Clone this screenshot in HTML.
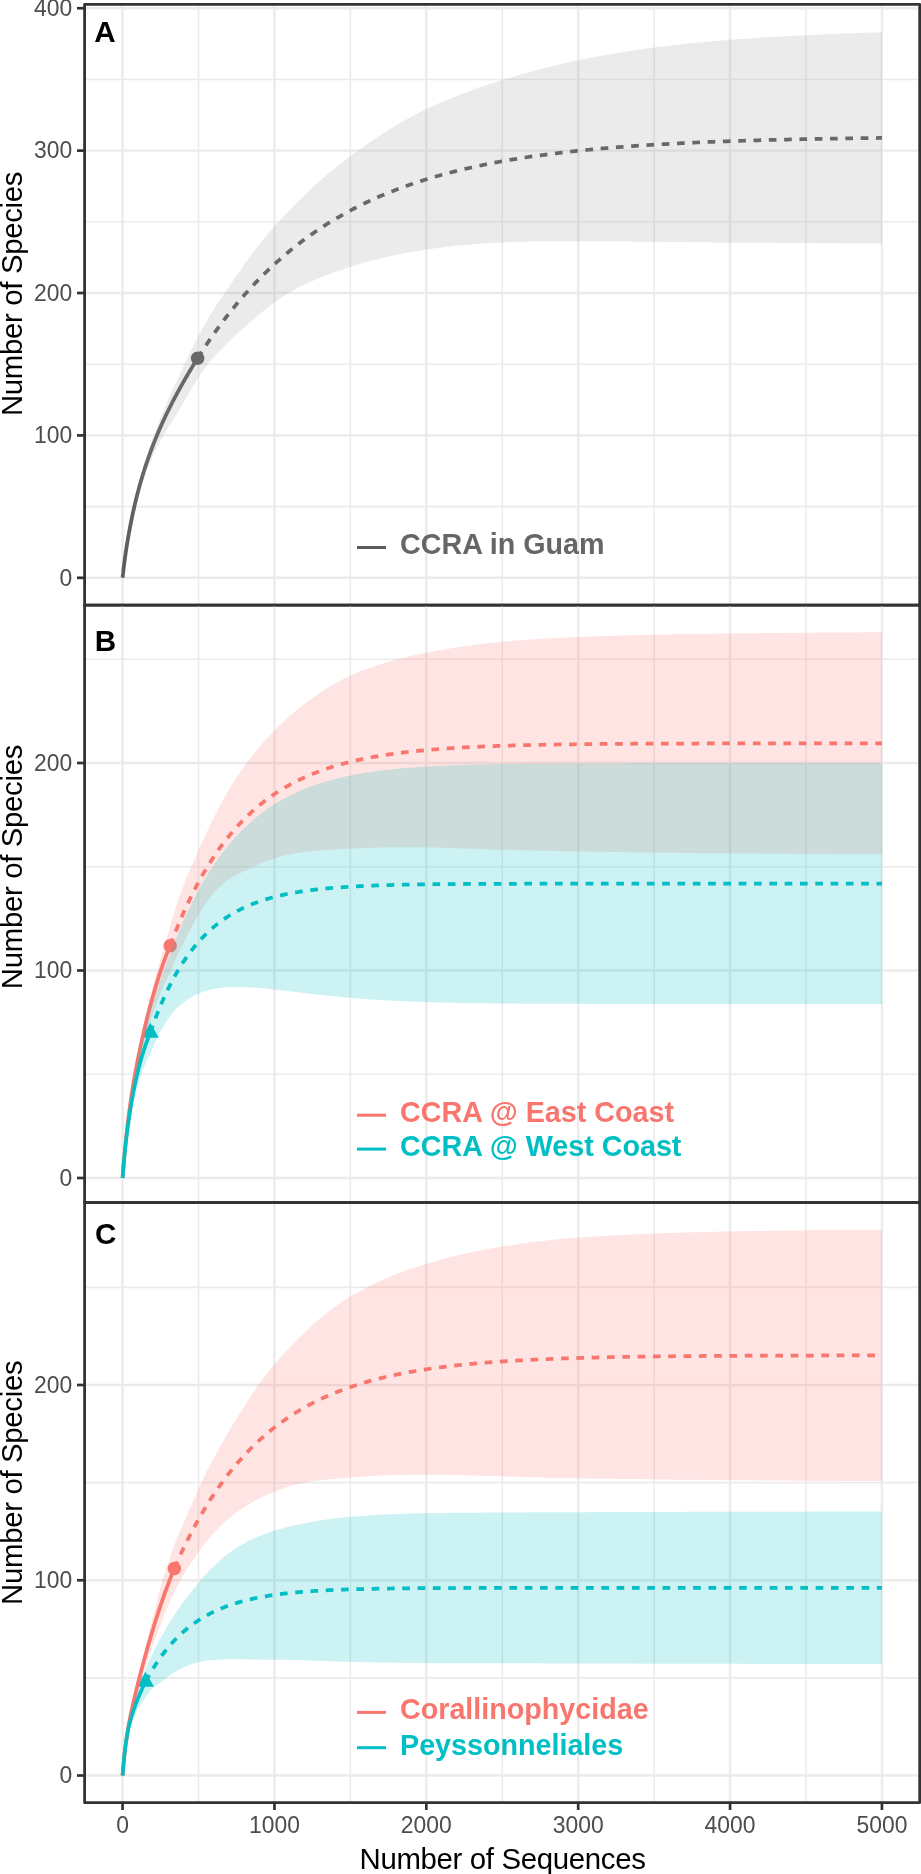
<!DOCTYPE html>
<html><head><meta charset="utf-8"><title>Rarefaction curves</title>
<style>html,body{margin:0;padding:0;background:#fff;width:921px;height:1874px;overflow:hidden;font-family:"Liberation Sans",sans-serif;}svg{display:block;will-change:transform;}</style>
</head><body>
<svg width="921" height="1874" viewBox="0 0 921 1874">
<rect width="921" height="1874" fill="#ffffff"/>
<g id="panelA">
<line x1="84.6" x2="919.7" y1="506.60" y2="506.60" stroke="#EBEBEB" stroke-width="1.6"/>
<line x1="84.6" x2="919.7" y1="364.21" y2="364.21" stroke="#EBEBEB" stroke-width="1.6"/>
<line x1="84.6" x2="919.7" y1="221.82" y2="221.82" stroke="#EBEBEB" stroke-width="1.6"/>
<line x1="84.6" x2="919.7" y1="79.44" y2="79.44" stroke="#EBEBEB" stroke-width="1.6"/>
<line x1="198.51" x2="198.51" y1="4.45" y2="605.2" stroke="#EBEBEB" stroke-width="1.6"/>
<line x1="350.38" x2="350.38" y1="4.45" y2="605.2" stroke="#EBEBEB" stroke-width="1.6"/>
<line x1="502.25" x2="502.25" y1="4.45" y2="605.2" stroke="#EBEBEB" stroke-width="1.6"/>
<line x1="654.13" x2="654.13" y1="4.45" y2="605.2" stroke="#EBEBEB" stroke-width="1.6"/>
<line x1="806.00" x2="806.00" y1="4.45" y2="605.2" stroke="#EBEBEB" stroke-width="1.6"/>
<line x1="84.6" x2="919.7" y1="577.80" y2="577.80" stroke="#EBEBEB" stroke-width="2.4"/>
<line x1="84.6" x2="919.7" y1="435.41" y2="435.41" stroke="#EBEBEB" stroke-width="2.4"/>
<line x1="84.6" x2="919.7" y1="293.02" y2="293.02" stroke="#EBEBEB" stroke-width="2.4"/>
<line x1="84.6" x2="919.7" y1="150.63" y2="150.63" stroke="#EBEBEB" stroke-width="2.4"/>
<line x1="84.6" x2="919.7" y1="8.24" y2="8.24" stroke="#EBEBEB" stroke-width="2.4"/>
<line x1="122.58" x2="122.58" y1="4.45" y2="605.2" stroke="#EBEBEB" stroke-width="2.4"/>
<line x1="274.45" x2="274.45" y1="4.45" y2="605.2" stroke="#EBEBEB" stroke-width="2.4"/>
<line x1="426.32" x2="426.32" y1="4.45" y2="605.2" stroke="#EBEBEB" stroke-width="2.4"/>
<line x1="578.19" x2="578.19" y1="4.45" y2="605.2" stroke="#EBEBEB" stroke-width="2.4"/>
<line x1="730.06" x2="730.06" y1="4.45" y2="605.2" stroke="#EBEBEB" stroke-width="2.4"/>
<line x1="881.93" x2="881.93" y1="4.45" y2="605.2" stroke="#EBEBEB" stroke-width="2.4"/>
<circle cx="197.60" cy="358.23" r="6.75" fill="#5C5C5C"/>
<path d="M122.58,577.80 L122.58,577.79 L122.58,577.75 L122.59,577.70 L122.60,577.62 L122.61,577.51 L122.62,577.39 L122.64,577.24 L122.66,577.06 L122.68,576.87 L122.70,576.65 L122.73,576.42 L122.75,576.16 L122.78,575.88 L122.82,575.57 L122.85,575.25 L122.89,574.91 L122.93,574.54 L122.97,574.16 L123.02,573.76 L123.06,573.33 L123.11,572.89 L123.17,572.43 L123.22,571.95 L123.28,571.46 L123.34,570.94 L123.40,570.41 L123.46,569.87 L123.53,569.30 L123.60,568.72 L123.67,568.13 L123.74,567.52 L123.82,566.90 L123.90,566.26 L123.98,565.61 L124.06,564.94 L124.15,564.26 L124.24,563.57 L124.33,562.86 L124.42,562.15 L124.52,561.42 L124.61,560.68 L124.71,559.93 L124.82,559.17 L124.92,558.39 L125.03,557.61 L125.14,556.82 L125.25,556.01 L125.37,555.20 L125.49,554.38 L125.61,553.55 L125.73,552.71 L125.85,551.86 L125.98,551.01 L126.11,550.15 L126.24,549.28 L126.37,548.40 L126.51,547.51 L126.65,546.62 L126.79,545.72 L126.94,544.81 L127.08,543.90 L127.23,542.98 L127.38,542.06 L127.54,541.13 L127.69,540.19 L127.85,539.25 L128.01,538.31 L128.18,537.36 L128.34,536.40 L128.51,535.44 L128.68,534.47 L128.85,533.50 L129.03,532.53 L129.21,531.55 L129.39,530.57 L129.57,529.58 L129.75,528.60 L129.94,527.60 L130.13,526.61 L130.32,525.61 L130.52,524.61 L130.72,523.60 L130.92,522.59 L131.12,521.58 L131.32,520.57 L131.53,519.56 L131.74,518.54 L131.95,517.52 L132.16,516.50 L132.38,515.48 L132.60,514.45 L132.82,513.43 L133.05,512.40 L133.27,511.37 L133.50,510.34 L133.73,509.31 L133.97,508.28 L134.20,507.24 L134.44,506.21 L134.68,505.17 L134.92,504.14 L135.17,503.10 L135.42,502.06 L135.67,501.02 L135.92,499.99 L136.18,498.95 L136.43,497.91 L136.69,496.87 L136.96,495.83 L137.22,494.79 L137.49,493.75 L137.76,492.71 L138.03,491.67 L138.31,490.64 L138.58,489.60 L138.86,488.56 L139.14,487.52 L139.43,486.48 L139.72,485.45 L140.00,484.41 L140.30,483.38 L140.59,482.34 L140.89,481.31 L141.19,480.27 L141.49,479.24 L141.79,478.21 L142.10,477.18 L142.41,476.15 L142.72,475.12 L143.03,474.09 L143.35,473.07 L143.66,472.04 L143.98,471.02 L144.31,469.99 L144.63,468.97 L144.96,467.95 L145.29,466.93 L145.62,465.91 L145.96,464.89 L146.30,463.87 L146.64,462.86 L146.98,461.84 L147.32,460.83 L147.67,459.82 L148.02,458.81 L148.37,457.80 L148.73,456.79 L149.08,455.78 L149.44,454.78 L149.81,453.77 L150.17,452.77 L150.54,451.77 L150.91,450.77 L151.28,449.77 L151.65,448.77 L152.03,447.78 L152.41,446.78 L152.79,445.79 L153.17,444.80 L153.56,443.80 L153.95,442.81 L154.34,441.83 L154.73,440.84 L155.13,439.85 L155.52,438.87 L155.92,437.89 L156.33,436.90 L156.73,435.92 L157.14,434.94 L157.55,433.96 L157.96,432.99 L158.38,432.01 L158.80,431.04 L159.22,430.06 L159.64,429.09 L160.06,428.12 L160.49,427.15 L160.92,426.18 L161.35,425.21 L161.79,424.24 L162.22,423.27 L162.66,422.31 L163.10,421.34 L163.55,420.38 L163.99,419.41 L164.44,418.45 L164.89,417.49 L165.35,416.53 L165.80,415.57 L166.26,414.61 L166.72,413.65 L167.19,412.69 L167.65,411.74 L168.12,410.78 L168.59,409.82 L169.06,408.87 L169.54,407.91 L170.02,406.96 L170.50,406.00 L170.98,405.05 L171.47,404.10 L171.95,403.14 L172.44,402.19 L172.94,401.24 L173.43,400.29 L173.93,399.33 L174.43,398.38 L174.93,397.43 L175.44,396.48 L175.94,395.53 L176.45,394.58 L176.96,393.63 L177.48,392.67 L178.00,391.72 L178.51,390.77 L179.04,389.82 L179.56,388.87 L180.09,387.92 L180.61,386.97 L181.15,386.01 L181.68,385.06 L182.22,384.11 L182.75,383.16 L183.30,382.21 L183.84,381.25 L184.38,380.30 L184.93,379.34 L185.48,378.39 L186.04,377.44 L186.59,376.48 L187.15,375.53 L187.71,374.57 L188.27,373.61 L188.84,372.66 L189.40,371.70 L189.97,370.74 L190.55,369.78 L191.12,368.82 L191.70,367.86 L192.28,366.90 L192.86,365.94 L193.44,364.98 L194.03,364.02 L194.62,363.06 L195.21,362.09 L195.81,361.13 L196.40,360.17 L197.00,359.20 L197.60,358.23" fill="none" stroke="#5C5C5C" stroke-width="3.75" stroke-linejoin="round"/>
<path d="M197.60,358.23 L199.32,355.52 L201.03,352.84 L202.75,350.20 L204.46,347.58 L206.18,345.00 L207.89,342.45 L209.61,339.93 L211.32,337.44 L213.04,334.98 L214.75,332.55 L216.47,330.15 L218.19,327.78 L219.90,325.44 L221.62,323.13 L223.33,320.85 L225.05,318.59 L226.76,316.36 L228.48,314.16 L230.19,311.99 L231.91,309.84 L233.62,307.72 L235.34,305.63 L237.05,303.56 L238.77,301.51 L240.48,299.49 L242.20,297.50 L243.91,295.53 L245.63,293.58 L247.34,291.66 L249.06,289.76 L250.77,287.88 L252.49,286.03 L254.20,284.20 L255.92,282.39 L257.63,280.61 L259.35,278.84 L261.06,277.10 L262.78,275.38 L264.49,273.68 L266.21,272.00 L267.92,270.34 L269.64,268.71 L271.35,267.09 L273.07,265.49 L274.78,263.91 L276.50,262.35 L278.21,260.81 L279.93,259.29 L281.64,257.78 L283.36,256.30 L285.07,254.83 L286.79,253.38 L288.50,251.95 L290.22,250.54 L291.93,249.14 L293.65,247.76 L295.36,246.40 L297.08,245.06 L298.79,243.73 L300.51,242.41 L302.23,241.12 L303.94,239.84 L305.66,238.57 L307.37,237.32 L309.09,236.09 L310.80,234.87 L312.52,233.66 L314.23,232.47 L315.95,231.30 L317.66,230.13 L319.38,228.99 L321.09,227.85 L322.81,226.74 L324.52,225.63 L326.24,224.54 L327.95,223.46 L329.67,222.39 L331.38,221.34 L333.10,220.30 L334.81,219.28 L336.53,218.26 L338.24,217.26 L339.96,216.27 L341.67,215.29 L343.39,214.33 L345.10,213.37 L346.82,212.43 L348.53,211.50 L350.25,210.58 L351.96,209.68 L353.68,208.78 L355.39,207.89 L357.11,207.02 L358.82,206.15 L360.54,205.30 L362.25,204.46 L363.97,203.62 L365.68,202.80 L367.40,201.99 L369.11,201.18 L370.83,200.39 L372.54,199.61 L374.26,198.83 L375.97,198.07 L377.69,197.32 L379.40,196.57 L381.12,195.83 L382.83,195.11 L384.55,194.39 L386.27,193.68 L387.98,192.98 L389.70,192.28 L391.41,191.60 L393.13,190.92 L394.84,190.26 L396.56,189.60 L398.27,188.94 L399.99,188.30 L401.70,187.67 L403.42,187.04 L405.13,186.42 L406.85,185.81 L408.56,185.20 L410.28,184.60 L411.99,184.01 L413.71,183.43 L415.42,182.85 L417.14,182.28 L418.85,181.72 L420.57,181.17 L422.28,180.62 L424.00,180.08 L425.71,179.54 L427.43,179.01 L429.14,178.49 L430.86,177.98 L432.57,177.47 L434.29,176.96 L436.00,176.47 L437.72,175.98 L439.43,175.49 L441.15,175.01 L442.86,174.54 L444.58,174.07 L446.29,173.61 L448.01,173.15 L449.72,172.70 L451.44,172.26 L453.15,171.82 L454.87,171.38 L456.58,170.96 L458.30,170.53 L460.01,170.11 L461.73,169.70 L463.44,169.29 L465.16,168.89 L466.87,168.49 L468.59,168.10 L470.31,167.71 L472.02,167.33 L473.74,166.95 L475.45,166.57 L477.17,166.20 L478.88,165.84 L480.60,165.48 L482.31,165.12 L484.03,164.77 L485.74,164.42 L487.46,164.08 L489.17,163.74 L490.89,163.40 L492.60,163.07 L494.32,162.74 L496.03,162.42 L497.75,162.10 L499.46,161.78 L501.18,161.47 L502.89,161.17 L504.61,160.86 L506.32,160.56 L508.04,160.26 L509.75,159.97 L511.47,159.68 L513.18,159.40 L514.90,159.11 L516.61,158.84 L518.33,158.56 L520.04,158.29 L521.76,158.02 L523.47,157.75 L525.19,157.49 L526.90,157.23 L528.62,156.98 L530.33,156.72 L532.05,156.48 L533.76,156.23 L535.48,155.99 L537.19,155.74 L538.91,155.51 L540.62,155.27 L542.34,155.04 L544.05,154.81 L545.77,154.59 L547.48,154.36 L549.20,154.14 L550.92,153.92 L552.63,153.71 L554.35,153.50 L556.06,153.29 L557.78,153.08 L559.49,152.87 L561.21,152.67 L562.92,152.47 L564.64,152.27 L566.35,152.08 L568.07,151.88 L569.78,151.69 L571.50,151.51 L573.21,151.32 L574.93,151.14 L576.64,150.96 L578.36,150.78 L580.07,150.60 L581.79,150.42 L583.50,150.25 L585.22,150.08 L586.93,149.91 L588.65,149.75 L590.36,149.58 L592.08,149.42 L593.79,149.26 L595.51,149.10 L597.22,148.95 L598.94,148.79 L600.65,148.64 L602.37,148.49 L604.08,148.34 L605.80,148.19 L607.51,148.05 L609.23,147.90 L610.94,147.76 L612.66,147.62 L614.37,147.48 L616.09,147.35 L617.80,147.21 L619.52,147.08 L621.23,146.95 L622.95,146.82 L624.66,146.69 L626.38,146.56 L628.09,146.44 L629.81,146.31 L631.52,146.19 L633.24,146.07 L634.96,145.95 L636.67,145.83 L638.39,145.71 L640.10,145.60 L641.82,145.49 L643.53,145.37 L645.25,145.26 L646.96,145.15 L648.68,145.05 L650.39,144.94 L652.11,144.83 L653.82,144.73 L655.54,144.63 L657.25,144.52 L658.97,144.42 L660.68,144.32 L662.40,144.23 L664.11,144.13 L665.83,144.03 L667.54,143.94 L669.26,143.85 L670.97,143.75 L672.69,143.66 L674.40,143.57 L676.12,143.48 L677.83,143.40 L679.55,143.31 L681.26,143.22 L682.98,143.14 L684.69,143.06 L686.41,142.97 L688.12,142.89 L689.84,142.81 L691.55,142.73 L693.27,142.65 L694.98,142.58 L696.70,142.50 L698.41,142.42 L700.13,142.35 L701.84,142.27 L703.56,142.20 L705.27,142.13 L706.99,142.06 L708.70,141.99 L710.42,141.92 L712.13,141.85 L713.85,141.78 L715.56,141.72 L717.28,141.65 L719.00,141.58 L720.71,141.52 L722.43,141.46 L724.14,141.39 L725.86,141.33 L727.57,141.27 L729.29,141.21 L731.00,141.15 L732.72,141.09 L734.43,141.03 L736.15,140.97 L737.86,140.92 L739.58,140.86 L741.29,140.80 L743.01,140.75 L744.72,140.69 L746.44,140.64 L748.15,140.59 L749.87,140.54 L751.58,140.48 L753.30,140.43 L755.01,140.38 L756.73,140.33 L758.44,140.28 L760.16,140.24 L761.87,140.19 L763.59,140.14 L765.30,140.09 L767.02,140.05 L768.73,140.00 L770.45,139.96 L772.16,139.91 L773.88,139.87 L775.59,139.82 L777.31,139.78 L779.02,139.74 L780.74,139.70 L782.45,139.65 L784.17,139.61 L785.88,139.57 L787.60,139.53 L789.31,139.49 L791.03,139.45 L792.74,139.42 L794.46,139.38 L796.17,139.34 L797.89,139.30 L799.61,139.27 L801.32,139.23 L803.04,139.19 L804.75,139.16 L806.47,139.12 L808.18,139.09 L809.90,139.06 L811.61,139.02 L813.33,138.99 L815.04,138.96 L816.76,138.92 L818.47,138.89 L820.19,138.86 L821.90,138.83 L823.62,138.80 L825.33,138.77 L827.05,138.74 L828.76,138.71 L830.48,138.68 L832.19,138.65 L833.91,138.62 L835.62,138.59 L837.34,138.56 L839.05,138.54 L840.77,138.51 L842.48,138.48 L844.20,138.46 L845.91,138.43 L847.63,138.40 L849.34,138.38 L851.06,138.35 L852.77,138.33 L854.49,138.30 L856.20,138.28 L857.92,138.25 L859.63,138.23 L861.35,138.21 L863.06,138.18 L864.78,138.16 L866.49,138.14 L868.21,138.12 L869.92,138.09 L871.64,138.07 L873.35,138.05 L875.07,138.03 L876.78,138.01 L878.50,137.99 L880.21,137.97 L881.93,137.95" fill="none" stroke="#5C5C5C" stroke-width="3.75" stroke-dasharray="7.655 7.655" stroke-linejoin="round"/>
<path d="M122.58,577.80 L122.58,577.78 L122.59,577.74 L122.59,577.66 L122.60,577.56 L122.62,577.42 L122.64,577.26 L122.66,577.06 L122.68,576.83 L122.71,576.58 L122.74,576.30 L122.77,575.99 L122.80,575.65 L122.84,575.28 L122.88,574.89 L122.93,574.46 L122.98,574.02 L123.03,573.54 L123.08,573.05 L123.14,572.52 L123.20,571.97 L123.27,571.40 L123.33,570.81 L123.40,570.19 L123.48,569.55 L123.55,568.89 L123.63,568.21 L123.71,567.51 L123.80,566.79 L123.89,566.05 L123.98,565.29 L124.07,564.51 L124.17,563.72 L124.27,562.91 L124.38,562.08 L124.48,561.23 L124.59,560.37 L124.71,559.50 L124.82,558.61 L124.94,557.70 L125.07,556.78 L125.19,555.85 L125.32,554.91 L125.45,553.95 L125.59,552.98 L125.73,552.00 L125.87,551.01 L126.01,550.00 L126.16,548.99 L126.31,547.96 L126.47,546.93 L126.62,545.88 L126.78,544.83 L126.95,543.76 L127.11,542.69 L127.28,541.61 L127.45,540.52 L127.63,539.42 L127.81,538.31 L127.99,537.20 L128.17,536.08 L128.36,534.95 L128.55,533.82 L128.75,532.68 L128.95,531.53 L129.15,530.38 L129.35,529.22 L129.56,528.05 L129.77,526.88 L129.98,525.71 L130.20,524.53 L130.41,523.34 L130.64,522.15 L130.86,520.96 L131.09,519.76 L131.32,518.56 L131.56,517.35 L131.79,516.15 L132.04,514.93 L132.28,513.72 L132.53,512.50 L132.78,511.28 L133.03,510.05 L133.29,508.82 L133.55,507.59 L133.81,506.36 L134.07,505.13 L134.34,503.89 L134.62,502.65 L134.89,501.41 L135.17,500.17 L135.45,498.93 L135.73,497.68 L136.02,496.44 L136.31,495.19 L136.61,493.94 L136.90,492.69 L137.20,491.44 L137.51,490.19 L137.81,488.94 L138.12,487.69 L138.43,486.43 L138.75,485.18 L139.07,483.92 L139.39,482.67 L139.71,481.41 L140.04,480.15 L140.37,478.90 L140.71,477.64 L141.04,476.38 L141.38,475.13 L141.73,473.87 L142.08,472.61 L142.42,471.35 L142.78,470.10 L143.13,468.84 L143.49,467.58 L143.85,466.33 L144.22,465.07 L144.59,463.82 L144.96,462.56 L145.33,461.31 L145.71,460.06 L146.09,458.81 L146.48,457.55 L146.86,456.30 L147.25,455.06 L147.65,453.81 L148.04,452.56 L148.44,451.31 L148.84,450.07 L149.25,448.83 L149.66,447.58 L150.07,446.34 L150.49,445.11 L150.90,443.87 L151.33,442.63 L151.75,441.40 L152.18,440.17 L152.61,438.93 L153.04,437.71 L153.48,436.48 L153.92,435.25 L154.36,434.03 L154.81,432.81 L155.26,431.59 L155.71,430.38 L156.16,429.16 L156.62,427.95 L157.08,426.74 L157.55,425.53 L158.02,424.32 L158.49,423.11 L158.96,421.90 L159.44,420.70 L159.92,419.49 L160.40,418.29 L160.89,417.08 L161.38,415.88 L161.87,414.67 L162.37,413.47 L162.86,412.27 L163.37,411.06 L163.87,409.86 L164.38,408.65 L164.89,407.45 L165.41,406.24 L165.92,405.03 L166.44,403.82 L166.97,402.61 L167.49,401.40 L168.02,400.18 L168.56,398.97 L169.09,397.75 L169.63,396.53 L170.18,395.31 L170.72,394.08 L171.27,392.86 L171.82,391.63 L172.38,390.40 L172.93,389.17 L173.49,387.94 L174.06,386.70 L174.63,385.46 L175.20,384.21 L175.77,382.97 L176.35,381.72 L176.93,380.46 L177.51,379.20 L178.10,377.93 L178.68,376.66 L179.28,375.38 L179.87,374.09 L180.47,372.80 L181.07,371.50 L181.68,370.21 L182.28,368.90 L182.89,367.60 L183.51,366.29 L184.13,364.98 L184.75,363.67 L185.37,362.35 L185.99,361.04 L186.62,359.73 L187.26,358.42 L187.89,357.12 L188.53,355.81 L189.17,354.50 L189.82,353.18 L190.47,351.86 L191.12,350.55 L191.77,349.23 L192.43,347.91 L193.09,346.58 L193.75,345.26 L194.42,343.94 L195.09,342.62 L195.76,341.30 L196.44,339.98 L197.12,338.67 L197.80,337.36 L198.49,336.06 L199.17,334.76 L199.87,333.46 L200.56,332.15 L201.26,330.85 L201.96,329.55 L202.66,328.25 L203.37,326.96 L204.08,325.67 L204.79,324.38 L205.51,323.10 L206.23,321.83 L206.95,320.57 L207.68,319.31 L208.41,318.07 L209.14,316.84 L209.87,315.62 L210.61,314.41 L211.35,313.21 L212.10,312.01 L212.85,310.82 L213.60,309.63 L214.35,308.45 L215.11,307.27 L215.87,306.10 L216.63,304.93 L217.40,303.76 L218.17,302.59 L218.94,301.42 L219.71,300.24 L220.49,299.07 L221.27,297.90 L222.06,296.74 L222.85,295.58 L223.64,294.43 L224.43,293.27 L225.23,292.12 L226.03,290.96 L226.83,289.81 L227.64,288.65 L228.45,287.49 L229.26,286.32 L230.08,285.14 L230.90,283.95 L231.72,282.76 L232.54,281.55 L233.37,280.33 L234.20,279.10 L235.04,277.86 L235.88,276.62 L236.72,275.38 L237.56,274.13 L238.41,272.89 L239.26,271.64 L240.11,270.40 L240.97,269.16 L241.83,267.93 L242.69,266.71 L243.56,265.49 L244.42,264.27 L245.30,263.06 L246.17,261.84 L247.05,260.63 L247.93,259.41 L248.81,258.20 L249.70,257.00 L250.59,255.79 L251.49,254.59 L252.38,253.39 L253.28,252.20 L254.19,251.01 L255.09,249.82 L256.00,248.63 L256.91,247.45 L257.83,246.27 L258.75,245.09 L259.67,243.92 L260.59,242.75 L261.52,241.59 L262.45,240.43 L263.39,239.28 L264.32,238.13 L265.26,236.99 L266.21,235.86 L267.15,234.74 L268.10,233.62 L269.06,232.51 L270.01,231.40 L270.97,230.30 L271.93,229.20 L272.90,228.10 L273.87,227.00 L274.84,225.90 L275.81,224.81 L276.79,223.71 L277.77,222.62 L278.75,221.53 L279.74,220.44 L280.73,219.36 L281.72,218.28 L282.72,217.20 L283.72,216.12 L284.72,215.05 L285.73,213.97 L286.74,212.91 L287.75,211.84 L288.76,210.78 L289.78,209.71 L290.80,208.66 L291.82,207.60 L292.85,206.55 L293.88,205.50 L294.92,204.45 L295.95,203.41 L296.99,202.36 L298.04,201.32 L299.08,200.29 L300.13,199.26 L301.18,198.23 L302.24,197.20 L303.30,196.17 L304.36,195.15 L305.42,194.13 L306.49,193.12 L307.56,192.10 L308.63,191.09 L309.71,190.09 L310.79,189.08 L311.87,188.08 L312.96,187.09 L314.05,186.09 L315.14,185.10 L316.24,184.11 L317.34,183.13 L318.44,182.15 L319.54,181.17 L320.65,180.19 L321.76,179.22 L322.88,178.25 L324.00,177.28 L325.12,176.32 L326.24,175.36 L327.37,174.41 L328.50,173.45 L329.63,172.50 L330.77,171.56 L331.90,170.61 L333.05,169.67 L334.19,168.74 L335.34,167.80 L336.49,166.88 L337.65,165.95 L338.80,165.03 L339.97,164.11 L341.13,163.19 L342.30,162.28 L343.47,161.37 L344.64,160.46 L345.82,159.56 L347.00,158.66 L348.18,157.77 L349.37,156.88 L350.55,155.99 L351.75,155.11 L352.94,154.22 L354.14,153.34 L355.34,152.46 L356.55,151.59 L357.75,150.71 L358.96,149.84 L360.18,148.97 L361.39,148.10 L362.61,147.24 L363.84,146.38 L365.06,145.52 L366.29,144.66 L367.53,143.81 L368.76,142.96 L370.00,142.11 L371.24,141.26 L372.49,140.42 L373.73,139.58 L374.98,138.74 L376.24,137.91 L377.50,137.08 L378.76,136.25 L380.02,135.43 L381.29,134.61 L382.56,133.79 L383.83,132.98 L385.11,132.16 L386.38,131.36 L387.67,130.56 L388.95,129.76 L390.24,128.96 L391.53,128.17 L392.83,127.38 L394.12,126.60 L395.42,125.82 L396.73,125.04 L398.04,124.27 L399.35,123.51 L400.66,122.74 L401.98,121.99 L403.29,121.23 L404.62,120.48 L405.94,119.74 L407.27,119.00 L408.60,118.27 L409.94,117.54 L411.28,116.81 L412.62,116.10 L413.96,115.38 L415.31,114.67 L416.66,113.97 L418.01,113.27 L419.37,112.58 L420.73,111.90 L422.09,111.22 L423.46,110.54 L424.83,109.87 L426.20,109.21 L427.58,108.56 L428.96,107.90 L430.34,107.26 L431.72,106.61 L433.11,105.98 L434.50,105.34 L435.89,104.71 L437.29,104.09 L438.69,103.47 L440.10,102.85 L441.50,102.24 L442.91,101.64 L444.32,101.03 L445.74,100.43 L447.16,99.84 L448.58,99.25 L450.01,98.66 L451.43,98.08 L452.87,97.50 L454.30,96.93 L455.74,96.36 L457.18,95.79 L458.62,95.22 L460.07,94.67 L461.52,94.11 L462.97,93.56 L464.43,93.01 L465.89,92.46 L467.35,91.92 L468.82,91.38 L470.28,90.85 L471.76,90.31 L473.23,89.78 L474.71,89.26 L476.19,88.73 L477.67,88.21 L479.16,87.70 L480.65,87.18 L482.15,86.67 L483.64,86.16 L485.14,85.66 L486.64,85.15 L488.15,84.65 L489.66,84.15 L491.17,83.66 L492.69,83.16 L494.21,82.67 L495.73,82.18 L497.25,81.70 L498.78,81.21 L500.31,80.73 L501.84,80.25 L503.38,79.77 L504.92,79.29 L506.46,78.81 L508.01,78.34 L509.56,77.87 L511.11,77.40 L512.67,76.93 L514.23,76.46 L515.79,76.00 L517.35,75.54 L518.92,75.08 L520.49,74.62 L522.07,74.17 L523.65,73.72 L525.23,73.27 L526.81,72.82 L528.40,72.38 L529.99,71.93 L531.58,71.49 L533.18,71.06 L534.77,70.62 L536.38,70.19 L537.98,69.76 L539.59,69.33 L541.20,68.91 L542.82,68.49 L544.43,68.07 L546.06,67.65 L547.68,67.24 L549.31,66.83 L550.94,66.43 L552.57,66.02 L554.21,65.62 L555.85,65.23 L557.49,64.83 L559.14,64.44 L560.78,64.06 L562.44,63.67 L564.09,63.29 L565.75,62.92 L567.41,62.54 L569.08,62.17 L570.74,61.81 L572.41,61.45 L574.09,61.09 L575.76,60.74 L577.44,60.39 L579.13,60.04 L580.81,59.70 L582.50,59.36 L584.20,59.02 L585.89,58.68 L587.59,58.35 L589.29,58.02 L591.00,57.69 L592.70,57.36 L594.42,57.04 L596.13,56.72 L597.85,56.40 L599.57,56.08 L601.29,55.77 L603.02,55.46 L604.75,55.15 L606.48,54.84 L608.22,54.54 L609.96,54.24 L611.70,53.94 L613.44,53.64 L615.19,53.35 L616.94,53.06 L618.70,52.77 L620.46,52.48 L622.22,52.20 L623.98,51.92 L625.75,51.64 L627.52,51.37 L629.29,51.09 L631.07,50.82 L632.85,50.56 L634.63,50.29 L636.41,50.03 L638.20,49.77 L640.00,49.51 L641.79,49.26 L643.59,49.01 L645.39,48.76 L647.19,48.51 L649.00,48.27 L650.81,48.03 L652.63,47.79 L654.44,47.56 L656.26,47.33 L658.09,47.10 L659.91,46.87 L661.74,46.64 L663.57,46.42 L665.41,46.20 L667.25,45.97 L669.09,45.76 L670.93,45.54 L672.78,45.32 L674.63,45.11 L676.49,44.90 L678.34,44.69 L680.20,44.48 L682.07,44.28 L683.93,44.08 L685.80,43.87 L687.68,43.68 L689.55,43.48 L691.43,43.28 L693.31,43.09 L695.20,42.90 L697.09,42.71 L698.98,42.52 L700.87,42.34 L702.77,42.16 L704.67,41.98 L706.57,41.80 L708.48,41.62 L710.39,41.45 L712.30,41.28 L714.22,41.11 L716.14,40.94 L718.06,40.77 L719.99,40.61 L721.92,40.45 L723.85,40.29 L725.78,40.14 L727.72,39.98 L729.66,39.83 L731.61,39.68 L733.55,39.53 L735.50,39.39 L737.46,39.24 L739.41,39.10 L741.37,38.96 L743.34,38.82 L745.30,38.68 L747.27,38.55 L749.24,38.41 L751.22,38.28 L753.20,38.15 L755.18,38.02 L757.16,37.89 L759.15,37.76 L761.14,37.63 L763.14,37.51 L765.13,37.39 L767.13,37.27 L769.14,37.15 L771.14,37.03 L773.15,36.91 L775.17,36.79 L777.18,36.68 L779.20,36.57 L781.22,36.45 L783.25,36.34 L785.28,36.23 L787.31,36.13 L789.34,36.02 L791.38,35.91 L793.42,35.81 L795.46,35.70 L797.51,35.60 L799.56,35.50 L801.61,35.40 L803.67,35.30 L805.73,35.20 L807.79,35.11 L809.86,35.01 L811.92,34.91 L814.00,34.82 L816.07,34.73 L818.15,34.63 L820.23,34.54 L822.31,34.45 L824.40,34.36 L826.49,34.27 L828.58,34.18 L830.68,34.09 L832.78,34.01 L834.88,33.92 L836.99,33.84 L839.10,33.75 L841.21,33.67 L843.33,33.59 L845.44,33.51 L847.57,33.43 L849.69,33.35 L851.82,33.27 L853.95,33.20 L856.08,33.12 L858.22,33.04 L860.36,32.97 L862.50,32.90 L864.65,32.83 L866.80,32.76 L868.95,32.69 L871.11,32.62 L873.26,32.55 L875.43,32.49 L877.59,32.42 L879.76,32.36 L881.93,32.29 L881.93,243.60 L879.76,243.59 L877.59,243.58 L875.43,243.56 L873.26,243.55 L871.11,243.54 L868.95,243.53 L866.80,243.51 L864.65,243.50 L862.50,243.49 L860.36,243.47 L858.22,243.46 L856.08,243.44 L853.95,243.43 L851.82,243.41 L849.69,243.40 L847.57,243.38 L845.44,243.37 L843.33,243.35 L841.21,243.33 L839.10,243.32 L836.99,243.30 L834.88,243.29 L832.78,243.27 L830.68,243.26 L828.58,243.24 L826.49,243.23 L824.40,243.21 L822.31,243.19 L820.23,243.18 L818.15,243.16 L816.07,243.15 L814.00,243.13 L811.92,243.12 L809.86,243.11 L807.79,243.09 L805.73,243.08 L803.67,243.06 L801.61,243.05 L799.56,243.04 L797.51,243.02 L795.46,243.01 L793.42,243.00 L791.38,242.98 L789.34,242.97 L787.31,242.95 L785.28,242.94 L783.25,242.93 L781.22,242.91 L779.20,242.90 L777.18,242.89 L775.17,242.87 L773.15,242.86 L771.14,242.85 L769.14,242.83 L767.13,242.82 L765.13,242.81 L763.14,242.79 L761.14,242.78 L759.15,242.77 L757.16,242.75 L755.18,242.74 L753.20,242.73 L751.22,242.71 L749.24,242.70 L747.27,242.69 L745.30,242.67 L743.34,242.66 L741.37,242.64 L739.41,242.63 L737.46,242.62 L735.50,242.60 L733.55,242.59 L731.61,242.57 L729.66,242.56 L727.72,242.55 L725.78,242.53 L723.85,242.52 L721.92,242.50 L719.99,242.48 L718.06,242.46 L716.14,242.45 L714.22,242.43 L712.30,242.41 L710.39,242.39 L708.48,242.37 L706.57,242.35 L704.67,242.33 L702.77,242.31 L700.87,242.29 L698.98,242.27 L697.09,242.25 L695.20,242.23 L693.31,242.21 L691.43,242.19 L689.55,242.17 L687.68,242.15 L685.80,242.13 L683.93,242.11 L682.07,242.09 L680.20,242.07 L678.34,242.05 L676.49,242.03 L674.63,242.01 L672.78,241.99 L670.93,241.97 L669.09,241.95 L667.25,241.94 L665.41,241.92 L663.57,241.90 L661.74,241.88 L659.91,241.87 L658.09,241.85 L656.26,241.84 L654.44,241.82 L652.63,241.81 L650.81,241.79 L649.00,241.78 L647.19,241.76 L645.39,241.75 L643.59,241.73 L641.79,241.72 L640.00,241.70 L638.20,241.68 L636.41,241.67 L634.63,241.65 L632.85,241.64 L631.07,241.62 L629.29,241.61 L627.52,241.59 L625.75,241.57 L623.98,241.56 L622.22,241.54 L620.46,241.53 L618.70,241.51 L616.94,241.50 L615.19,241.49 L613.44,241.47 L611.70,241.46 L609.96,241.45 L608.22,241.44 L606.48,241.43 L604.75,241.41 L603.02,241.40 L601.29,241.40 L599.57,241.39 L597.85,241.38 L596.13,241.37 L594.42,241.37 L592.70,241.36 L591.00,241.36 L589.29,241.35 L587.59,241.35 L585.89,241.35 L584.20,241.35 L582.50,241.35 L580.81,241.35 L579.13,241.35 L577.44,241.36 L575.76,241.36 L574.09,241.36 L572.41,241.36 L570.74,241.37 L569.08,241.37 L567.41,241.37 L565.75,241.37 L564.09,241.38 L562.44,241.38 L560.78,241.38 L559.14,241.39 L557.49,241.39 L555.85,241.40 L554.21,241.40 L552.57,241.41 L550.94,241.41 L549.31,241.42 L547.68,241.43 L546.06,241.44 L544.43,241.45 L542.82,241.47 L541.20,241.48 L539.59,241.49 L537.98,241.51 L536.38,241.53 L534.77,241.55 L533.18,241.57 L531.58,241.59 L529.99,241.62 L528.40,241.65 L526.81,241.67 L525.23,241.71 L523.65,241.74 L522.07,241.77 L520.49,241.81 L518.92,241.85 L517.35,241.89 L515.79,241.94 L514.23,241.98 L512.67,242.03 L511.11,242.09 L509.56,242.14 L508.01,242.20 L506.46,242.26 L504.92,242.32 L503.38,242.39 L501.84,242.46 L500.31,242.53 L498.78,242.61 L497.25,242.69 L495.73,242.76 L494.21,242.85 L492.69,242.93 L491.17,243.02 L489.66,243.11 L488.15,243.20 L486.64,243.30 L485.14,243.39 L483.64,243.49 L482.15,243.60 L480.65,243.70 L479.16,243.81 L477.67,243.92 L476.19,244.03 L474.71,244.15 L473.23,244.27 L471.76,244.39 L470.28,244.51 L468.82,244.63 L467.35,244.76 L465.89,244.89 L464.43,245.02 L462.97,245.16 L461.52,245.30 L460.07,245.44 L458.62,245.58 L457.18,245.73 L455.74,245.87 L454.30,246.02 L452.87,246.18 L451.43,246.33 L450.01,246.49 L448.58,246.65 L447.16,246.81 L445.74,246.98 L444.32,247.15 L442.91,247.32 L441.50,247.49 L440.10,247.67 L438.69,247.85 L437.29,248.03 L435.89,248.21 L434.50,248.40 L433.11,248.59 L431.72,248.78 L430.34,248.97 L428.96,249.17 L427.58,249.37 L426.20,249.57 L424.83,249.77 L423.46,249.98 L422.09,250.19 L420.73,250.41 L419.37,250.62 L418.01,250.84 L416.66,251.06 L415.31,251.29 L413.96,251.52 L412.62,251.75 L411.28,251.98 L409.94,252.22 L408.60,252.46 L407.27,252.70 L405.94,252.95 L404.62,253.20 L403.29,253.45 L401.98,253.70 L400.66,253.96 L399.35,254.22 L398.04,254.49 L396.73,254.75 L395.42,255.02 L394.12,255.30 L392.83,255.57 L391.53,255.85 L390.24,256.13 L388.95,256.42 L387.67,256.71 L386.38,257.00 L385.11,257.29 L383.83,257.59 L382.56,257.89 L381.29,258.20 L380.02,258.50 L378.76,258.81 L377.50,259.13 L376.24,259.45 L374.98,259.77 L373.73,260.09 L372.49,260.41 L371.24,260.74 L370.00,261.08 L368.76,261.41 L367.53,261.75 L366.29,262.09 L365.06,262.44 L363.84,262.79 L362.61,263.14 L361.39,263.50 L360.18,263.86 L358.96,264.22 L357.75,264.58 L356.55,264.95 L355.34,265.32 L354.14,265.70 L352.94,266.08 L351.75,266.46 L350.55,266.84 L349.37,267.23 L348.18,267.62 L347.00,268.00 L345.82,268.39 L344.64,268.78 L343.47,269.18 L342.30,269.57 L341.13,269.96 L339.97,270.36 L338.80,270.76 L337.65,271.16 L336.49,271.56 L335.34,271.96 L334.19,272.37 L333.05,272.78 L331.90,273.19 L330.77,273.60 L329.63,274.02 L328.50,274.44 L327.37,274.86 L326.24,275.29 L325.12,275.72 L324.00,276.15 L322.88,276.59 L321.76,277.03 L320.65,277.47 L319.54,277.92 L318.44,278.37 L317.34,278.83 L316.24,279.29 L315.14,279.75 L314.05,280.22 L312.96,280.69 L311.87,281.17 L310.79,281.65 L309.71,282.14 L308.63,282.64 L307.56,283.13 L306.49,283.64 L305.42,284.14 L304.36,284.66 L303.30,285.17 L302.24,285.70 L301.18,286.23 L300.13,286.76 L299.08,287.30 L298.04,287.85 L296.99,288.40 L295.95,288.96 L294.92,289.52 L293.88,290.09 L292.85,290.66 L291.82,291.25 L290.80,291.83 L289.78,292.43 L288.76,293.03 L287.75,293.63 L286.74,294.24 L285.73,294.86 L284.72,295.49 L283.72,296.12 L282.72,296.76 L281.72,297.40 L280.73,298.05 L279.74,298.71 L278.75,299.37 L277.77,300.05 L276.79,300.72 L275.81,301.41 L274.84,302.10 L273.87,302.80 L272.90,303.50 L271.93,304.21 L270.97,304.93 L270.01,305.66 L269.06,306.40 L268.10,307.14 L267.15,307.89 L266.21,308.65 L265.26,309.41 L264.32,310.19 L263.39,310.98 L262.45,311.78 L261.52,312.59 L260.59,313.41 L259.67,314.23 L258.75,315.05 L257.83,315.86 L256.91,316.68 L256.00,317.48 L255.09,318.28 L254.19,319.06 L253.28,319.83 L252.38,320.58 L251.49,321.33 L250.59,322.07 L249.70,322.81 L248.81,323.54 L247.93,324.28 L247.05,325.01 L246.17,325.75 L245.30,326.49 L244.42,327.24 L243.56,328.00 L242.69,328.76 L241.83,329.52 L240.97,330.29 L240.11,331.06 L239.26,331.83 L238.41,332.60 L237.56,333.37 L236.72,334.15 L235.88,334.93 L235.04,335.71 L234.20,336.50 L233.37,337.28 L232.54,338.07 L231.72,338.87 L230.90,339.66 L230.08,340.46 L229.26,341.26 L228.45,342.07 L227.64,342.88 L226.83,343.69 L226.03,344.50 L225.23,345.31 L224.43,346.13 L223.64,346.94 L222.85,347.76 L222.06,348.58 L221.27,349.41 L220.49,350.23 L219.71,351.05 L218.94,351.86 L218.17,352.67 L217.40,353.46 L216.63,354.26 L215.87,355.05 L215.11,355.85 L214.35,356.65 L213.60,357.46 L212.85,358.29 L212.10,359.13 L211.35,359.98 L210.61,360.86 L209.87,361.76 L209.14,362.69 L208.41,363.62 L207.68,364.56 L206.95,365.50 L206.23,366.45 L205.51,367.40 L204.79,368.35 L204.08,369.31 L203.37,370.27 L202.66,371.25 L201.96,372.23 L201.26,373.22 L200.56,374.22 L199.87,375.23 L199.17,376.25 L198.49,377.28 L197.80,378.33 L197.12,379.39 L196.44,380.47 L195.76,381.56 L195.09,382.67 L194.42,383.78 L193.75,384.89 L193.09,386.02 L192.43,387.14 L191.77,388.27 L191.12,389.40 L190.47,390.53 L189.82,391.65 L189.17,392.77 L188.53,393.89 L187.89,395.00 L187.26,396.11 L186.62,397.21 L185.99,398.30 L185.37,399.37 L184.75,400.44 L184.13,401.49 L183.51,402.53 L182.89,403.56 L182.28,404.58 L181.68,405.59 L181.07,406.59 L180.47,407.59 L179.87,408.58 L179.28,409.56 L178.68,410.54 L178.10,411.52 L177.51,412.49 L176.93,413.46 L176.35,414.43 L175.77,415.40 L175.20,416.37 L174.63,417.33 L174.06,418.28 L173.49,419.21 L172.93,420.12 L172.38,421.02 L171.82,421.90 L171.27,422.77 L170.72,423.63 L170.18,424.49 L169.63,425.33 L169.09,426.17 L168.56,427.01 L168.02,427.85 L167.49,428.69 L166.97,429.53 L166.44,430.37 L165.92,431.21 L165.41,432.06 L164.89,432.92 L164.38,433.79 L163.87,434.66 L163.37,435.55 L162.86,436.44 L162.37,437.33 L161.87,438.23 L161.38,439.12 L160.89,440.02 L160.40,440.92 L159.92,441.83 L159.44,442.73 L158.96,443.64 L158.49,444.55 L158.02,445.47 L157.55,446.38 L157.08,447.30 L156.62,448.23 L156.16,449.16 L155.71,450.09 L155.26,451.02 L154.81,451.96 L154.36,452.91 L153.92,453.85 L153.48,454.80 L153.04,455.76 L152.61,456.72 L152.18,457.68 L151.75,458.65 L151.33,459.62 L150.90,460.59 L150.49,461.57 L150.07,462.55 L149.66,463.54 L149.25,464.53 L148.84,465.52 L148.44,466.51 L148.04,467.51 L147.65,468.51 L147.25,469.52 L146.86,470.52 L146.48,471.53 L146.09,472.55 L145.71,473.56 L145.33,474.58 L144.96,475.61 L144.59,476.63 L144.22,477.66 L143.85,478.69 L143.49,479.72 L143.13,480.76 L142.78,481.80 L142.42,482.84 L142.08,483.89 L141.73,484.93 L141.38,485.98 L141.04,487.03 L140.71,488.09 L140.37,489.14 L140.04,490.20 L139.71,491.26 L139.39,492.32 L139.07,493.38 L138.75,494.45 L138.43,495.51 L138.12,496.58 L137.81,497.65 L137.51,498.72 L137.20,499.79 L136.90,500.87 L136.61,501.94 L136.31,503.02 L136.02,504.09 L135.73,505.17 L135.45,506.25 L135.17,507.33 L134.89,508.41 L134.62,509.49 L134.34,510.57 L134.07,511.65 L133.81,512.73 L133.55,513.80 L133.29,514.88 L133.03,515.96 L132.78,517.04 L132.53,518.12 L132.28,519.19 L132.04,520.27 L131.79,521.34 L131.56,522.41 L131.32,523.49 L131.09,524.55 L130.86,525.62 L130.64,526.68 L130.41,527.75 L130.20,528.81 L129.98,529.86 L129.77,530.92 L129.56,531.97 L129.35,533.01 L129.15,534.06 L128.95,535.09 L128.75,536.13 L128.55,537.16 L128.36,538.19 L128.17,539.21 L127.99,540.22 L127.81,541.23 L127.63,542.24 L127.45,543.24 L127.28,544.23 L127.11,545.22 L126.95,546.19 L126.78,547.17 L126.62,548.13 L126.47,549.09 L126.31,550.04 L126.16,550.98 L126.01,551.91 L125.87,552.83 L125.73,553.75 L125.59,554.65 L125.45,555.55 L125.32,556.43 L125.19,557.30 L125.07,558.16 L124.94,559.01 L124.82,559.85 L124.71,560.68 L124.59,561.49 L124.48,562.29 L124.38,563.07 L124.27,563.84 L124.17,564.60 L124.07,565.34 L123.98,566.06 L123.89,566.77 L123.80,567.46 L123.71,568.14 L123.63,568.79 L123.55,569.43 L123.48,570.05 L123.40,570.65 L123.33,571.22 L123.27,571.78 L123.20,572.32 L123.14,572.83 L123.08,573.32 L123.03,573.79 L122.98,574.24 L122.93,574.66 L122.88,575.05 L122.84,575.42 L122.80,575.77 L122.77,576.09 L122.74,576.38 L122.71,576.65 L122.68,576.89 L122.66,577.10 L122.64,577.29 L122.62,577.44 L122.60,577.57 L122.59,577.67 L122.59,577.74 L122.58,577.79 L122.58,577.80 Z" fill="#9B9B9B" fill-opacity="0.2" stroke="none"/>
<line x1="357" x2="386" y1="547.5" y2="547.5" stroke="#5C5C5C" stroke-width="3.0"/>
<text x="400" y="553.9" fill="#666666" font-family="Liberation Sans, sans-serif" font-weight="bold" font-size="28.7">CCRA in Guam</text>
<text x="94.2" y="41.8" fill="#000" font-family="Liberation Sans, sans-serif" font-weight="bold" font-size="29.6">A</text>
<rect x="84.6" y="4.45" width="835.1" height="600.75" fill="none" stroke="#333333" stroke-width="2.8" stroke-linejoin="round"/>
<line x1="77" x2="84.6" y1="577.80" y2="577.80" stroke="#333333" stroke-width="2.7"/>
<text transform="translate(72.2,585.60) scale(1,1.05)" text-anchor="end" fill="#4D4D4D" font-family="Liberation Sans, sans-serif" font-size="22.9">0</text>
<line x1="77" x2="84.6" y1="435.41" y2="435.41" stroke="#333333" stroke-width="2.7"/>
<text transform="translate(72.2,443.21) scale(1,1.05)" text-anchor="end" fill="#4D4D4D" font-family="Liberation Sans, sans-serif" font-size="22.9">100</text>
<line x1="77" x2="84.6" y1="293.02" y2="293.02" stroke="#333333" stroke-width="2.7"/>
<text transform="translate(72.2,300.82) scale(1,1.05)" text-anchor="end" fill="#4D4D4D" font-family="Liberation Sans, sans-serif" font-size="22.9">200</text>
<line x1="77" x2="84.6" y1="150.63" y2="150.63" stroke="#333333" stroke-width="2.7"/>
<text transform="translate(72.2,158.43) scale(1,1.05)" text-anchor="end" fill="#4D4D4D" font-family="Liberation Sans, sans-serif" font-size="22.9">300</text>
<line x1="77" x2="84.6" y1="8.24" y2="8.24" stroke="#333333" stroke-width="2.7"/>
<text transform="translate(72.2,16.04) scale(1,1.05)" text-anchor="end" fill="#4D4D4D" font-family="Liberation Sans, sans-serif" font-size="22.9">400</text>
<text transform="translate(21.9,294.0) rotate(-90)" text-anchor="middle" fill="#000" font-family="Liberation Sans, sans-serif" font-size="29.4" letter-spacing="-0.34">Number of Species</text>
</g>
<g id="panelB">
<line x1="84.6" x2="919.7" y1="1074.25" y2="1074.25" stroke="#EBEBEB" stroke-width="1.6"/>
<line x1="84.6" x2="919.7" y1="866.75" y2="866.75" stroke="#EBEBEB" stroke-width="1.6"/>
<line x1="84.6" x2="919.7" y1="659.25" y2="659.25" stroke="#EBEBEB" stroke-width="1.6"/>
<line x1="198.51" x2="198.51" y1="605.2" y2="1202.5" stroke="#EBEBEB" stroke-width="1.6"/>
<line x1="350.38" x2="350.38" y1="605.2" y2="1202.5" stroke="#EBEBEB" stroke-width="1.6"/>
<line x1="502.25" x2="502.25" y1="605.2" y2="1202.5" stroke="#EBEBEB" stroke-width="1.6"/>
<line x1="654.13" x2="654.13" y1="605.2" y2="1202.5" stroke="#EBEBEB" stroke-width="1.6"/>
<line x1="806.00" x2="806.00" y1="605.2" y2="1202.5" stroke="#EBEBEB" stroke-width="1.6"/>
<line x1="84.6" x2="919.7" y1="1178.00" y2="1178.00" stroke="#EBEBEB" stroke-width="2.4"/>
<line x1="84.6" x2="919.7" y1="970.50" y2="970.50" stroke="#EBEBEB" stroke-width="2.4"/>
<line x1="84.6" x2="919.7" y1="763.00" y2="763.00" stroke="#EBEBEB" stroke-width="2.4"/>
<line x1="122.58" x2="122.58" y1="605.2" y2="1202.5" stroke="#EBEBEB" stroke-width="2.4"/>
<line x1="274.45" x2="274.45" y1="605.2" y2="1202.5" stroke="#EBEBEB" stroke-width="2.4"/>
<line x1="426.32" x2="426.32" y1="605.2" y2="1202.5" stroke="#EBEBEB" stroke-width="2.4"/>
<line x1="578.19" x2="578.19" y1="605.2" y2="1202.5" stroke="#EBEBEB" stroke-width="2.4"/>
<line x1="730.06" x2="730.06" y1="605.2" y2="1202.5" stroke="#EBEBEB" stroke-width="2.4"/>
<line x1="881.93" x2="881.93" y1="605.2" y2="1202.5" stroke="#EBEBEB" stroke-width="2.4"/>
<circle cx="170.13" cy="945.70" r="6.75" fill="#F8766D"/>
<polygon points="150.22,1022.80 158.84,1037.73 141.60,1037.73" fill="#00BFC4"/>
<path d="M122.58,1178.00 L122.58,1177.99 L122.58,1177.96 L122.59,1177.91 L122.59,1177.83 L122.60,1177.74 L122.61,1177.63 L122.62,1177.49 L122.63,1177.33 L122.64,1177.16 L122.66,1176.96 L122.67,1176.74 L122.69,1176.51 L122.71,1176.25 L122.73,1175.97 L122.75,1175.68 L122.78,1175.36 L122.80,1175.02 L122.83,1174.67 L122.86,1174.29 L122.89,1173.90 L122.92,1173.49 L122.95,1173.06 L122.99,1172.61 L123.02,1172.14 L123.06,1171.66 L123.10,1171.15 L123.14,1170.63 L123.18,1170.10 L123.22,1169.54 L123.27,1168.97 L123.32,1168.39 L123.37,1167.78 L123.42,1167.16 L123.47,1166.53 L123.52,1165.88 L123.57,1165.21 L123.63,1164.53 L123.69,1163.84 L123.75,1163.13 L123.81,1162.41 L123.87,1161.67 L123.93,1160.92 L124.00,1160.16 L124.06,1159.39 L124.13,1158.60 L124.20,1157.80 L124.27,1156.99 L124.35,1156.17 L124.42,1155.33 L124.50,1154.49 L124.57,1153.63 L124.65,1152.77 L124.73,1151.89 L124.82,1151.01 L124.90,1150.12 L124.99,1149.21 L125.07,1148.30 L125.16,1147.38 L125.25,1146.45 L125.34,1145.51 L125.43,1144.57 L125.53,1143.62 L125.62,1142.66 L125.72,1141.69 L125.82,1140.72 L125.92,1139.74 L126.02,1138.76 L126.13,1137.76 L126.23,1136.77 L126.34,1135.77 L126.45,1134.76 L126.56,1133.74 L126.67,1132.73 L126.78,1131.71 L126.89,1130.68 L127.01,1129.65 L127.13,1128.61 L127.25,1127.58 L127.37,1126.53 L127.49,1125.49 L127.61,1124.44 L127.74,1123.39 L127.86,1122.33 L127.99,1121.28 L128.12,1120.22 L128.25,1119.15 L128.38,1118.09 L128.52,1117.02 L128.65,1115.95 L128.79,1114.88 L128.93,1113.81 L129.07,1112.73 L129.21,1111.66 L129.36,1110.58 L129.50,1109.50 L129.65,1108.42 L129.80,1107.34 L129.95,1106.25 L130.10,1105.17 L130.25,1104.09 L130.40,1103.00 L130.56,1101.91 L130.72,1100.83 L130.88,1099.74 L131.04,1098.65 L131.20,1097.56 L131.36,1096.47 L131.53,1095.38 L131.69,1094.29 L131.86,1093.20 L132.03,1092.11 L132.20,1091.02 L132.37,1089.92 L132.55,1088.83 L132.72,1087.74 L132.90,1086.65 L133.08,1085.56 L133.26,1084.46 L133.44,1083.37 L133.62,1082.28 L133.81,1081.18 L134.00,1080.09 L134.18,1079.00 L134.37,1077.90 L134.56,1076.81 L134.76,1075.72 L134.95,1074.62 L135.15,1073.53 L135.34,1072.44 L135.54,1071.34 L135.74,1070.25 L135.94,1069.16 L136.15,1068.06 L136.35,1066.97 L136.56,1065.88 L136.77,1064.78 L136.97,1063.69 L137.19,1062.59 L137.40,1061.50 L137.61,1060.41 L137.83,1059.31 L138.04,1058.22 L138.26,1057.13 L138.48,1056.03 L138.70,1054.94 L138.93,1053.84 L139.15,1052.75 L139.38,1051.65 L139.61,1050.56 L139.84,1049.47 L140.07,1048.37 L140.30,1047.28 L140.53,1046.18 L140.77,1045.09 L141.01,1043.99 L141.24,1042.90 L141.48,1041.80 L141.73,1040.71 L141.97,1039.61 L142.21,1038.52 L142.46,1037.42 L142.71,1036.33 L142.96,1035.23 L143.21,1034.14 L143.46,1033.04 L143.71,1031.95 L143.97,1030.85 L144.23,1029.76 L144.48,1028.66 L144.74,1027.57 L145.01,1026.47 L145.27,1025.38 L145.53,1024.28 L145.80,1023.19 L146.07,1022.10 L146.34,1021.00 L146.61,1019.91 L146.88,1018.82 L147.15,1017.72 L147.43,1016.63 L147.71,1015.54 L147.98,1014.45 L148.26,1013.36 L148.55,1012.27 L148.83,1011.18 L149.11,1010.09 L149.40,1009.00 L149.69,1007.91 L149.98,1006.82 L150.27,1005.74 L150.56,1004.65 L150.85,1003.57 L151.15,1002.48 L151.44,1001.40 L151.74,1000.32 L152.04,999.24 L152.34,998.16 L152.65,997.08 L152.95,996.01 L153.26,994.93 L153.56,993.86 L153.87,992.79 L154.18,991.72 L154.50,990.65 L154.81,989.58 L155.13,988.52 L155.44,987.45 L155.76,986.39 L156.08,985.33 L156.40,984.27 L156.72,983.22 L157.05,982.17 L157.37,981.12 L157.70,980.07 L158.03,979.02 L158.36,977.98 L158.69,976.94 L159.03,975.91 L159.36,974.87 L159.70,973.84 L160.04,972.81 L160.38,971.79 L160.72,970.77 L161.06,969.75 L161.41,968.73 L161.75,967.72 L162.10,966.72 L162.45,965.71 L162.80,964.71 L163.15,963.72 L163.50,962.73 L163.86,961.74 L164.22,960.76 L164.57,959.78 L164.93,958.80 L165.29,957.83 L165.66,956.87 L166.02,955.91 L166.39,954.95 L166.76,954.00 L167.12,953.06 L167.49,952.12 L167.87,951.19 L168.24,950.26 L168.62,949.34 L168.99,948.42 L169.37,947.51 L169.75,946.60 L170.13,945.70" fill="none" stroke="#F8766D" stroke-width="3.75" stroke-linejoin="round"/>
<path d="M170.13,945.70 L171.91,940.97 L173.70,936.35 L175.48,931.84 L177.27,927.43 L179.05,923.12 L180.83,918.92 L182.62,914.81 L184.40,910.80 L186.19,906.89 L187.97,903.06 L189.75,899.33 L191.54,895.68 L193.32,892.12 L195.11,888.64 L196.89,885.24 L198.67,881.92 L200.46,878.68 L202.24,875.52 L204.03,872.43 L205.81,869.41 L207.59,866.46 L209.38,863.58 L211.16,860.77 L212.95,858.02 L214.73,855.34 L216.51,852.72 L218.30,850.16 L220.08,847.66 L221.87,845.22 L223.65,842.84 L225.43,840.51 L227.22,838.24 L229.00,836.02 L230.79,833.85 L232.57,831.74 L234.35,829.67 L236.14,827.65 L237.92,825.68 L239.70,823.75 L241.49,821.87 L243.27,820.04 L245.06,818.24 L246.84,816.49 L248.62,814.78 L250.41,813.11 L252.19,811.48 L253.98,809.88 L255.76,808.33 L257.54,806.81 L259.33,805.32 L261.11,803.87 L262.90,802.46 L264.68,801.07 L266.46,799.72 L268.25,798.40 L270.03,797.11 L271.82,795.86 L273.60,794.63 L275.38,793.43 L277.17,792.26 L278.95,791.11 L280.74,789.99 L282.52,788.90 L284.30,787.84 L286.09,786.80 L287.87,785.78 L289.66,784.79 L291.44,783.82 L293.22,782.87 L295.01,781.94 L296.79,781.04 L298.58,780.16 L300.36,779.30 L302.14,778.46 L303.93,777.63 L305.71,776.83 L307.50,776.05 L309.28,775.28 L311.06,774.53 L312.85,773.80 L314.63,773.09 L316.42,772.40 L318.20,771.72 L319.98,771.05 L321.77,770.40 L323.55,769.77 L325.33,769.15 L327.12,768.55 L328.90,767.96 L330.69,767.38 L332.47,766.82 L334.25,766.27 L336.04,765.73 L337.82,765.21 L339.61,764.69 L341.39,764.19 L343.17,763.71 L344.96,763.23 L346.74,762.76 L348.53,762.31 L350.31,761.86 L352.09,761.43 L353.88,761.01 L355.66,760.59 L357.45,760.19 L359.23,759.79 L361.01,759.41 L362.80,759.03 L364.58,758.66 L366.37,758.31 L368.15,757.96 L369.93,757.61 L371.72,757.28 L373.50,756.95 L375.29,756.63 L377.07,756.32 L378.85,756.02 L380.64,755.72 L382.42,755.43 L384.21,755.15 L385.99,754.87 L387.77,754.60 L389.56,754.34 L391.34,754.08 L393.13,753.83 L394.91,753.58 L396.69,753.34 L398.48,753.10 L400.26,752.88 L402.05,752.65 L403.83,752.43 L405.61,752.22 L407.40,752.01 L409.18,751.81 L410.96,751.61 L412.75,751.42 L414.53,751.23 L416.32,751.04 L418.10,750.86 L419.88,750.68 L421.67,750.51 L423.45,750.34 L425.24,750.18 L427.02,750.02 L428.80,749.86 L430.59,749.71 L432.37,749.56 L434.16,749.41 L435.94,749.27 L437.72,749.13 L439.51,748.99 L441.29,748.86 L443.08,748.73 L444.86,748.60 L446.64,748.48 L448.43,748.36 L450.21,748.24 L452.00,748.13 L453.78,748.01 L455.56,747.90 L457.35,747.80 L459.13,747.69 L460.92,747.59 L462.70,747.49 L464.48,747.39 L466.27,747.30 L468.05,747.20 L469.84,747.11 L471.62,747.02 L473.40,746.94 L475.19,746.85 L476.97,746.77 L478.76,746.69 L480.54,746.61 L482.32,746.53 L484.11,746.46 L485.89,746.38 L487.68,746.31 L489.46,746.24 L491.24,746.17 L493.03,746.10 L494.81,746.04 L496.59,745.98 L498.38,745.91 L500.16,745.85 L501.95,745.79 L503.73,745.73 L505.51,745.68 L507.30,745.62 L509.08,745.57 L510.87,745.52 L512.65,745.46 L514.43,745.41 L516.22,745.36 L518.00,745.32 L519.79,745.27 L521.57,745.22 L523.35,745.18 L525.14,745.13 L526.92,745.09 L528.71,745.05 L530.49,745.01 L532.27,744.97 L534.06,744.93 L535.84,744.89 L537.63,744.86 L539.41,744.82 L541.19,744.78 L542.98,744.75 L544.76,744.72 L546.55,744.68 L548.33,744.65 L550.11,744.62 L551.90,744.59 L553.68,744.56 L555.47,744.53 L557.25,744.50 L559.03,744.47 L560.82,744.45 L562.60,744.42 L564.39,744.39 L566.17,744.37 L567.95,744.34 L569.74,744.32 L571.52,744.30 L573.31,744.27 L575.09,744.25 L576.87,744.23 L578.66,744.21 L580.44,744.19 L582.22,744.16 L584.01,744.14 L585.79,744.13 L587.58,744.11 L589.36,744.09 L591.14,744.07 L592.93,744.05 L594.71,744.03 L596.50,744.02 L598.28,744.00 L600.06,743.98 L601.85,743.97 L603.63,743.95 L605.42,743.94 L607.20,743.92 L608.98,743.91 L610.77,743.89 L612.55,743.88 L614.34,743.87 L616.12,743.85 L617.90,743.84 L619.69,743.83 L621.47,743.82 L623.26,743.81 L625.04,743.79 L626.82,743.78 L628.61,743.77 L630.39,743.76 L632.18,743.75 L633.96,743.74 L635.74,743.73 L637.53,743.72 L639.31,743.71 L641.10,743.70 L642.88,743.69 L644.66,743.68 L646.45,743.67 L648.23,743.67 L650.02,743.66 L651.80,743.65 L653.58,743.64 L655.37,743.63 L657.15,743.63 L658.94,743.62 L660.72,743.61 L662.50,743.60 L664.29,743.60 L666.07,743.59 L667.85,743.58 L669.64,743.58 L671.42,743.57 L673.21,743.56 L674.99,743.56 L676.77,743.55 L678.56,743.55 L680.34,743.54 L682.13,743.54 L683.91,743.53 L685.69,743.53 L687.48,743.52 L689.26,743.52 L691.05,743.51 L692.83,743.51 L694.61,743.50 L696.40,743.50 L698.18,743.49 L699.97,743.49 L701.75,743.48 L703.53,743.48 L705.32,743.48 L707.10,743.47 L708.89,743.47 L710.67,743.46 L712.45,743.46 L714.24,743.46 L716.02,743.45 L717.81,743.45 L719.59,743.45 L721.37,743.44 L723.16,743.44 L724.94,743.44 L726.73,743.43 L728.51,743.43 L730.29,743.43 L732.08,743.43 L733.86,743.42 L735.65,743.42 L737.43,743.42 L739.21,743.42 L741.00,743.41 L742.78,743.41 L744.57,743.41 L746.35,743.41 L748.13,743.40 L749.92,743.40 L751.70,743.40 L753.48,743.40 L755.27,743.39 L757.05,743.39 L758.84,743.39 L760.62,743.39 L762.40,743.39 L764.19,743.38 L765.97,743.38 L767.76,743.38 L769.54,743.38 L771.32,743.38 L773.11,743.38 L774.89,743.37 L776.68,743.37 L778.46,743.37 L780.24,743.37 L782.03,743.37 L783.81,743.37 L785.60,743.37 L787.38,743.36 L789.16,743.36 L790.95,743.36 L792.73,743.36 L794.52,743.36 L796.30,743.36 L798.08,743.36 L799.87,743.36 L801.65,743.35 L803.44,743.35 L805.22,743.35 L807.00,743.35 L808.79,743.35 L810.57,743.35 L812.36,743.35 L814.14,743.35 L815.92,743.35 L817.71,743.35 L819.49,743.35 L821.28,743.34 L823.06,743.34 L824.84,743.34 L826.63,743.34 L828.41,743.34 L830.20,743.34 L831.98,743.34 L833.76,743.34 L835.55,743.34 L837.33,743.34 L839.11,743.34 L840.90,743.34 L842.68,743.34 L844.47,743.33 L846.25,743.33 L848.03,743.33 L849.82,743.33 L851.60,743.33 L853.39,743.33 L855.17,743.33 L856.95,743.33 L858.74,743.33 L860.52,743.33 L862.31,743.33 L864.09,743.33 L865.87,743.33 L867.66,743.33 L869.44,743.33 L871.23,743.33 L873.01,743.33 L874.79,743.33 L876.58,743.33 L878.36,743.33 L880.15,743.32 L881.93,743.32" fill="none" stroke="#F8766D" stroke-width="3.75" stroke-dasharray="7.655 7.655" stroke-linejoin="round"/>
<path d="M122.58,1178.00 L122.58,1177.99 L122.58,1177.97 L122.58,1177.94 L122.59,1177.90 L122.59,1177.84 L122.60,1177.77 L122.60,1177.69 L122.61,1177.60 L122.62,1177.49 L122.62,1177.37 L122.63,1177.24 L122.64,1177.10 L122.66,1176.94 L122.67,1176.78 L122.68,1176.60 L122.69,1176.41 L122.71,1176.21 L122.72,1175.99 L122.74,1175.77 L122.76,1175.53 L122.78,1175.29 L122.80,1175.03 L122.82,1174.76 L122.84,1174.48 L122.86,1174.19 L122.88,1173.89 L122.90,1173.58 L122.93,1173.26 L122.95,1172.92 L122.98,1172.58 L123.01,1172.23 L123.04,1171.87 L123.07,1171.51 L123.10,1171.13 L123.13,1170.74 L123.16,1170.34 L123.19,1169.94 L123.22,1169.53 L123.26,1169.11 L123.29,1168.68 L123.33,1168.24 L123.37,1167.79 L123.40,1167.34 L123.44,1166.88 L123.48,1166.41 L123.52,1165.94 L123.56,1165.45 L123.61,1164.96 L123.65,1164.47 L123.69,1163.97 L123.74,1163.46 L123.79,1162.94 L123.83,1162.42 L123.88,1161.89 L123.93,1161.36 L123.98,1160.82 L124.03,1160.27 L124.08,1159.72 L124.13,1159.16 L124.18,1158.60 L124.24,1158.03 L124.29,1157.46 L124.35,1156.88 L124.41,1156.30 L124.46,1155.71 L124.52,1155.12 L124.58,1154.52 L124.64,1153.92 L124.70,1153.31 L124.76,1152.70 L124.83,1152.08 L124.89,1151.46 L124.96,1150.84 L125.02,1150.21 L125.09,1149.58 L125.15,1148.94 L125.22,1148.30 L125.29,1147.66 L125.36,1147.01 L125.43,1146.36 L125.50,1145.71 L125.58,1145.05 L125.65,1144.39 L125.73,1143.72 L125.80,1143.06 L125.88,1142.39 L125.95,1141.71 L126.03,1141.04 L126.11,1140.36 L126.19,1139.68 L126.27,1138.99 L126.35,1138.30 L126.44,1137.61 L126.52,1136.92 L126.60,1136.23 L126.69,1135.53 L126.77,1134.83 L126.86,1134.13 L126.95,1133.42 L127.04,1132.72 L127.13,1132.01 L127.22,1131.30 L127.31,1130.59 L127.40,1129.87 L127.49,1129.16 L127.59,1128.44 L127.68,1127.72 L127.78,1127.00 L127.88,1126.28 L127.97,1125.56 L128.07,1124.84 L128.17,1124.11 L128.27,1123.38 L128.37,1122.66 L128.48,1121.93 L128.58,1121.20 L128.68,1120.47 L128.79,1119.74 L128.89,1119.00 L129.00,1118.27 L129.11,1117.54 L129.22,1116.80 L129.32,1116.07 L129.43,1115.34 L129.55,1114.60 L129.66,1113.86 L129.77,1113.13 L129.88,1112.39 L130.00,1111.66 L130.11,1110.92 L130.23,1110.18 L130.35,1109.45 L130.47,1108.71 L130.58,1107.97 L130.70,1107.24 L130.83,1106.50 L130.95,1105.77 L131.07,1105.03 L131.19,1104.29 L131.32,1103.56 L131.44,1102.83 L131.57,1102.09 L131.70,1101.36 L131.82,1100.63 L131.95,1099.89 L132.08,1099.16 L132.21,1098.43 L132.34,1097.70 L132.48,1096.97 L132.61,1096.25 L132.74,1095.52 L132.88,1094.79 L133.02,1094.07 L133.15,1093.34 L133.29,1092.62 L133.43,1091.90 L133.57,1091.18 L133.71,1090.46 L133.85,1089.74 L133.99,1089.02 L134.14,1088.30 L134.28,1087.59 L134.42,1086.87 L134.57,1086.16 L134.72,1085.45 L134.86,1084.74 L135.01,1084.03 L135.16,1083.33 L135.31,1082.62 L135.46,1081.92 L135.62,1081.22 L135.77,1080.52 L135.92,1079.82 L136.08,1079.12 L136.23,1078.43 L136.39,1077.74 L136.55,1077.04 L136.70,1076.35 L136.86,1075.67 L137.02,1074.98 L137.19,1074.29 L137.35,1073.61 L137.51,1072.93 L137.67,1072.25 L137.84,1071.58 L138.00,1070.90 L138.17,1070.23 L138.34,1069.56 L138.50,1068.89 L138.67,1068.22 L138.84,1067.56 L139.01,1066.89 L139.19,1066.23 L139.36,1065.57 L139.53,1064.92 L139.71,1064.26 L139.88,1063.61 L140.06,1062.96 L140.23,1062.31 L140.41,1061.66 L140.59,1061.02 L140.77,1060.38 L140.95,1059.74 L141.13,1059.10 L141.31,1058.46 L141.50,1057.83 L141.68,1057.20 L141.87,1056.57 L142.05,1055.94 L142.24,1055.32 L142.43,1054.70 L142.62,1054.08 L142.81,1053.46 L143.00,1052.84 L143.19,1052.23 L143.38,1051.62 L143.57,1051.01 L143.77,1050.40 L143.96,1049.80 L144.16,1049.20 L144.35,1048.60 L144.55,1048.00 L144.75,1047.40 L144.95,1046.81 L145.15,1046.22 L145.35,1045.63 L145.55,1045.05 L145.75,1044.46 L145.96,1043.88 L146.16,1043.30 L146.37,1042.73 L146.57,1042.15 L146.78,1041.58 L146.99,1041.01 L147.20,1040.44 L147.41,1039.88 L147.62,1039.32 L147.83,1038.76 L148.04,1038.20 L148.26,1037.64 L148.47,1037.09 L148.69,1036.54 L148.90,1035.99 L149.12,1035.44 L149.34,1034.90 L149.56,1034.36 L149.78,1033.82 L150.00,1033.28 L150.22,1032.75" fill="none" stroke="#00BFC4" stroke-width="3.75" stroke-linejoin="round"/>
<path d="M150.22,1032.75 L152.05,1027.52 L153.89,1022.48 L155.72,1017.61 L157.56,1012.92 L159.39,1008.39 L161.22,1004.01 L163.06,999.79 L164.89,995.72 L166.73,991.79 L168.56,988.00 L170.39,984.34 L172.23,980.81 L174.06,977.41 L175.89,974.12 L177.73,970.95 L179.56,967.89 L181.40,964.94 L183.23,962.09 L185.06,959.34 L186.90,956.68 L188.73,954.12 L190.57,951.65 L192.40,949.27 L194.23,946.97 L196.07,944.75 L197.90,942.61 L199.73,940.54 L201.57,938.54 L203.40,936.62 L205.24,934.76 L207.07,932.97 L208.90,931.24 L210.74,929.57 L212.57,927.96 L214.41,926.41 L216.24,924.91 L218.07,923.46 L219.91,922.07 L221.74,920.72 L223.57,919.42 L225.41,918.17 L227.24,916.96 L229.08,915.79 L230.91,914.66 L232.74,913.57 L234.58,912.52 L236.41,911.51 L238.25,910.54 L240.08,909.59 L241.91,908.68 L243.75,907.81 L245.58,906.96 L247.41,906.14 L249.25,905.35 L251.08,904.59 L252.92,903.86 L254.75,903.15 L256.58,902.46 L258.42,901.80 L260.25,901.17 L262.09,900.55 L263.92,899.96 L265.75,899.39 L267.59,898.84 L269.42,898.30 L271.26,897.79 L273.09,897.29 L274.92,896.82 L276.76,896.35 L278.59,895.91 L280.42,895.48 L282.26,895.06 L284.09,894.66 L285.93,894.28 L287.76,893.90 L289.59,893.54 L291.43,893.20 L293.26,892.86 L295.10,892.54 L296.93,892.23 L298.76,891.93 L300.60,891.63 L302.43,891.35 L304.26,891.08 L306.10,890.82 L307.93,890.57 L309.77,890.33 L311.60,890.09 L313.43,889.87 L315.27,889.65 L317.10,889.44 L318.94,889.24 L320.77,889.04 L322.60,888.85 L324.44,888.67 L326.27,888.49 L328.10,888.32 L329.94,888.16 L331.77,888.00 L333.61,887.85 L335.44,887.70 L337.27,887.56 L339.11,887.42 L340.94,887.29 L342.78,887.16 L344.61,887.04 L346.44,886.92 L348.28,886.80 L350.11,886.69 L351.94,886.58 L353.78,886.48 L355.61,886.38 L357.45,886.29 L359.28,886.19 L361.11,886.10 L362.95,886.02 L364.78,885.93 L366.62,885.85 L368.45,885.78 L370.28,885.70 L372.12,885.63 L373.95,885.56 L375.78,885.49 L377.62,885.43 L379.45,885.36 L381.29,885.30 L383.12,885.25 L384.95,885.19 L386.79,885.13 L388.62,885.08 L390.46,885.03 L392.29,884.98 L394.12,884.94 L395.96,884.89 L397.79,884.85 L399.63,884.80 L401.46,884.76 L403.29,884.72 L405.13,884.69 L406.96,884.65 L408.79,884.61 L410.63,884.58 L412.46,884.55 L414.30,884.52 L416.13,884.48 L417.96,884.46 L419.80,884.43 L421.63,884.40 L423.47,884.37 L425.30,884.35 L427.13,884.32 L428.97,884.30 L430.80,884.28 L432.63,884.25 L434.47,884.23 L436.30,884.21 L438.14,884.19 L439.97,884.17 L441.80,884.15 L443.64,884.13 L445.47,884.12 L447.31,884.10 L449.14,884.08 L450.97,884.07 L452.81,884.05 L454.64,884.04 L456.47,884.03 L458.31,884.01 L460.14,884.00 L461.98,883.99 L463.81,883.97 L465.64,883.96 L467.48,883.95 L469.31,883.94 L471.15,883.93 L472.98,883.92 L474.81,883.91 L476.65,883.90 L478.48,883.89 L480.31,883.88 L482.15,883.87 L483.98,883.87 L485.82,883.86 L487.65,883.85 L489.48,883.84 L491.32,883.84 L493.15,883.83 L494.99,883.82 L496.82,883.82 L498.65,883.81 L500.49,883.80 L502.32,883.80 L504.16,883.79 L505.99,883.79 L507.82,883.78 L509.66,883.78 L511.49,883.77 L513.32,883.77 L515.16,883.76 L516.99,883.76 L518.83,883.75 L520.66,883.75 L522.49,883.75 L524.33,883.74 L526.16,883.74 L528.00,883.74 L529.83,883.73 L531.66,883.73 L533.50,883.73 L535.33,883.72 L537.16,883.72 L539.00,883.72 L540.83,883.72 L542.67,883.71 L544.50,883.71 L546.33,883.71 L548.17,883.71 L550.00,883.70 L551.84,883.70 L553.67,883.70 L555.50,883.70 L557.34,883.69 L559.17,883.69 L561.00,883.69 L562.84,883.69 L564.67,883.69 L566.51,883.69 L568.34,883.68 L570.17,883.68 L572.01,883.68 L573.84,883.68 L575.68,883.68 L577.51,883.68 L579.34,883.68 L581.18,883.67 L583.01,883.67 L584.84,883.67 L586.68,883.67 L588.51,883.67 L590.35,883.67 L592.18,883.67 L594.01,883.67 L595.85,883.67 L597.68,883.67 L599.52,883.66 L601.35,883.66 L603.18,883.66 L605.02,883.66 L606.85,883.66 L608.69,883.66 L610.52,883.66 L612.35,883.66 L614.19,883.66 L616.02,883.66 L617.85,883.66 L619.69,883.66 L621.52,883.66 L623.36,883.66 L625.19,883.65 L627.02,883.65 L628.86,883.65 L630.69,883.65 L632.53,883.65 L634.36,883.65 L636.19,883.65 L638.03,883.65 L639.86,883.65 L641.69,883.65 L643.53,883.65 L645.36,883.65 L647.20,883.65 L649.03,883.65 L650.86,883.65 L652.70,883.65 L654.53,883.65 L656.37,883.65 L658.20,883.65 L660.03,883.65 L661.87,883.65 L663.70,883.65 L665.53,883.65 L667.37,883.65 L669.20,883.65 L671.04,883.65 L672.87,883.65 L674.70,883.65 L676.54,883.65 L678.37,883.65 L680.21,883.65 L682.04,883.65 L683.87,883.65 L685.71,883.64 L687.54,883.64 L689.37,883.64 L691.21,883.64 L693.04,883.64 L694.88,883.64 L696.71,883.64 L698.54,883.64 L700.38,883.64 L702.21,883.64 L704.05,883.64 L705.88,883.64 L707.71,883.64 L709.55,883.64 L711.38,883.64 L713.21,883.64 L715.05,883.64 L716.88,883.64 L718.72,883.64 L720.55,883.64 L722.38,883.64 L724.22,883.64 L726.05,883.64 L727.89,883.64 L729.72,883.64 L731.55,883.64 L733.39,883.64 L735.22,883.64 L737.06,883.64 L738.89,883.64 L740.72,883.64 L742.56,883.64 L744.39,883.64 L746.22,883.64 L748.06,883.64 L749.89,883.64 L751.73,883.64 L753.56,883.64 L755.39,883.64 L757.23,883.64 L759.06,883.64 L760.90,883.64 L762.73,883.64 L764.56,883.64 L766.40,883.64 L768.23,883.64 L770.06,883.64 L771.90,883.64 L773.73,883.64 L775.57,883.64 L777.40,883.64 L779.23,883.64 L781.07,883.64 L782.90,883.64 L784.74,883.64 L786.57,883.64 L788.40,883.64 L790.24,883.64 L792.07,883.64 L793.90,883.64 L795.74,883.64 L797.57,883.64 L799.41,883.64 L801.24,883.64 L803.07,883.64 L804.91,883.64 L806.74,883.64 L808.58,883.64 L810.41,883.64 L812.24,883.64 L814.08,883.64 L815.91,883.64 L817.74,883.64 L819.58,883.64 L821.41,883.64 L823.25,883.64 L825.08,883.64 L826.91,883.64 L828.75,883.64 L830.58,883.64 L832.42,883.64 L834.25,883.64 L836.08,883.64 L837.92,883.64 L839.75,883.64 L841.59,883.64 L843.42,883.64 L845.25,883.64 L847.09,883.64 L848.92,883.64 L850.75,883.64 L852.59,883.64 L854.42,883.64 L856.26,883.64 L858.09,883.64 L859.92,883.64 L861.76,883.64 L863.59,883.64 L865.43,883.64 L867.26,883.64 L869.09,883.64 L870.93,883.64 L872.76,883.64 L874.59,883.64 L876.43,883.64 L878.26,883.64 L880.10,883.64 L881.93,883.64" fill="none" stroke="#00BFC4" stroke-width="3.75" stroke-dasharray="7.655 7.655" stroke-linejoin="round"/>
<path d="M122.58,1178.00 L122.58,1177.98 L122.59,1177.91 L122.59,1177.81 L122.60,1177.66 L122.62,1177.46 L122.64,1177.23 L122.66,1176.95 L122.68,1176.63 L122.71,1176.27 L122.74,1175.87 L122.77,1175.43 L122.80,1174.95 L122.84,1174.43 L122.88,1173.87 L122.93,1173.27 L122.98,1172.63 L123.03,1171.95 L123.08,1171.24 L123.14,1170.49 L123.20,1169.71 L123.27,1168.89 L123.33,1168.03 L123.40,1167.15 L123.48,1166.23 L123.55,1165.28 L123.63,1164.30 L123.71,1163.29 L123.80,1162.25 L123.89,1161.18 L123.98,1160.09 L124.07,1158.96 L124.17,1157.81 L124.27,1156.64 L124.38,1155.45 L124.48,1154.23 L124.59,1152.98 L124.71,1151.72 L124.82,1150.44 L124.94,1149.13 L125.07,1147.81 L125.19,1146.47 L125.32,1145.11 L125.45,1143.74 L125.59,1142.34 L125.73,1140.94 L125.87,1139.52 L126.01,1138.09 L126.16,1136.64 L126.31,1135.18 L126.47,1133.71 L126.62,1132.23 L126.78,1130.74 L126.95,1129.24 L127.11,1127.73 L127.28,1126.21 L127.45,1124.68 L127.63,1123.14 L127.81,1121.60 L127.99,1120.05 L128.17,1118.50 L128.36,1116.94 L128.55,1115.37 L128.75,1113.80 L128.95,1112.22 L129.15,1110.64 L129.35,1109.05 L129.56,1107.47 L129.77,1105.87 L129.98,1104.28 L130.20,1102.68 L130.41,1101.08 L130.64,1099.47 L130.86,1097.86 L131.09,1096.25 L131.32,1094.64 L131.56,1093.03 L131.79,1091.41 L132.04,1089.80 L132.28,1088.18 L132.53,1086.56 L132.78,1084.93 L133.03,1083.31 L133.29,1081.68 L133.55,1080.06 L133.81,1078.43 L134.07,1076.80 L134.34,1075.17 L134.62,1073.53 L134.89,1071.90 L135.17,1070.27 L135.45,1068.63 L135.73,1066.99 L136.02,1065.35 L136.31,1063.71 L136.61,1062.07 L136.90,1060.43 L137.20,1058.78 L137.51,1057.14 L137.81,1055.49 L138.12,1053.84 L138.43,1052.19 L138.75,1050.54 L139.07,1048.89 L139.39,1047.23 L139.71,1045.58 L140.04,1043.92 L140.37,1042.26 L140.71,1040.60 L141.04,1038.94 L141.38,1037.28 L141.73,1035.61 L142.08,1033.95 L142.42,1032.28 L142.78,1030.61 L143.13,1028.94 L143.49,1027.27 L143.85,1025.60 L144.22,1023.92 L144.59,1022.25 L144.96,1020.57 L145.33,1018.89 L145.71,1017.21 L146.09,1015.53 L146.48,1013.85 L146.86,1012.17 L147.25,1010.48 L147.65,1008.79 L148.04,1007.11 L148.44,1005.42 L148.84,1003.73 L149.25,1002.04 L149.66,1000.35 L150.07,998.65 L150.49,996.96 L150.90,995.27 L151.33,993.57 L151.75,991.88 L152.18,990.18 L152.61,988.49 L153.04,986.79 L153.48,985.10 L153.92,983.40 L154.36,981.71 L154.81,980.02 L155.26,978.33 L155.71,976.63 L156.16,974.94 L156.62,973.26 L157.08,971.57 L157.55,969.88 L158.02,968.20 L158.49,966.52 L158.96,964.84 L159.44,963.16 L159.92,961.49 L160.40,959.82 L160.89,958.16 L161.38,956.50 L161.87,954.84 L162.37,953.17 L162.86,951.50 L163.37,949.82 L163.87,948.11 L164.38,946.39 L164.89,944.61 L165.41,942.80 L165.92,940.97 L166.44,939.12 L166.97,937.27 L167.49,935.43 L168.02,933.60 L168.56,931.77 L169.09,929.92 L169.63,928.07 L170.18,926.22 L170.72,924.22 L171.27,922.24 L171.82,920.31 L172.38,918.38 L172.93,916.47 L173.49,914.58 L174.06,912.71 L174.63,910.86 L175.20,909.04 L175.77,907.26 L176.35,905.50 L176.93,903.76 L177.51,902.04 L178.10,900.33 L178.68,898.64 L179.28,896.95 L179.87,895.28 L180.47,893.61 L181.07,891.96 L181.68,890.30 L182.28,888.66 L182.89,887.03 L183.51,885.42 L184.13,883.81 L184.75,882.22 L185.37,880.64 L185.99,879.08 L186.62,877.53 L187.26,876.00 L187.89,874.47 L188.53,872.96 L189.17,871.46 L189.82,869.96 L190.47,868.46 L191.12,866.97 L191.77,865.47 L192.43,863.97 L193.09,862.46 L193.75,860.94 L194.42,859.41 L195.09,857.87 L195.76,856.32 L196.44,854.76 L197.12,853.20 L197.80,851.65 L198.49,850.10 L199.17,848.56 L199.87,847.02 L200.56,845.49 L201.26,843.97 L201.96,842.45 L202.66,840.92 L203.37,839.40 L204.08,837.88 L204.79,836.36 L205.51,834.84 L206.23,833.31 L206.95,831.78 L207.68,830.24 L208.41,828.71 L209.14,827.17 L209.87,825.63 L210.61,824.10 L211.35,822.56 L212.10,821.03 L212.85,819.50 L213.60,817.97 L214.35,816.46 L215.11,814.94 L215.87,813.44 L216.63,811.94 L217.40,810.46 L218.17,808.98 L218.94,807.52 L219.71,806.06 L220.49,804.61 L221.27,803.17 L222.06,801.74 L222.85,800.31 L223.64,798.88 L224.43,797.47 L225.23,796.06 L226.03,794.66 L226.83,793.27 L227.64,791.89 L228.45,790.52 L229.26,789.16 L230.08,787.80 L230.90,786.46 L231.72,785.13 L232.54,783.81 L233.37,782.49 L234.20,781.19 L235.04,779.89 L235.88,778.60 L236.72,777.32 L237.56,776.05 L238.41,774.79 L239.26,773.53 L240.11,772.28 L240.97,771.04 L241.83,769.81 L242.69,768.58 L243.56,767.37 L244.42,766.16 L245.30,764.95 L246.17,763.75 L247.05,762.56 L247.93,761.38 L248.81,760.20 L249.70,759.03 L250.59,757.86 L251.49,756.70 L252.38,755.55 L253.28,754.40 L254.19,753.26 L255.09,752.13 L256.00,751.00 L256.91,749.88 L257.83,748.77 L258.75,747.66 L259.67,746.56 L260.59,745.47 L261.52,744.38 L262.45,743.30 L263.39,742.23 L264.32,741.16 L265.26,740.11 L266.21,739.05 L267.15,738.01 L268.10,736.97 L269.06,735.94 L270.01,734.92 L270.97,733.90 L271.93,732.89 L272.90,731.89 L273.87,730.89 L274.84,729.91 L275.81,728.93 L276.79,727.95 L277.77,726.99 L278.75,726.03 L279.74,725.07 L280.73,724.13 L281.72,723.18 L282.72,722.25 L283.72,721.32 L284.72,720.40 L285.73,719.49 L286.74,718.58 L287.75,717.68 L288.76,716.78 L289.78,715.89 L290.80,715.01 L291.82,714.13 L292.85,713.26 L293.88,712.40 L294.92,711.54 L295.95,710.69 L296.99,709.84 L298.04,709.00 L299.08,708.17 L300.13,707.34 L301.18,706.52 L302.24,705.71 L303.30,704.90 L304.36,704.09 L305.42,703.29 L306.49,702.50 L307.56,701.71 L308.63,700.93 L309.71,700.15 L310.79,699.37 L311.87,698.59 L312.96,697.82 L314.05,697.05 L315.14,696.28 L316.24,695.52 L317.34,694.76 L318.44,694.00 L319.54,693.25 L320.65,692.51 L321.76,691.77 L322.88,691.03 L324.00,690.30 L325.12,689.58 L326.24,688.86 L327.37,688.14 L328.50,687.44 L329.63,686.74 L330.77,686.04 L331.90,685.36 L333.05,684.68 L334.19,684.01 L335.34,683.35 L336.49,682.69 L337.65,682.05 L338.80,681.41 L339.97,680.78 L341.13,680.16 L342.30,679.55 L343.47,678.96 L344.64,678.37 L345.82,677.79 L347.00,677.23 L348.18,676.67 L349.37,676.13 L350.55,675.60 L351.75,675.07 L352.94,674.56 L354.14,674.04 L355.34,673.54 L356.55,673.03 L357.75,672.54 L358.96,672.05 L360.18,671.56 L361.39,671.08 L362.61,670.61 L363.84,670.14 L365.06,669.67 L366.29,669.21 L367.53,668.76 L368.76,668.31 L370.00,667.86 L371.24,667.42 L372.49,666.99 L373.73,666.56 L374.98,666.13 L376.24,665.71 L377.50,665.30 L378.76,664.89 L380.02,664.48 L381.29,664.08 L382.56,663.68 L383.83,663.29 L385.11,662.90 L386.38,662.52 L387.67,662.14 L388.95,661.76 L390.24,661.39 L391.53,661.02 L392.83,660.66 L394.12,660.30 L395.42,659.95 L396.73,659.59 L398.04,659.25 L399.35,658.90 L400.66,658.57 L401.98,658.23 L403.29,657.90 L404.62,657.57 L405.94,657.25 L407.27,656.93 L408.60,656.61 L409.94,656.30 L411.28,655.99 L412.62,655.68 L413.96,655.38 L415.31,655.08 L416.66,654.78 L418.01,654.48 L419.37,654.19 L420.73,653.91 L422.09,653.62 L423.46,653.34 L424.83,653.06 L426.20,652.79 L427.58,652.51 L428.96,652.24 L430.34,651.97 L431.72,651.71 L433.11,651.45 L434.50,651.18 L435.89,650.93 L437.29,650.67 L438.69,650.41 L440.10,650.16 L441.50,649.91 L442.91,649.67 L444.32,649.42 L445.74,649.18 L447.16,648.94 L448.58,648.70 L450.01,648.47 L451.43,648.24 L452.87,648.01 L454.30,647.78 L455.74,647.55 L457.18,647.33 L458.62,647.11 L460.07,646.89 L461.52,646.68 L462.97,646.47 L464.43,646.26 L465.89,646.05 L467.35,645.84 L468.82,645.64 L470.28,645.44 L471.76,645.24 L473.23,645.05 L474.71,644.86 L476.19,644.67 L477.67,644.48 L479.16,644.30 L480.65,644.11 L482.15,643.94 L483.64,643.76 L485.14,643.59 L486.64,643.41 L488.15,643.25 L489.66,643.08 L491.17,642.92 L492.69,642.76 L494.21,642.60 L495.73,642.45 L497.25,642.30 L498.78,642.15 L500.31,642.00 L501.84,641.86 L503.38,641.72 L504.92,641.58 L506.46,641.45 L508.01,641.31 L509.56,641.18 L511.11,641.05 L512.67,640.92 L514.23,640.79 L515.79,640.66 L517.35,640.53 L518.92,640.41 L520.49,640.29 L522.07,640.16 L523.65,640.04 L525.23,639.92 L526.81,639.81 L528.40,639.69 L529.99,639.58 L531.58,639.46 L533.18,639.35 L534.77,639.24 L536.38,639.14 L537.98,639.03 L539.59,638.92 L541.20,638.82 L542.82,638.72 L544.43,638.62 L546.06,638.52 L547.68,638.42 L549.31,638.33 L550.94,638.24 L552.57,638.14 L554.21,638.05 L555.85,637.96 L557.49,637.88 L559.14,637.79 L560.78,637.71 L562.44,637.63 L564.09,637.54 L565.75,637.47 L567.41,637.39 L569.08,637.31 L570.74,637.24 L572.41,637.17 L574.09,637.10 L575.76,637.03 L577.44,636.96 L579.13,636.90 L580.81,636.83 L582.50,636.77 L584.20,636.71 L585.89,636.65 L587.59,636.58 L589.29,636.52 L591.00,636.46 L592.70,636.40 L594.42,636.35 L596.13,636.29 L597.85,636.23 L599.57,636.17 L601.29,636.12 L603.02,636.06 L604.75,636.01 L606.48,635.95 L608.22,635.90 L609.96,635.84 L611.70,635.79 L613.44,635.74 L615.19,635.69 L616.94,635.64 L618.70,635.59 L620.46,635.54 L622.22,635.49 L623.98,635.44 L625.75,635.39 L627.52,635.34 L629.29,635.30 L631.07,635.25 L632.85,635.20 L634.63,635.16 L636.41,635.11 L638.20,635.07 L640.00,635.02 L641.79,634.98 L643.59,634.94 L645.39,634.89 L647.19,634.85 L649.00,634.81 L650.81,634.77 L652.63,634.73 L654.44,634.69 L656.26,634.65 L658.09,634.61 L659.91,634.57 L661.74,634.53 L663.57,634.50 L665.41,634.46 L667.25,634.42 L669.09,634.39 L670.93,634.35 L672.78,634.32 L674.63,634.28 L676.49,634.25 L678.34,634.21 L680.20,634.18 L682.07,634.15 L683.93,634.11 L685.80,634.08 L687.68,634.05 L689.55,634.02 L691.43,633.99 L693.31,633.96 L695.20,633.93 L697.09,633.90 L698.98,633.87 L700.87,633.84 L702.77,633.81 L704.67,633.78 L706.57,633.76 L708.48,633.73 L710.39,633.70 L712.30,633.68 L714.22,633.65 L716.14,633.62 L718.06,633.60 L719.99,633.58 L721.92,633.55 L723.85,633.53 L725.78,633.50 L727.72,633.48 L729.66,633.46 L731.61,633.44 L733.55,633.41 L735.50,633.39 L737.46,633.37 L739.41,633.35 L741.37,633.33 L743.34,633.30 L745.30,633.28 L747.27,633.26 L749.24,633.24 L751.22,633.22 L753.20,633.20 L755.18,633.18 L757.16,633.16 L759.15,633.13 L761.14,633.11 L763.14,633.09 L765.13,633.07 L767.13,633.05 L769.14,633.03 L771.14,633.01 L773.15,632.99 L775.17,632.97 L777.18,632.95 L779.20,632.93 L781.22,632.91 L783.25,632.90 L785.28,632.88 L787.31,632.86 L789.34,632.84 L791.38,632.82 L793.42,632.80 L795.46,632.79 L797.51,632.77 L799.56,632.75 L801.61,632.73 L803.67,632.72 L805.73,632.70 L807.79,632.68 L809.86,632.67 L811.92,632.65 L814.00,632.64 L816.07,632.62 L818.15,632.60 L820.23,632.59 L822.31,632.58 L824.40,632.56 L826.49,632.55 L828.58,632.53 L830.68,632.52 L832.78,632.51 L834.88,632.49 L836.99,632.48 L839.10,632.47 L841.21,632.46 L843.33,632.45 L845.44,632.44 L847.57,632.43 L849.69,632.41 L851.82,632.41 L853.95,632.40 L856.08,632.39 L858.22,632.38 L860.36,632.37 L862.50,632.36 L864.65,632.35 L866.80,632.35 L868.95,632.34 L871.11,632.34 L873.26,632.33 L875.43,632.32 L877.59,632.32 L879.76,632.32 L881.93,632.31 L881.93,854.23 L879.76,854.23 L877.59,854.23 L875.43,854.23 L873.26,854.23 L871.11,854.23 L868.95,854.22 L866.80,854.22 L864.65,854.22 L862.50,854.21 L860.36,854.21 L858.22,854.20 L856.08,854.20 L853.95,854.19 L851.82,854.18 L849.69,854.18 L847.57,854.17 L845.44,854.16 L843.33,854.15 L841.21,854.14 L839.10,854.14 L836.99,854.13 L834.88,854.12 L832.78,854.11 L830.68,854.10 L828.58,854.09 L826.49,854.08 L824.40,854.07 L822.31,854.06 L820.23,854.04 L818.15,854.03 L816.07,854.02 L814.00,854.01 L811.92,854.00 L809.86,853.98 L807.79,853.97 L805.73,853.96 L803.67,853.95 L801.61,853.93 L799.56,853.92 L797.51,853.91 L795.46,853.89 L793.42,853.88 L791.38,853.86 L789.34,853.85 L787.31,853.84 L785.28,853.82 L783.25,853.81 L781.22,853.79 L779.20,853.78 L777.18,853.76 L775.17,853.75 L773.15,853.73 L771.14,853.72 L769.14,853.70 L767.13,853.69 L765.13,853.67 L763.14,853.66 L761.14,853.64 L759.15,853.63 L757.16,853.61 L755.18,853.60 L753.20,853.58 L751.22,853.57 L749.24,853.55 L747.27,853.54 L745.30,853.52 L743.34,853.51 L741.37,853.49 L739.41,853.48 L737.46,853.46 L735.50,853.45 L733.55,853.43 L731.61,853.42 L729.66,853.40 L727.72,853.39 L725.78,853.37 L723.85,853.36 L721.92,853.34 L719.99,853.32 L718.06,853.31 L716.14,853.29 L714.22,853.27 L712.30,853.26 L710.39,853.24 L708.48,853.22 L706.57,853.20 L704.67,853.18 L702.77,853.17 L700.87,853.15 L698.98,853.13 L697.09,853.11 L695.20,853.09 L693.31,853.07 L691.43,853.05 L689.55,853.03 L687.68,853.01 L685.80,852.99 L683.93,852.96 L682.07,852.94 L680.20,852.92 L678.34,852.90 L676.49,852.88 L674.63,852.86 L672.78,852.83 L670.93,852.81 L669.09,852.79 L667.25,852.76 L665.41,852.74 L663.57,852.72 L661.74,852.69 L659.91,852.67 L658.09,852.65 L656.26,852.62 L654.44,852.60 L652.63,852.57 L650.81,852.55 L649.00,852.53 L647.19,852.50 L645.39,852.48 L643.59,852.45 L641.79,852.43 L640.00,852.40 L638.20,852.38 L636.41,852.35 L634.63,852.32 L632.85,852.30 L631.07,852.27 L629.29,852.25 L627.52,852.22 L625.75,852.20 L623.98,852.17 L622.22,852.14 L620.46,852.12 L618.70,852.09 L616.94,852.07 L615.19,852.04 L613.44,852.01 L611.70,851.99 L609.96,851.96 L608.22,851.94 L606.48,851.91 L604.75,851.88 L603.02,851.86 L601.29,851.83 L599.57,851.81 L597.85,851.78 L596.13,851.75 L594.42,851.73 L592.70,851.70 L591.00,851.68 L589.29,851.65 L587.59,851.63 L585.89,851.60 L584.20,851.58 L582.50,851.55 L580.81,851.53 L579.13,851.50 L577.44,851.48 L575.76,851.45 L574.09,851.43 L572.41,851.40 L570.74,851.37 L569.08,851.34 L567.41,851.31 L565.75,851.28 L564.09,851.25 L562.44,851.22 L560.78,851.19 L559.14,851.15 L557.49,851.12 L555.85,851.08 L554.21,851.05 L552.57,851.01 L550.94,850.98 L549.31,850.94 L547.68,850.90 L546.06,850.86 L544.43,850.82 L542.82,850.79 L541.20,850.75 L539.59,850.71 L537.98,850.67 L536.38,850.63 L534.77,850.59 L533.18,850.55 L531.58,850.51 L529.99,850.46 L528.40,850.42 L526.81,850.38 L525.23,850.34 L523.65,850.30 L522.07,850.26 L520.49,850.22 L518.92,850.17 L517.35,850.13 L515.79,850.09 L514.23,850.05 L512.67,850.01 L511.11,849.97 L509.56,849.93 L508.01,849.89 L506.46,849.85 L504.92,849.81 L503.38,849.77 L501.84,849.73 L500.31,849.69 L498.78,849.65 L497.25,849.61 L495.73,849.56 L494.21,849.52 L492.69,849.47 L491.17,849.42 L489.66,849.38 L488.15,849.33 L486.64,849.28 L485.14,849.23 L483.64,849.18 L482.15,849.13 L480.65,849.08 L479.16,849.03 L477.67,848.98 L476.19,848.92 L474.71,848.87 L473.23,848.82 L471.76,848.77 L470.28,848.72 L468.82,848.66 L467.35,848.61 L465.89,848.56 L464.43,848.51 L462.97,848.45 L461.52,848.40 L460.07,848.35 L458.62,848.30 L457.18,848.25 L455.74,848.20 L454.30,848.15 L452.87,848.11 L451.43,848.06 L450.01,848.01 L448.58,847.97 L447.16,847.92 L445.74,847.88 L444.32,847.83 L442.91,847.79 L441.50,847.75 L440.10,847.71 L438.69,847.67 L437.29,847.64 L435.89,847.60 L434.50,847.57 L433.11,847.53 L431.72,847.50 L430.34,847.47 L428.96,847.45 L427.58,847.42 L426.20,847.40 L424.83,847.37 L423.46,847.35 L422.09,847.33 L420.73,847.32 L419.37,847.30 L418.01,847.28 L416.66,847.27 L415.31,847.26 L413.96,847.25 L412.62,847.24 L411.28,847.24 L409.94,847.23 L408.60,847.23 L407.27,847.23 L405.94,847.23 L404.62,847.23 L403.29,847.23 L401.98,847.23 L400.66,847.24 L399.35,847.25 L398.04,847.25 L396.73,847.26 L395.42,847.28 L394.12,847.29 L392.83,847.30 L391.53,847.32 L390.24,847.33 L388.95,847.35 L387.67,847.37 L386.38,847.39 L385.11,847.42 L383.83,847.44 L382.56,847.47 L381.29,847.49 L380.02,847.52 L378.76,847.55 L377.50,847.58 L376.24,847.62 L374.98,847.65 L373.73,847.69 L372.49,847.73 L371.24,847.76 L370.00,847.81 L368.76,847.85 L367.53,847.89 L366.29,847.94 L365.06,847.98 L363.84,848.03 L362.61,848.08 L361.39,848.13 L360.18,848.19 L358.96,848.24 L357.75,848.30 L356.55,848.36 L355.34,848.42 L354.14,848.48 L352.94,848.54 L351.75,848.61 L350.55,848.68 L349.37,848.74 L348.18,848.81 L347.00,848.87 L345.82,848.94 L344.64,849.00 L343.47,849.06 L342.30,849.12 L341.13,849.19 L339.97,849.25 L338.80,849.31 L337.65,849.37 L336.49,849.43 L335.34,849.49 L334.19,849.55 L333.05,849.61 L331.90,849.68 L330.77,849.74 L329.63,849.81 L328.50,849.87 L327.37,849.94 L326.24,850.01 L325.12,850.08 L324.00,850.16 L322.88,850.23 L321.76,850.31 L320.65,850.39 L319.54,850.47 L318.44,850.56 L317.34,850.65 L316.24,850.74 L315.14,850.83 L314.05,850.93 L312.96,851.03 L311.87,851.14 L310.79,851.24 L309.71,851.36 L308.63,851.47 L307.56,851.59 L306.49,851.72 L305.42,851.85 L304.36,851.98 L303.30,852.12 L302.24,852.26 L301.18,852.40 L300.13,852.56 L299.08,852.71 L298.04,852.87 L296.99,853.04 L295.95,853.21 L294.92,853.39 L293.88,853.57 L292.85,853.76 L291.82,853.96 L290.80,854.16 L289.78,854.37 L288.76,854.58 L287.75,854.80 L286.74,855.02 L285.73,855.25 L284.72,855.49 L283.72,855.74 L282.72,855.99 L281.72,856.25 L280.73,856.51 L279.74,856.79 L278.75,857.06 L277.77,857.35 L276.79,857.64 L275.81,857.95 L274.84,858.25 L273.87,858.57 L272.90,858.89 L271.93,859.22 L270.97,859.55 L270.01,859.88 L269.06,860.22 L268.10,860.57 L267.15,860.92 L266.21,861.28 L265.26,861.64 L264.32,862.00 L263.39,862.37 L262.45,862.75 L261.52,863.13 L260.59,863.51 L259.67,863.90 L258.75,864.29 L257.83,864.68 L256.91,865.08 L256.00,865.49 L255.09,865.90 L254.19,866.31 L253.28,866.73 L252.38,867.15 L251.49,867.57 L250.59,868.00 L249.70,868.43 L248.81,868.87 L247.93,869.31 L247.05,869.75 L246.17,870.20 L245.30,870.65 L244.42,871.10 L243.56,871.54 L242.69,871.97 L241.83,872.40 L240.97,872.82 L240.11,873.23 L239.26,873.64 L238.41,874.06 L237.56,874.47 L236.72,874.89 L235.88,875.31 L235.04,875.74 L234.20,876.18 L233.37,876.62 L232.54,877.08 L231.72,877.55 L230.90,878.03 L230.08,878.53 L229.26,879.04 L228.45,879.58 L227.64,880.13 L226.83,880.70 L226.03,881.29 L225.23,881.91 L224.43,882.55 L223.64,883.21 L222.85,883.90 L222.06,884.59 L221.27,885.30 L220.49,886.01 L219.71,886.74 L218.94,887.48 L218.17,888.23 L217.40,889.00 L216.63,889.78 L215.87,890.58 L215.11,891.40 L214.35,892.24 L213.60,893.09 L212.85,893.97 L212.10,894.86 L211.35,895.78 L210.61,896.72 L209.87,897.68 L209.14,898.67 L208.41,899.67 L207.68,900.68 L206.95,901.71 L206.23,902.76 L205.51,903.82 L204.79,904.89 L204.08,905.97 L203.37,907.06 L202.66,908.16 L201.96,909.27 L201.26,910.39 L200.56,911.52 L199.87,912.65 L199.17,913.78 L198.49,914.92 L197.80,916.07 L197.12,917.22 L196.44,918.39 L195.76,919.56 L195.09,920.74 L194.42,921.92 L193.75,923.12 L193.09,924.32 L192.43,925.53 L191.77,926.74 L191.12,927.96 L190.47,929.19 L189.82,930.42 L189.17,931.65 L188.53,932.89 L187.89,934.14 L187.26,935.38 L186.62,936.63 L185.99,937.89 L185.37,939.14 L184.75,940.40 L184.13,941.66 L183.51,942.93 L182.89,944.19 L182.28,945.46 L181.68,946.74 L181.07,948.02 L180.47,949.30 L179.87,950.59 L179.28,951.88 L178.68,953.17 L178.10,954.47 L177.51,955.77 L176.93,957.07 L176.35,958.36 L175.77,959.66 L175.20,960.96 L174.63,962.26 L174.06,963.56 L173.49,964.85 L172.93,966.15 L172.38,967.44 L171.82,968.73 L171.27,970.02 L170.72,971.30 L170.18,972.58 L169.63,973.68 L169.09,974.76 L168.56,975.84 L168.02,976.91 L167.49,977.98 L166.97,979.04 L166.44,980.11 L165.92,981.18 L165.41,982.25 L164.89,983.32 L164.38,984.41 L163.87,985.49 L163.37,986.59 L162.86,987.70 L162.37,988.82 L161.87,989.95 L161.38,991.09 L160.89,992.25 L160.40,993.42 L159.92,994.60 L159.44,995.78 L158.96,996.97 L158.49,998.17 L158.02,999.37 L157.55,1000.57 L157.08,1001.78 L156.62,1002.99 L156.16,1004.21 L155.71,1005.44 L155.26,1006.66 L154.81,1007.90 L154.36,1009.14 L153.92,1010.38 L153.48,1011.63 L153.04,1012.88 L152.61,1014.14 L152.18,1015.40 L151.75,1016.66 L151.33,1017.94 L150.90,1019.21 L150.49,1020.49 L150.07,1021.78 L149.66,1023.07 L149.25,1024.36 L148.84,1025.66 L148.44,1026.96 L148.04,1028.27 L147.65,1029.58 L147.25,1030.90 L146.86,1032.22 L146.48,1033.54 L146.09,1034.87 L145.71,1036.20 L145.33,1037.54 L144.96,1038.88 L144.59,1040.23 L144.22,1041.57 L143.85,1042.92 L143.49,1044.27 L143.13,1045.62 L142.78,1046.98 L142.42,1048.33 L142.08,1049.69 L141.73,1051.05 L141.38,1052.41 L141.04,1053.78 L140.71,1055.14 L140.37,1056.51 L140.04,1057.88 L139.71,1059.26 L139.39,1060.63 L139.07,1062.01 L138.75,1063.38 L138.43,1064.76 L138.12,1066.15 L137.81,1067.53 L137.51,1068.92 L137.20,1070.30 L136.90,1071.69 L136.61,1073.09 L136.31,1074.48 L136.02,1075.87 L135.73,1077.27 L135.45,1078.67 L135.17,1080.07 L134.89,1081.47 L134.62,1082.88 L134.34,1084.29 L134.07,1085.70 L133.81,1087.11 L133.55,1088.52 L133.29,1089.93 L133.03,1091.35 L132.78,1092.76 L132.53,1094.18 L132.28,1095.60 L132.04,1097.03 L131.79,1098.45 L131.56,1099.87 L131.32,1101.30 L131.09,1102.72 L130.86,1104.15 L130.64,1105.58 L130.41,1107.01 L130.20,1108.43 L129.98,1109.86 L129.77,1111.29 L129.56,1112.72 L129.35,1114.14 L129.15,1115.57 L128.95,1116.99 L128.75,1118.42 L128.55,1119.84 L128.36,1121.25 L128.17,1122.67 L127.99,1124.08 L127.81,1125.49 L127.63,1126.90 L127.45,1128.30 L127.28,1129.69 L127.11,1131.08 L126.95,1132.46 L126.78,1133.84 L126.62,1135.21 L126.47,1136.57 L126.31,1137.93 L126.16,1139.27 L126.01,1140.61 L125.87,1141.93 L125.73,1143.25 L125.59,1144.55 L125.45,1145.84 L125.32,1147.11 L125.19,1148.38 L125.07,1149.62 L124.94,1150.86 L124.82,1152.07 L124.71,1153.27 L124.59,1154.45 L124.48,1155.61 L124.38,1156.75 L124.27,1157.87 L124.17,1158.97 L124.07,1160.04 L123.98,1161.10 L123.89,1162.13 L123.80,1163.13 L123.71,1164.11 L123.63,1165.06 L123.55,1165.98 L123.48,1166.88 L123.40,1167.74 L123.33,1168.58 L123.27,1169.38 L123.20,1170.15 L123.14,1170.89 L123.08,1171.60 L123.03,1172.27 L122.98,1172.91 L122.93,1173.52 L122.88,1174.08 L122.84,1174.61 L122.80,1175.11 L122.77,1175.57 L122.74,1175.98 L122.71,1176.36 L122.68,1176.71 L122.66,1177.01 L122.64,1177.27 L122.62,1177.49 L122.60,1177.67 L122.59,1177.82 L122.59,1177.92 L122.58,1177.98 L122.58,1178.00 Z" fill="#F8766D" fill-opacity="0.2" stroke="none"/>
<path d="M122.58,1178.00 L122.58,1177.98 L122.59,1177.91 L122.59,1177.80 L122.60,1177.65 L122.62,1177.45 L122.64,1177.21 L122.66,1176.93 L122.68,1176.60 L122.71,1176.24 L122.74,1175.83 L122.77,1175.38 L122.80,1174.89 L122.84,1174.37 L122.88,1173.80 L122.93,1173.20 L122.98,1172.57 L123.03,1171.89 L123.08,1171.19 L123.14,1170.45 L123.20,1169.68 L123.27,1168.87 L123.33,1168.04 L123.40,1167.18 L123.48,1166.28 L123.55,1165.36 L123.63,1164.42 L123.71,1163.44 L123.80,1162.44 L123.89,1161.42 L123.98,1160.37 L124.07,1159.29 L124.17,1158.20 L124.27,1157.08 L124.38,1155.94 L124.48,1154.77 L124.59,1153.59 L124.71,1152.38 L124.82,1151.16 L124.94,1149.91 L125.07,1148.65 L125.19,1147.37 L125.32,1146.07 L125.45,1144.75 L125.59,1143.41 L125.73,1142.06 L125.87,1140.68 L126.01,1139.30 L126.16,1137.89 L126.31,1136.48 L126.47,1135.04 L126.62,1133.59 L126.78,1132.13 L126.95,1130.66 L127.11,1129.17 L127.28,1127.67 L127.45,1126.16 L127.63,1124.63 L127.81,1123.10 L127.99,1121.56 L128.17,1120.00 L128.36,1118.44 L128.55,1116.87 L128.75,1115.29 L128.95,1113.71 L129.15,1112.11 L129.35,1110.52 L129.56,1108.92 L129.77,1107.31 L129.98,1105.70 L130.20,1104.09 L130.41,1102.48 L130.64,1100.86 L130.86,1099.25 L131.09,1097.63 L131.32,1096.02 L131.56,1094.40 L131.79,1092.79 L132.04,1091.18 L132.28,1089.57 L132.53,1087.97 L132.78,1086.37 L133.03,1084.78 L133.29,1083.19 L133.55,1081.60 L133.81,1080.02 L134.07,1078.45 L134.34,1076.88 L134.62,1075.31 L134.89,1073.76 L135.17,1072.21 L135.45,1070.67 L135.73,1069.13 L136.02,1067.60 L136.31,1066.08 L136.61,1064.57 L136.90,1063.06 L137.20,1061.56 L137.51,1060.06 L137.81,1058.57 L138.12,1057.09 L138.43,1055.62 L138.75,1054.15 L139.07,1052.69 L139.39,1051.23 L139.71,1049.79 L140.04,1048.34 L140.37,1046.91 L140.71,1045.47 L141.04,1044.05 L141.38,1042.63 L141.73,1041.22 L142.08,1039.81 L142.42,1038.40 L142.78,1037.00 L143.13,1035.61 L143.49,1034.22 L143.85,1032.84 L144.22,1031.46 L144.59,1030.09 L144.96,1028.73 L145.33,1027.37 L145.71,1026.03 L146.09,1024.70 L146.48,1023.38 L146.86,1022.07 L147.25,1020.77 L147.65,1019.49 L148.04,1018.21 L148.44,1016.95 L148.84,1015.71 L149.25,1014.47 L149.66,1013.24 L150.07,1012.03 L150.49,1010.69 L150.90,1009.29 L151.33,1007.88 L151.75,1006.48 L152.18,1005.08 L152.61,1003.69 L153.04,1002.30 L153.48,1000.91 L153.92,999.52 L154.36,998.14 L154.81,996.76 L155.26,995.38 L155.71,994.00 L156.16,992.62 L156.62,991.24 L157.08,989.87 L157.55,988.49 L158.02,987.12 L158.49,985.74 L158.96,984.36 L159.44,982.98 L159.92,981.60 L160.40,980.22 L160.89,978.84 L161.38,977.45 L161.87,976.06 L162.37,974.67 L162.86,973.28 L163.37,971.88 L163.87,970.48 L164.38,969.08 L164.89,967.68 L165.41,966.27 L165.92,964.86 L166.44,963.45 L166.97,962.03 L167.49,960.62 L168.02,959.20 L168.56,957.77 L169.09,956.35 L169.63,954.92 L170.18,953.49 L170.72,952.06 L171.27,950.63 L171.82,949.20 L172.38,947.77 L172.93,946.34 L173.49,944.90 L174.06,943.47 L174.63,942.04 L175.20,940.61 L175.77,939.18 L176.35,937.75 L176.93,936.32 L177.51,934.90 L178.10,933.47 L178.68,932.05 L179.28,930.64 L179.87,929.22 L180.47,927.81 L181.07,926.40 L181.68,925.00 L182.28,923.59 L182.89,922.20 L183.51,920.80 L184.13,919.42 L184.75,918.03 L185.37,916.65 L185.99,915.28 L186.62,913.91 L187.26,912.54 L187.89,911.18 L188.53,909.83 L189.17,908.48 L189.82,907.14 L190.47,905.80 L191.12,904.47 L191.77,903.14 L192.43,901.82 L193.09,900.50 L193.75,899.20 L194.42,897.89 L195.09,896.60 L195.76,895.31 L196.44,894.02 L197.12,892.74 L197.80,891.47 L198.49,890.21 L199.17,888.95 L199.87,887.69 L200.56,886.45 L201.26,885.21 L201.96,883.97 L202.66,882.75 L203.37,881.53 L204.08,880.32 L204.79,879.11 L205.51,877.91 L206.23,876.72 L206.95,875.53 L207.68,874.35 L208.41,873.18 L209.14,872.02 L209.87,870.86 L210.61,869.71 L211.35,868.56 L212.10,867.43 L212.85,866.30 L213.60,865.17 L214.35,864.06 L215.11,862.95 L215.87,861.85 L216.63,860.75 L217.40,859.67 L218.17,858.59 L218.94,857.52 L219.71,856.45 L220.49,855.39 L221.27,854.34 L222.06,853.30 L222.85,852.26 L223.64,851.24 L224.43,850.21 L225.23,849.20 L226.03,848.19 L226.83,847.20 L227.64,846.20 L228.45,845.22 L229.26,844.24 L230.08,843.27 L230.90,842.31 L231.72,841.36 L232.54,840.41 L233.37,839.47 L234.20,838.54 L235.04,837.61 L235.88,836.70 L236.72,835.78 L237.56,834.88 L238.41,833.99 L239.26,833.10 L240.11,832.22 L240.97,831.34 L241.83,830.48 L242.69,829.62 L243.56,828.77 L244.42,827.92 L245.30,827.09 L246.17,826.26 L247.05,825.44 L247.93,824.62 L248.81,823.81 L249.70,823.01 L250.59,822.22 L251.49,821.43 L252.38,820.66 L253.28,819.88 L254.19,819.12 L255.09,818.36 L256.00,817.61 L256.91,816.87 L257.83,816.13 L258.75,815.40 L259.67,814.68 L260.59,813.97 L261.52,813.26 L262.45,812.56 L263.39,811.87 L264.32,811.18 L265.26,810.50 L266.21,809.83 L267.15,809.16 L268.10,808.50 L269.06,807.85 L270.01,807.20 L270.97,806.56 L271.93,805.93 L272.90,805.30 L273.87,804.68 L274.84,804.07 L275.81,803.46 L276.79,802.87 L277.77,802.27 L278.75,801.69 L279.74,801.11 L280.73,800.53 L281.72,799.97 L282.72,799.40 L283.72,798.85 L284.72,798.30 L285.73,797.76 L286.74,797.22 L287.75,796.69 L288.76,796.17 L289.78,795.65 L290.80,795.14 L291.82,794.64 L292.85,794.14 L293.88,793.65 L294.92,793.16 L295.95,792.68 L296.99,792.20 L298.04,791.73 L299.08,791.27 L300.13,790.81 L301.18,790.36 L302.24,789.91 L303.30,789.47 L304.36,789.03 L305.42,788.60 L306.49,788.18 L307.56,787.76 L308.63,787.35 L309.71,786.94 L310.79,786.54 L311.87,786.14 L312.96,785.75 L314.05,785.36 L315.14,784.98 L316.24,784.60 L317.34,784.23 L318.44,783.86 L319.54,783.50 L320.65,783.14 L321.76,782.79 L322.88,782.44 L324.00,782.10 L325.12,781.77 L326.24,781.43 L327.37,781.11 L328.50,780.78 L329.63,780.46 L330.77,780.15 L331.90,779.84 L333.05,779.54 L334.19,779.24 L335.34,778.94 L336.49,778.65 L337.65,778.36 L338.80,778.08 L339.97,777.80 L341.13,777.52 L342.30,777.25 L343.47,776.99 L344.64,776.73 L345.82,776.47 L347.00,776.21 L348.18,775.96 L349.37,775.72 L350.55,775.47 L351.75,775.24 L352.94,775.00 L354.14,774.77 L355.34,774.54 L356.55,774.32 L357.75,774.10 L358.96,773.88 L360.18,773.67 L361.39,773.46 L362.61,773.25 L363.84,773.05 L365.06,772.85 L366.29,772.66 L367.53,772.46 L368.76,772.28 L370.00,772.09 L371.24,771.91 L372.49,771.73 L373.73,771.55 L374.98,771.38 L376.24,771.21 L377.50,771.04 L378.76,770.87 L380.02,770.71 L381.29,770.55 L382.56,770.40 L383.83,770.24 L385.11,770.09 L386.38,769.95 L387.67,769.80 L388.95,769.66 L390.24,769.52 L391.53,769.38 L392.83,769.25 L394.12,769.12 L395.42,768.99 L396.73,768.86 L398.04,768.73 L399.35,768.61 L400.66,768.49 L401.98,768.37 L403.29,768.26 L404.62,768.14 L405.94,768.03 L407.27,767.92 L408.60,767.82 L409.94,767.71 L411.28,767.61 L412.62,767.51 L413.96,767.41 L415.31,767.31 L416.66,767.22 L418.01,767.13 L419.37,767.04 L420.73,766.95 L422.09,766.86 L423.46,766.77 L424.83,766.69 L426.20,766.61 L427.58,766.53 L428.96,766.45 L430.34,766.37 L431.72,766.30 L433.11,766.22 L434.50,766.15 L435.89,766.08 L437.29,766.01 L438.69,765.94 L440.10,765.88 L441.50,765.81 L442.91,765.75 L444.32,765.69 L445.74,765.63 L447.16,765.57 L448.58,765.51 L450.01,765.45 L451.43,765.40 L452.87,765.34 L454.30,765.29 L455.74,765.24 L457.18,765.19 L458.62,765.14 L460.07,765.09 L461.52,765.05 L462.97,765.00 L464.43,764.95 L465.89,764.91 L467.35,764.87 L468.82,764.83 L470.28,764.79 L471.76,764.75 L473.23,764.71 L474.71,764.67 L476.19,764.63 L477.67,764.59 L479.16,764.56 L480.65,764.53 L482.15,764.49 L483.64,764.46 L485.14,764.43 L486.64,764.40 L488.15,764.37 L489.66,764.34 L491.17,764.31 L492.69,764.28 L494.21,764.25 L495.73,764.22 L497.25,764.20 L498.78,764.17 L500.31,764.15 L501.84,764.12 L503.38,764.10 L504.92,764.08 L506.46,764.05 L508.01,764.03 L509.56,764.01 L511.11,763.99 L512.67,763.97 L514.23,763.95 L515.79,763.93 L517.35,763.91 L518.92,763.90 L520.49,763.88 L522.07,763.86 L523.65,763.84 L525.23,763.83 L526.81,763.81 L528.40,763.80 L529.99,763.78 L531.58,763.77 L533.18,763.75 L534.77,763.74 L536.38,763.73 L537.98,763.71 L539.59,763.70 L541.20,763.69 L542.82,763.68 L544.43,763.67 L546.06,763.65 L547.68,763.64 L549.31,763.63 L550.94,763.62 L552.57,763.61 L554.21,763.60 L555.85,763.59 L557.49,763.58 L559.14,763.58 L560.78,763.57 L562.44,763.56 L564.09,763.55 L565.75,763.54 L567.41,763.54 L569.08,763.53 L570.74,763.52 L572.41,763.51 L574.09,763.51 L575.76,763.50 L577.44,763.49 L579.13,763.49 L580.81,763.48 L582.50,763.48 L584.20,763.47 L585.89,763.47 L587.59,763.46 L589.29,763.46 L591.00,763.45 L592.70,763.45 L594.42,763.44 L596.13,763.44 L597.85,763.43 L599.57,763.43 L601.29,763.42 L603.02,763.42 L604.75,763.42 L606.48,763.41 L608.22,763.41 L609.96,763.41 L611.70,763.40 L613.44,763.40 L615.19,763.40 L616.94,763.39 L618.70,763.39 L620.46,763.39 L622.22,763.38 L623.98,763.38 L625.75,763.38 L627.52,763.38 L629.29,763.37 L631.07,763.37 L632.85,763.37 L634.63,763.37 L636.41,763.37 L638.20,763.36 L640.00,763.36 L641.79,763.36 L643.59,763.36 L645.39,763.36 L647.19,763.35 L649.00,763.35 L650.81,763.35 L652.63,763.35 L654.44,763.35 L656.26,763.35 L658.09,763.35 L659.91,763.34 L661.74,763.34 L663.57,763.34 L665.41,763.34 L667.25,763.34 L669.09,763.34 L670.93,763.34 L672.78,763.34 L674.63,763.34 L676.49,763.33 L678.34,763.33 L680.20,763.33 L682.07,763.33 L683.93,763.33 L685.80,763.33 L687.68,763.33 L689.55,763.33 L691.43,763.33 L693.31,763.33 L695.20,763.33 L697.09,763.33 L698.98,763.33 L700.87,763.32 L702.77,763.32 L704.67,763.32 L706.57,763.32 L708.48,763.32 L710.39,763.32 L712.30,763.32 L714.22,763.32 L716.14,763.32 L718.06,763.32 L719.99,763.32 L721.92,763.32 L723.85,763.32 L725.78,763.32 L727.72,763.32 L729.66,763.32 L731.61,763.32 L733.55,763.32 L735.50,763.32 L737.46,763.32 L739.41,763.32 L741.37,763.32 L743.34,763.32 L745.30,763.32 L747.27,763.32 L749.24,763.32 L751.22,763.32 L753.20,763.32 L755.18,763.32 L757.16,763.32 L759.15,763.32 L761.14,763.31 L763.14,763.31 L765.13,763.31 L767.13,763.31 L769.14,763.31 L771.14,763.31 L773.15,763.31 L775.17,763.31 L777.18,763.31 L779.20,763.31 L781.22,763.31 L783.25,763.31 L785.28,763.31 L787.31,763.31 L789.34,763.31 L791.38,763.31 L793.42,763.31 L795.46,763.31 L797.51,763.31 L799.56,763.31 L801.61,763.31 L803.67,763.31 L805.73,763.31 L807.79,763.31 L809.86,763.31 L811.92,763.31 L814.00,763.31 L816.07,763.31 L818.15,763.31 L820.23,763.31 L822.31,763.31 L824.40,763.31 L826.49,763.31 L828.58,763.31 L830.68,763.31 L832.78,763.31 L834.88,763.31 L836.99,763.31 L839.10,763.31 L841.21,763.31 L843.33,763.31 L845.44,763.31 L847.57,763.31 L849.69,763.31 L851.82,763.31 L853.95,763.31 L856.08,763.31 L858.22,763.31 L860.36,763.31 L862.50,763.31 L864.65,763.31 L866.80,763.31 L868.95,763.31 L871.11,763.31 L873.26,763.31 L875.43,763.31 L877.59,763.31 L879.76,763.31 L881.93,763.31 L881.93,1003.97 L879.76,1003.97 L877.59,1003.97 L875.43,1003.97 L873.26,1003.97 L871.11,1003.97 L868.95,1003.97 L866.80,1003.97 L864.65,1003.97 L862.50,1003.97 L860.36,1003.97 L858.22,1003.97 L856.08,1003.97 L853.95,1003.97 L851.82,1003.97 L849.69,1003.97 L847.57,1003.97 L845.44,1003.97 L843.33,1003.97 L841.21,1003.97 L839.10,1003.97 L836.99,1003.97 L834.88,1003.97 L832.78,1003.97 L830.68,1003.97 L828.58,1003.97 L826.49,1003.97 L824.40,1003.97 L822.31,1003.97 L820.23,1003.97 L818.15,1003.97 L816.07,1003.97 L814.00,1003.97 L811.92,1003.97 L809.86,1003.97 L807.79,1003.97 L805.73,1003.97 L803.67,1003.97 L801.61,1003.97 L799.56,1003.97 L797.51,1003.97 L795.46,1003.97 L793.42,1003.97 L791.38,1003.97 L789.34,1003.97 L787.31,1003.97 L785.28,1003.97 L783.25,1003.97 L781.22,1003.97 L779.20,1003.97 L777.18,1003.97 L775.17,1003.97 L773.15,1003.97 L771.14,1003.97 L769.14,1003.97 L767.13,1003.97 L765.13,1003.97 L763.14,1003.97 L761.14,1003.97 L759.15,1003.97 L757.16,1003.97 L755.18,1003.97 L753.20,1003.97 L751.22,1003.97 L749.24,1003.97 L747.27,1003.97 L745.30,1003.97 L743.34,1003.97 L741.37,1003.97 L739.41,1003.97 L737.46,1003.97 L735.50,1003.97 L733.55,1003.97 L731.61,1003.97 L729.66,1003.97 L727.72,1003.97 L725.78,1003.97 L723.85,1003.97 L721.92,1003.97 L719.99,1003.97 L718.06,1003.97 L716.14,1003.96 L714.22,1003.96 L712.30,1003.96 L710.39,1003.96 L708.48,1003.96 L706.57,1003.96 L704.67,1003.96 L702.77,1003.96 L700.87,1003.96 L698.98,1003.96 L697.09,1003.96 L695.20,1003.96 L693.31,1003.96 L691.43,1003.96 L689.55,1003.96 L687.68,1003.96 L685.80,1003.96 L683.93,1003.96 L682.07,1003.96 L680.20,1003.96 L678.34,1003.96 L676.49,1003.96 L674.63,1003.96 L672.78,1003.96 L670.93,1003.96 L669.09,1003.95 L667.25,1003.95 L665.41,1003.95 L663.57,1003.95 L661.74,1003.95 L659.91,1003.95 L658.09,1003.95 L656.26,1003.95 L654.44,1003.95 L652.63,1003.95 L650.81,1003.95 L649.00,1003.95 L647.19,1003.95 L645.39,1003.94 L643.59,1003.94 L641.79,1003.94 L640.00,1003.94 L638.20,1003.94 L636.41,1003.94 L634.63,1003.94 L632.85,1003.94 L631.07,1003.93 L629.29,1003.93 L627.52,1003.93 L625.75,1003.93 L623.98,1003.93 L622.22,1003.93 L620.46,1003.93 L618.70,1003.92 L616.94,1003.92 L615.19,1003.92 L613.44,1003.92 L611.70,1003.92 L609.96,1003.91 L608.22,1003.91 L606.48,1003.91 L604.75,1003.91 L603.02,1003.91 L601.29,1003.90 L599.57,1003.90 L597.85,1003.90 L596.13,1003.90 L594.42,1003.89 L592.70,1003.89 L591.00,1003.89 L589.29,1003.88 L587.59,1003.88 L585.89,1003.88 L584.20,1003.87 L582.50,1003.87 L580.81,1003.87 L579.13,1003.86 L577.44,1003.86 L575.76,1003.86 L574.09,1003.85 L572.41,1003.85 L570.74,1003.84 L569.08,1003.84 L567.41,1003.83 L565.75,1003.83 L564.09,1003.82 L562.44,1003.82 L560.78,1003.81 L559.14,1003.81 L557.49,1003.80 L555.85,1003.80 L554.21,1003.79 L552.57,1003.79 L550.94,1003.78 L549.31,1003.77 L547.68,1003.77 L546.06,1003.76 L544.43,1003.75 L542.82,1003.75 L541.20,1003.74 L539.59,1003.73 L537.98,1003.72 L536.38,1003.72 L534.77,1003.71 L533.18,1003.70 L531.58,1003.69 L529.99,1003.68 L528.40,1003.67 L526.81,1003.66 L525.23,1003.65 L523.65,1003.64 L522.07,1003.63 L520.49,1003.62 L518.92,1003.61 L517.35,1003.60 L515.79,1003.59 L514.23,1003.58 L512.67,1003.57 L511.11,1003.56 L509.56,1003.54 L508.01,1003.53 L506.46,1003.52 L504.92,1003.50 L503.38,1003.49 L501.84,1003.48 L500.31,1003.46 L498.78,1003.45 L497.25,1003.43 L495.73,1003.42 L494.21,1003.40 L492.69,1003.38 L491.17,1003.37 L489.66,1003.35 L488.15,1003.33 L486.64,1003.31 L485.14,1003.30 L483.64,1003.28 L482.15,1003.26 L480.65,1003.24 L479.16,1003.22 L477.67,1003.20 L476.19,1003.17 L474.71,1003.15 L473.23,1003.13 L471.76,1003.11 L470.28,1003.08 L468.82,1003.06 L467.35,1003.04 L465.89,1003.01 L464.43,1002.99 L462.97,1002.96 L461.52,1002.93 L460.07,1002.91 L458.62,1002.88 L457.18,1002.85 L455.74,1002.82 L454.30,1002.79 L452.87,1002.76 L451.43,1002.73 L450.01,1002.70 L448.58,1002.67 L447.16,1002.64 L445.74,1002.60 L444.32,1002.57 L442.91,1002.53 L441.50,1002.50 L440.10,1002.46 L438.69,1002.43 L437.29,1002.39 L435.89,1002.35 L434.50,1002.31 L433.11,1002.27 L431.72,1002.23 L430.34,1002.19 L428.96,1002.15 L427.58,1002.10 L426.20,1002.06 L424.83,1002.02 L423.46,1001.97 L422.09,1001.92 L420.73,1001.88 L419.37,1001.83 L418.01,1001.78 L416.66,1001.73 L415.31,1001.68 L413.96,1001.63 L412.62,1001.58 L411.28,1001.53 L409.94,1001.47 L408.60,1001.42 L407.27,1001.36 L405.94,1001.31 L404.62,1001.25 L403.29,1001.19 L401.98,1001.13 L400.66,1001.07 L399.35,1001.01 L398.04,1000.95 L396.73,1000.89 L395.42,1000.82 L394.12,1000.76 L392.83,1000.69 L391.53,1000.62 L390.24,1000.56 L388.95,1000.49 L387.67,1000.42 L386.38,1000.35 L385.11,1000.27 L383.83,1000.20 L382.56,1000.13 L381.29,1000.05 L380.02,999.98 L378.76,999.90 L377.50,999.82 L376.24,999.74 L374.98,999.66 L373.73,999.58 L372.49,999.50 L371.24,999.42 L370.00,999.33 L368.76,999.25 L367.53,999.16 L366.29,999.08 L365.06,998.99 L363.84,998.90 L362.61,998.81 L361.39,998.72 L360.18,998.63 L358.96,998.53 L357.75,998.44 L356.55,998.34 L355.34,998.25 L354.14,998.15 L352.94,998.05 L351.75,997.95 L350.55,997.86 L349.37,997.75 L348.18,997.65 L347.00,997.55 L345.82,997.45 L344.64,997.34 L343.47,997.24 L342.30,997.13 L341.13,997.02 L339.97,996.91 L338.80,996.81 L337.65,996.70 L336.49,996.59 L335.34,996.47 L334.19,996.36 L333.05,996.25 L331.90,996.14 L330.77,996.02 L329.63,995.91 L328.50,995.79 L327.37,995.67 L326.24,995.56 L325.12,995.44 L324.00,995.32 L322.88,995.20 L321.76,995.08 L320.65,994.96 L319.54,994.84 L318.44,994.72 L317.34,994.60 L316.24,994.47 L315.14,994.35 L314.05,994.23 L312.96,994.11 L311.87,993.98 L310.79,993.86 L309.71,993.73 L308.63,993.61 L307.56,993.48 L306.49,993.36 L305.42,993.23 L304.36,993.11 L303.30,992.98 L302.24,992.86 L301.18,992.73 L300.13,992.61 L299.08,992.48 L298.04,992.35 L296.99,992.23 L295.95,992.10 L294.92,991.98 L293.88,991.86 L292.85,991.73 L291.82,991.61 L290.80,991.48 L289.78,991.36 L288.76,991.24 L287.75,991.12 L286.74,991.00 L285.73,990.87 L284.72,990.75 L283.72,990.64 L282.72,990.52 L281.72,990.40 L280.73,990.28 L279.74,990.17 L278.75,990.05 L277.77,989.94 L276.79,989.83 L275.81,989.71 L274.84,989.60 L273.87,989.49 L272.90,989.39 L271.93,989.28 L270.97,989.18 L270.01,989.07 L269.06,988.97 L268.10,988.87 L267.15,988.77 L266.21,988.68 L265.26,988.58 L264.32,988.49 L263.39,988.40 L262.45,988.31 L261.52,988.22 L260.59,988.14 L259.67,988.05 L258.75,987.97 L257.83,987.89 L256.91,987.82 L256.00,987.75 L255.09,987.68 L254.19,987.61 L253.28,987.54 L252.38,987.48 L251.49,987.42 L250.59,987.36 L249.70,987.31 L248.81,987.26 L247.93,987.21 L247.05,987.17 L246.17,987.13 L245.30,987.09 L244.42,987.05 L243.56,987.02 L242.69,987.00 L241.83,986.97 L240.97,986.95 L240.11,986.94 L239.26,986.92 L238.41,986.91 L237.56,986.91 L236.72,986.91 L235.88,986.91 L235.04,986.92 L234.20,986.93 L233.37,986.95 L232.54,986.97 L231.72,987.00 L230.90,987.03 L230.08,987.06 L229.26,987.10 L228.45,987.15 L227.64,987.20 L226.83,987.25 L226.03,987.31 L225.23,987.37 L224.43,987.44 L223.64,987.52 L222.85,987.60 L222.06,987.68 L221.27,987.78 L220.49,987.87 L219.71,987.97 L218.94,988.08 L218.17,988.20 L217.40,988.32 L216.63,988.44 L215.87,988.57 L215.11,988.71 L214.35,988.85 L213.60,989.00 L212.85,989.16 L212.10,989.32 L211.35,989.49 L210.61,989.66 L209.87,989.84 L209.14,990.03 L208.41,990.23 L207.68,990.43 L206.95,990.64 L206.23,990.85 L205.51,991.07 L204.79,991.30 L204.08,991.54 L203.37,991.78 L202.66,992.03 L201.96,992.28 L201.26,992.55 L200.56,992.82 L199.87,993.09 L199.17,993.38 L198.49,993.67 L197.80,993.97 L197.12,994.28 L196.44,994.59 L195.76,994.92 L195.09,995.25 L194.42,995.58 L193.75,995.93 L193.09,996.28 L192.43,996.64 L191.77,997.01 L191.12,997.38 L190.47,997.77 L189.82,998.16 L189.17,998.56 L188.53,998.97 L187.89,999.38 L187.26,999.80 L186.62,1000.24 L185.99,1000.68 L185.37,1001.12 L184.75,1001.58 L184.13,1002.05 L183.51,1002.52 L182.89,1003.00 L182.28,1003.49 L181.68,1003.99 L181.07,1004.50 L180.47,1005.02 L179.87,1005.55 L179.28,1006.08 L178.68,1006.63 L178.10,1007.18 L177.51,1007.75 L176.93,1008.32 L176.35,1008.91 L175.77,1009.50 L175.20,1010.11 L174.63,1010.72 L174.06,1011.35 L173.49,1011.99 L172.93,1012.63 L172.38,1013.29 L171.82,1013.96 L171.27,1014.65 L170.72,1015.34 L170.18,1016.05 L169.63,1016.76 L169.09,1017.49 L168.56,1018.24 L168.02,1018.99 L167.49,1019.76 L166.97,1020.53 L166.44,1021.32 L165.92,1022.13 L165.41,1022.94 L164.89,1023.76 L164.38,1024.60 L163.87,1025.45 L163.37,1026.31 L162.86,1027.18 L162.37,1028.06 L161.87,1028.95 L161.38,1029.86 L160.89,1030.77 L160.40,1031.69 L159.92,1032.62 L159.44,1033.56 L158.96,1034.50 L158.49,1035.45 L158.02,1036.41 L157.55,1037.38 L157.08,1038.35 L156.62,1039.33 L156.16,1040.31 L155.71,1041.30 L155.26,1042.29 L154.81,1043.28 L154.36,1044.28 L153.92,1045.28 L153.48,1046.28 L153.04,1047.28 L152.61,1048.28 L152.18,1049.28 L151.75,1050.28 L151.33,1051.28 L150.90,1052.27 L150.49,1053.27 L150.07,1054.19 L149.66,1054.98 L149.25,1055.77 L148.84,1056.57 L148.44,1057.38 L148.04,1058.19 L147.65,1059.00 L147.25,1059.82 L146.86,1060.65 L146.48,1061.48 L146.09,1062.31 L145.71,1063.15 L145.33,1063.99 L144.96,1064.83 L144.59,1065.69 L144.22,1066.55 L143.85,1067.42 L143.49,1068.30 L143.13,1069.19 L142.78,1070.10 L142.42,1071.01 L142.08,1071.93 L141.73,1072.87 L141.38,1073.81 L141.04,1074.77 L140.71,1075.73 L140.37,1076.70 L140.04,1077.68 L139.71,1078.67 L139.39,1079.67 L139.07,1080.68 L138.75,1081.70 L138.43,1082.72 L138.12,1083.75 L137.81,1084.79 L137.51,1085.83 L137.20,1086.88 L136.90,1087.94 L136.61,1089.00 L136.31,1090.07 L136.02,1091.14 L135.73,1092.22 L135.45,1093.30 L135.17,1094.39 L134.89,1095.48 L134.62,1096.58 L134.34,1097.67 L134.07,1098.77 L133.81,1099.88 L133.55,1100.98 L133.29,1102.09 L133.03,1103.21 L132.78,1104.32 L132.53,1105.44 L132.28,1106.56 L132.04,1107.68 L131.79,1108.80 L131.56,1109.93 L131.32,1111.05 L131.09,1112.18 L130.86,1113.31 L130.64,1114.45 L130.41,1115.58 L130.20,1116.72 L129.98,1117.86 L129.77,1119.00 L129.56,1120.14 L129.35,1121.29 L129.15,1122.43 L128.95,1123.58 L128.75,1124.73 L128.55,1125.88 L128.36,1127.03 L128.17,1128.18 L127.99,1129.33 L127.81,1130.49 L127.63,1131.64 L127.45,1132.79 L127.28,1133.95 L127.11,1135.10 L126.95,1136.25 L126.78,1137.40 L126.62,1138.55 L126.47,1139.69 L126.31,1140.83 L126.16,1141.97 L126.01,1143.11 L125.87,1144.24 L125.73,1145.37 L125.59,1146.49 L125.45,1147.60 L125.32,1148.71 L125.19,1149.81 L125.07,1150.91 L124.94,1151.99 L124.82,1153.07 L124.71,1154.13 L124.59,1155.19 L124.48,1156.23 L124.38,1157.26 L124.27,1158.28 L124.17,1159.29 L124.07,1160.28 L123.98,1161.25 L123.89,1162.21 L123.80,1163.15 L123.71,1164.07 L123.63,1164.97 L123.55,1165.86 L123.48,1166.72 L123.40,1167.55 L123.33,1168.37 L123.27,1169.16 L123.20,1169.92 L123.14,1170.66 L123.08,1171.36 L123.03,1172.04 L122.98,1172.69 L122.93,1173.30 L122.88,1173.89 L122.84,1174.43 L122.80,1174.95 L122.77,1175.42 L122.74,1175.86 L122.71,1176.26 L122.68,1176.62 L122.66,1176.94 L122.64,1177.22 L122.62,1177.46 L122.60,1177.65 L122.59,1177.80 L122.59,1177.91 L122.58,1177.98 L122.58,1178.00 Z" fill="#00BFC4" fill-opacity="0.2" stroke="none"/>
<line x1="357" x2="386" y1="1115.2" y2="1115.2" stroke="#F8766D" stroke-width="3.0"/>
<text x="400" y="1122.1" fill="#F8766D" font-family="Liberation Sans, sans-serif" font-weight="bold" font-size="28.7">CCRA @ East Coast</text>
<line x1="357" x2="386" y1="1149.1" y2="1149.1" stroke="#00BFC4" stroke-width="3.0"/>
<text x="400" y="1155.8" fill="#00BFC4" font-family="Liberation Sans, sans-serif" font-weight="bold" font-size="28.7">CCRA @ West Coast</text>
<text x="94.7" y="650.85" fill="#000" font-family="Liberation Sans, sans-serif" font-weight="bold" font-size="29.6">B</text>
<rect x="84.6" y="605.2" width="835.1" height="597.3" fill="none" stroke="#333333" stroke-width="2.8" stroke-linejoin="round"/>
<line x1="77" x2="84.6" y1="1178.00" y2="1178.00" stroke="#333333" stroke-width="2.7"/>
<text transform="translate(72.2,1185.80) scale(1,1.05)" text-anchor="end" fill="#4D4D4D" font-family="Liberation Sans, sans-serif" font-size="22.9">0</text>
<line x1="77" x2="84.6" y1="970.50" y2="970.50" stroke="#333333" stroke-width="2.7"/>
<text transform="translate(72.2,978.30) scale(1,1.05)" text-anchor="end" fill="#4D4D4D" font-family="Liberation Sans, sans-serif" font-size="22.9">100</text>
<line x1="77" x2="84.6" y1="763.00" y2="763.00" stroke="#333333" stroke-width="2.7"/>
<text transform="translate(72.2,770.80) scale(1,1.05)" text-anchor="end" fill="#4D4D4D" font-family="Liberation Sans, sans-serif" font-size="22.9">200</text>
<text transform="translate(21.9,867.05) rotate(-90)" text-anchor="middle" fill="#000" font-family="Liberation Sans, sans-serif" font-size="29.4" letter-spacing="-0.34">Number of Species</text>
</g>
<g id="panelC">
<line x1="84.6" x2="919.7" y1="1677.88" y2="1677.88" stroke="#EBEBEB" stroke-width="1.6"/>
<line x1="84.6" x2="919.7" y1="1482.62" y2="1482.62" stroke="#EBEBEB" stroke-width="1.6"/>
<line x1="84.6" x2="919.7" y1="1287.38" y2="1287.38" stroke="#EBEBEB" stroke-width="1.6"/>
<line x1="198.51" x2="198.51" y1="1202.5" y2="1802.7" stroke="#EBEBEB" stroke-width="1.6"/>
<line x1="350.38" x2="350.38" y1="1202.5" y2="1802.7" stroke="#EBEBEB" stroke-width="1.6"/>
<line x1="502.25" x2="502.25" y1="1202.5" y2="1802.7" stroke="#EBEBEB" stroke-width="1.6"/>
<line x1="654.13" x2="654.13" y1="1202.5" y2="1802.7" stroke="#EBEBEB" stroke-width="1.6"/>
<line x1="806.00" x2="806.00" y1="1202.5" y2="1802.7" stroke="#EBEBEB" stroke-width="1.6"/>
<line x1="84.6" x2="919.7" y1="1775.50" y2="1775.50" stroke="#EBEBEB" stroke-width="2.4"/>
<line x1="84.6" x2="919.7" y1="1580.25" y2="1580.25" stroke="#EBEBEB" stroke-width="2.4"/>
<line x1="84.6" x2="919.7" y1="1385.00" y2="1385.00" stroke="#EBEBEB" stroke-width="2.4"/>
<line x1="122.58" x2="122.58" y1="1202.5" y2="1802.7" stroke="#EBEBEB" stroke-width="2.4"/>
<line x1="274.45" x2="274.45" y1="1202.5" y2="1802.7" stroke="#EBEBEB" stroke-width="2.4"/>
<line x1="426.32" x2="426.32" y1="1202.5" y2="1802.7" stroke="#EBEBEB" stroke-width="2.4"/>
<line x1="578.19" x2="578.19" y1="1202.5" y2="1802.7" stroke="#EBEBEB" stroke-width="2.4"/>
<line x1="730.06" x2="730.06" y1="1202.5" y2="1802.7" stroke="#EBEBEB" stroke-width="2.4"/>
<line x1="881.93" x2="881.93" y1="1202.5" y2="1802.7" stroke="#EBEBEB" stroke-width="2.4"/>
<circle cx="174.32" cy="1568.54" r="6.75" fill="#F8766D"/>
<polygon points="145.48,1671.83 154.10,1686.76 136.86,1686.76" fill="#00BFC4"/>
<path d="M122.58,1775.50 L122.58,1775.49 L122.58,1775.46 L122.59,1775.40 L122.59,1775.33 L122.60,1775.23 L122.61,1775.11 L122.62,1774.97 L122.63,1774.81 L122.65,1774.63 L122.66,1774.43 L122.68,1774.21 L122.70,1773.96 L122.72,1773.70 L122.74,1773.42 L122.77,1773.12 L122.79,1772.79 L122.82,1772.45 L122.85,1772.09 L122.88,1771.71 L122.91,1771.32 L122.95,1770.90 L122.98,1770.47 L123.02,1770.02 L123.06,1769.56 L123.10,1769.08 L123.14,1768.58 L123.19,1768.07 L123.23,1767.54 L123.28,1767.00 L123.33,1766.44 L123.38,1765.87 L123.43,1765.29 L123.49,1764.69 L123.54,1764.08 L123.60,1763.46 L123.66,1762.83 L123.72,1762.19 L123.79,1761.54 L123.85,1760.87 L123.92,1760.20 L123.98,1759.52 L124.05,1758.83 L124.12,1758.13 L124.20,1757.42 L124.27,1756.70 L124.35,1755.98 L124.42,1755.25 L124.50,1754.52 L124.58,1753.78 L124.67,1753.03 L124.75,1752.28 L124.84,1751.52 L124.92,1750.76 L125.01,1749.99 L125.10,1749.22 L125.20,1748.45 L125.29,1747.67 L125.39,1746.90 L125.49,1746.11 L125.58,1745.33 L125.69,1744.54 L125.79,1743.76 L125.89,1742.97 L126.00,1742.17 L126.11,1741.38 L126.22,1740.59 L126.33,1739.79 L126.44,1739.00 L126.55,1738.20 L126.67,1737.41 L126.79,1736.61 L126.91,1735.81 L127.03,1735.02 L127.15,1734.22 L127.27,1733.42 L127.40,1732.63 L127.53,1731.83 L127.66,1731.03 L127.79,1730.24 L127.92,1729.44 L128.06,1728.64 L128.19,1727.85 L128.33,1727.05 L128.47,1726.26 L128.61,1725.46 L128.75,1724.66 L128.90,1723.87 L129.04,1723.07 L129.19,1722.28 L129.34,1721.48 L129.49,1720.69 L129.64,1719.89 L129.80,1719.09 L129.95,1718.30 L130.11,1717.50 L130.27,1716.70 L130.43,1715.90 L130.59,1715.10 L130.76,1714.30 L130.93,1713.50 L131.09,1712.70 L131.26,1711.90 L131.43,1711.09 L131.61,1710.28 L131.78,1709.48 L131.96,1708.67 L132.13,1707.85 L132.31,1707.04 L132.50,1706.23 L132.68,1705.41 L132.86,1704.59 L133.05,1703.77 L133.24,1702.94 L133.43,1702.12 L133.62,1701.29 L133.81,1700.46 L134.00,1699.62 L134.20,1698.78 L134.40,1697.94 L134.60,1697.10 L134.80,1696.26 L135.00,1695.41 L135.21,1694.55 L135.41,1693.70 L135.62,1692.84 L135.83,1691.98 L136.04,1691.11 L136.25,1690.25 L136.47,1689.37 L136.68,1688.50 L136.90,1687.62 L137.12,1686.74 L137.34,1685.85 L137.56,1684.96 L137.79,1684.07 L138.02,1683.18 L138.24,1682.28 L138.47,1681.37 L138.70,1680.47 L138.94,1679.55 L139.17,1678.64 L139.41,1677.72 L139.65,1676.80 L139.88,1675.88 L140.13,1674.95 L140.37,1674.02 L140.61,1673.08 L140.86,1672.14 L141.11,1671.20 L141.36,1670.25 L141.61,1669.30 L141.86,1668.35 L142.12,1667.39 L142.37,1666.43 L142.63,1665.47 L142.89,1664.51 L143.15,1663.54 L143.41,1662.56 L143.68,1661.59 L143.94,1660.61 L144.21,1659.63 L144.48,1658.64 L144.75,1657.66 L145.03,1656.66 L145.30,1655.67 L145.58,1654.68 L145.85,1653.68 L146.13,1652.67 L146.42,1651.67 L146.70,1650.66 L146.98,1649.65 L147.27,1648.64 L147.56,1647.63 L147.85,1646.61 L148.14,1645.59 L148.43,1644.57 L148.73,1643.55 L149.02,1642.52 L149.32,1641.49 L149.62,1640.47 L149.92,1639.43 L150.22,1638.40 L150.53,1637.37 L150.83,1636.33 L151.14,1635.29 L151.45,1634.25 L151.76,1633.21 L152.08,1632.17 L152.39,1631.12 L152.71,1630.07 L153.02,1629.03 L153.34,1627.98 L153.67,1626.93 L153.99,1625.88 L154.31,1624.83 L154.64,1623.77 L154.97,1622.72 L155.30,1621.67 L155.63,1620.61 L155.96,1619.56 L156.30,1618.50 L156.63,1617.44 L156.97,1616.38 L157.31,1615.33 L157.65,1614.27 L157.99,1613.21 L158.34,1612.15 L158.69,1611.09 L159.03,1610.03 L159.38,1608.98 L159.73,1607.92 L160.09,1606.86 L160.44,1605.80 L160.80,1604.74 L161.16,1603.69 L161.52,1602.63 L161.88,1601.57 L162.24,1600.52 L162.61,1599.46 L162.97,1598.41 L163.34,1597.35 L163.71,1596.30 L164.08,1595.25 L164.45,1594.20 L164.83,1593.15 L165.20,1592.10 L165.58,1591.06 L165.96,1590.01 L166.34,1588.97 L166.73,1587.93 L167.11,1586.89 L167.50,1585.85 L167.89,1584.81 L168.28,1583.77 L168.67,1582.74 L169.06,1581.71 L169.46,1580.68 L169.85,1579.66 L170.25,1578.63 L170.65,1577.61 L171.05,1576.59 L171.45,1575.57 L171.86,1574.56 L172.26,1573.55 L172.67,1572.54 L173.08,1571.53 L173.49,1570.53 L173.91,1569.53 L174.32,1568.54" fill="none" stroke="#F8766D" stroke-width="3.75" stroke-linejoin="round"/>
<path d="M174.32,1568.54 L176.10,1564.48 L177.87,1560.51 L179.64,1556.61 L181.42,1552.79 L183.19,1549.04 L184.96,1545.36 L186.74,1541.75 L188.51,1538.21 L190.28,1534.73 L192.06,1531.32 L193.83,1527.98 L195.60,1524.70 L197.38,1521.48 L199.15,1518.33 L200.92,1515.23 L202.70,1512.19 L204.47,1509.21 L206.24,1506.29 L208.02,1503.42 L209.79,1500.61 L211.56,1497.85 L213.34,1495.14 L215.11,1492.48 L216.88,1489.88 L218.66,1487.32 L220.43,1484.81 L222.21,1482.35 L223.98,1479.94 L225.75,1477.57 L227.53,1475.25 L229.30,1472.97 L231.07,1470.74 L232.85,1468.54 L234.62,1466.39 L236.39,1464.28 L238.17,1462.21 L239.94,1460.18 L241.71,1458.19 L243.49,1456.23 L245.26,1454.32 L247.03,1452.44 L248.81,1450.59 L250.58,1448.78 L252.35,1447.00 L254.13,1445.26 L255.90,1443.55 L257.67,1441.88 L259.45,1440.23 L261.22,1438.62 L262.99,1437.04 L264.77,1435.48 L266.54,1433.96 L268.32,1432.47 L270.09,1431.00 L271.86,1429.56 L273.64,1428.15 L275.41,1426.77 L277.18,1425.41 L278.96,1424.08 L280.73,1422.77 L282.50,1421.49 L284.28,1420.23 L286.05,1419.00 L287.82,1417.79 L289.60,1416.60 L291.37,1415.44 L293.14,1414.29 L294.92,1413.17 L296.69,1412.07 L298.46,1410.99 L300.24,1409.94 L302.01,1408.90 L303.78,1407.88 L305.56,1406.88 L307.33,1405.90 L309.10,1404.94 L310.88,1404.00 L312.65,1403.07 L314.42,1402.16 L316.20,1401.27 L317.97,1400.40 L319.75,1399.54 L321.52,1398.70 L323.29,1397.88 L325.07,1397.07 L326.84,1396.28 L328.61,1395.50 L330.39,1394.73 L332.16,1393.98 L333.93,1393.25 L335.71,1392.53 L337.48,1391.82 L339.25,1391.13 L341.03,1390.45 L342.80,1389.78 L344.57,1389.12 L346.35,1388.48 L348.12,1387.85 L349.89,1387.23 L351.67,1386.62 L353.44,1386.03 L355.21,1385.44 L356.99,1384.87 L358.76,1384.31 L360.53,1383.76 L362.31,1383.22 L364.08,1382.69 L365.86,1382.17 L367.63,1381.66 L369.40,1381.16 L371.18,1380.66 L372.95,1380.18 L374.72,1379.71 L376.50,1379.24 L378.27,1378.79 L380.04,1378.34 L381.82,1377.91 L383.59,1377.48 L385.36,1377.05 L387.14,1376.64 L388.91,1376.23 L390.68,1375.84 L392.46,1375.45 L394.23,1375.06 L396.00,1374.69 L397.78,1374.32 L399.55,1373.96 L401.32,1373.60 L403.10,1373.26 L404.87,1372.91 L406.64,1372.58 L408.42,1372.25 L410.19,1371.93 L411.96,1371.61 L413.74,1371.30 L415.51,1371.00 L417.29,1370.70 L419.06,1370.41 L420.83,1370.12 L422.61,1369.84 L424.38,1369.56 L426.15,1369.29 L427.93,1369.02 L429.70,1368.76 L431.47,1368.51 L433.25,1368.26 L435.02,1368.01 L436.79,1367.77 L438.57,1367.53 L440.34,1367.30 L442.11,1367.07 L443.89,1366.85 L445.66,1366.63 L447.43,1366.41 L449.21,1366.20 L450.98,1365.99 L452.75,1365.79 L454.53,1365.59 L456.30,1365.39 L458.07,1365.20 L459.85,1365.01 L461.62,1364.83 L463.40,1364.65 L465.17,1364.47 L466.94,1364.29 L468.72,1364.12 L470.49,1363.96 L472.26,1363.79 L474.04,1363.63 L475.81,1363.47 L477.58,1363.32 L479.36,1363.16 L481.13,1363.01 L482.90,1362.87 L484.68,1362.72 L486.45,1362.58 L488.22,1362.44 L490.00,1362.31 L491.77,1362.17 L493.54,1362.04 L495.32,1361.91 L497.09,1361.79 L498.86,1361.66 L500.64,1361.54 L502.41,1361.42 L504.18,1361.31 L505.96,1361.19 L507.73,1361.08 L509.50,1360.97 L511.28,1360.86 L513.05,1360.76 L514.83,1360.65 L516.60,1360.55 L518.37,1360.45 L520.15,1360.35 L521.92,1360.26 L523.69,1360.16 L525.47,1360.07 L527.24,1359.98 L529.01,1359.89 L530.79,1359.80 L532.56,1359.72 L534.33,1359.63 L536.11,1359.55 L537.88,1359.47 L539.65,1359.39 L541.43,1359.31 L543.20,1359.23 L544.97,1359.16 L546.75,1359.09 L548.52,1359.01 L550.29,1358.94 L552.07,1358.87 L553.84,1358.80 L555.61,1358.74 L557.39,1358.67 L559.16,1358.61 L560.93,1358.54 L562.71,1358.48 L564.48,1358.42 L566.26,1358.36 L568.03,1358.30 L569.80,1358.25 L571.58,1358.19 L573.35,1358.13 L575.12,1358.08 L576.90,1358.03 L578.67,1357.98 L580.44,1357.92 L582.22,1357.87 L583.99,1357.82 L585.76,1357.78 L587.54,1357.73 L589.31,1357.68 L591.08,1357.64 L592.86,1357.59 L594.63,1357.55 L596.40,1357.51 L598.18,1357.46 L599.95,1357.42 L601.72,1357.38 L603.50,1357.34 L605.27,1357.30 L607.04,1357.26 L608.82,1357.23 L610.59,1357.19 L612.37,1357.15 L614.14,1357.12 L615.91,1357.08 L617.69,1357.05 L619.46,1357.02 L621.23,1356.98 L623.01,1356.95 L624.78,1356.92 L626.55,1356.89 L628.33,1356.86 L630.10,1356.83 L631.87,1356.80 L633.65,1356.77 L635.42,1356.74 L637.19,1356.71 L638.97,1356.69 L640.74,1356.66 L642.51,1356.63 L644.29,1356.61 L646.06,1356.58 L647.83,1356.56 L649.61,1356.53 L651.38,1356.51 L653.15,1356.49 L654.93,1356.46 L656.70,1356.44 L658.47,1356.42 L660.25,1356.40 L662.02,1356.38 L663.80,1356.36 L665.57,1356.34 L667.34,1356.32 L669.12,1356.30 L670.89,1356.28 L672.66,1356.26 L674.44,1356.24 L676.21,1356.22 L677.98,1356.20 L679.76,1356.19 L681.53,1356.17 L683.30,1356.15 L685.08,1356.14 L686.85,1356.12 L688.62,1356.10 L690.40,1356.09 L692.17,1356.07 L693.94,1356.06 L695.72,1356.04 L697.49,1356.03 L699.26,1356.01 L701.04,1356.00 L702.81,1355.99 L704.58,1355.97 L706.36,1355.96 L708.13,1355.95 L709.91,1355.93 L711.68,1355.92 L713.45,1355.91 L715.23,1355.90 L717.00,1355.89 L718.77,1355.87 L720.55,1355.86 L722.32,1355.85 L724.09,1355.84 L725.87,1355.83 L727.64,1355.82 L729.41,1355.81 L731.19,1355.80 L732.96,1355.79 L734.73,1355.78 L736.51,1355.77 L738.28,1355.76 L740.05,1355.75 L741.83,1355.74 L743.60,1355.74 L745.37,1355.73 L747.15,1355.72 L748.92,1355.71 L750.69,1355.70 L752.47,1355.69 L754.24,1355.69 L756.01,1355.68 L757.79,1355.67 L759.56,1355.66 L761.34,1355.66 L763.11,1355.65 L764.88,1355.64 L766.66,1355.64 L768.43,1355.63 L770.20,1355.62 L771.98,1355.62 L773.75,1355.61 L775.52,1355.60 L777.30,1355.60 L779.07,1355.59 L780.84,1355.59 L782.62,1355.58 L784.39,1355.57 L786.16,1355.57 L787.94,1355.56 L789.71,1355.56 L791.48,1355.55 L793.26,1355.55 L795.03,1355.54 L796.80,1355.54 L798.58,1355.53 L800.35,1355.53 L802.12,1355.52 L803.90,1355.52 L805.67,1355.51 L807.44,1355.51 L809.22,1355.51 L810.99,1355.50 L812.77,1355.50 L814.54,1355.49 L816.31,1355.49 L818.09,1355.49 L819.86,1355.48 L821.63,1355.48 L823.41,1355.47 L825.18,1355.47 L826.95,1355.47 L828.73,1355.46 L830.50,1355.46 L832.27,1355.46 L834.05,1355.45 L835.82,1355.45 L837.59,1355.45 L839.37,1355.44 L841.14,1355.44 L842.91,1355.44 L844.69,1355.43 L846.46,1355.43 L848.23,1355.43 L850.01,1355.43 L851.78,1355.42 L853.55,1355.42 L855.33,1355.42 L857.10,1355.42 L858.88,1355.41 L860.65,1355.41 L862.42,1355.41 L864.20,1355.41 L865.97,1355.40 L867.74,1355.40 L869.52,1355.40 L871.29,1355.40 L873.06,1355.39 L874.84,1355.39 L876.61,1355.39 L878.38,1355.39 L880.16,1355.39 L881.93,1355.38" fill="none" stroke="#F8766D" stroke-width="3.75" stroke-dasharray="7.655 7.655" stroke-linejoin="round"/>
<path d="M122.58,1775.50 L122.58,1775.50 L122.58,1775.48 L122.58,1775.46 L122.59,1775.42 L122.59,1775.38 L122.59,1775.32 L122.60,1775.26 L122.60,1775.18 L122.61,1775.10 L122.62,1775.01 L122.62,1774.91 L122.63,1774.79 L122.64,1774.67 L122.65,1774.54 L122.66,1774.40 L122.67,1774.25 L122.69,1774.09 L122.70,1773.92 L122.71,1773.74 L122.73,1773.56 L122.74,1773.36 L122.76,1773.16 L122.78,1772.94 L122.79,1772.72 L122.81,1772.49 L122.83,1772.25 L122.85,1772.00 L122.87,1771.74 L122.89,1771.48 L122.91,1771.21 L122.93,1770.93 L122.96,1770.64 L122.98,1770.34 L123.01,1770.04 L123.03,1769.73 L123.06,1769.41 L123.09,1769.08 L123.11,1768.75 L123.14,1768.41 L123.17,1768.06 L123.20,1767.71 L123.23,1767.35 L123.26,1766.98 L123.30,1766.61 L123.33,1766.23 L123.36,1765.85 L123.40,1765.46 L123.43,1765.06 L123.47,1764.66 L123.50,1764.26 L123.54,1763.85 L123.58,1763.43 L123.62,1763.01 L123.66,1762.58 L123.70,1762.15 L123.74,1761.72 L123.78,1761.28 L123.82,1760.83 L123.87,1760.39 L123.91,1759.94 L123.95,1759.48 L124.00,1759.02 L124.05,1758.56 L124.09,1758.10 L124.14,1757.63 L124.19,1757.16 L124.24,1756.69 L124.29,1756.21 L124.34,1755.74 L124.39,1755.26 L124.44,1754.78 L124.49,1754.29 L124.55,1753.81 L124.60,1753.32 L124.66,1752.83 L124.71,1752.34 L124.77,1751.85 L124.83,1751.36 L124.89,1750.87 L124.94,1750.38 L125.00,1749.88 L125.06,1749.39 L125.12,1748.89 L125.19,1748.40 L125.25,1747.90 L125.31,1747.41 L125.38,1746.91 L125.44,1746.42 L125.51,1745.92 L125.57,1745.43 L125.64,1744.93 L125.71,1744.44 L125.77,1743.95 L125.84,1743.45 L125.91,1742.96 L125.98,1742.47 L126.06,1741.98 L126.13,1741.50 L126.20,1741.01 L126.27,1740.52 L126.35,1740.04 L126.42,1739.56 L126.50,1739.08 L126.58,1738.60 L126.65,1738.12 L126.73,1737.64 L126.81,1737.17 L126.89,1736.70 L126.97,1736.22 L127.05,1735.76 L127.13,1735.29 L127.21,1734.82 L127.30,1734.36 L127.38,1733.90 L127.47,1733.44 L127.55,1732.98 L127.64,1732.53 L127.72,1732.07 L127.81,1731.62 L127.90,1731.17 L127.99,1730.73 L128.08,1730.28 L128.17,1729.84 L128.26,1729.40 L128.35,1728.96 L128.44,1728.52 L128.54,1728.09 L128.63,1727.66 L128.73,1727.23 L128.82,1726.80 L128.92,1726.37 L129.02,1725.95 L129.11,1725.53 L129.21,1725.11 L129.31,1724.69 L129.41,1724.27 L129.51,1723.86 L129.61,1723.45 L129.72,1723.04 L129.82,1722.63 L129.92,1722.22 L130.03,1721.82 L130.13,1721.42 L130.24,1721.01 L130.35,1720.62 L130.45,1720.22 L130.56,1719.82 L130.67,1719.43 L130.78,1719.03 L130.89,1718.64 L131.00,1718.25 L131.11,1717.86 L131.23,1717.47 L131.34,1717.09 L131.45,1716.70 L131.57,1716.32 L131.68,1715.94 L131.80,1715.55 L131.92,1715.17 L132.04,1714.79 L132.15,1714.41 L132.27,1714.04 L132.39,1713.66 L132.51,1713.28 L132.64,1712.91 L132.76,1712.53 L132.88,1712.16 L133.01,1711.78 L133.13,1711.41 L133.26,1711.04 L133.38,1710.67 L133.51,1710.30 L133.64,1709.93 L133.76,1709.55 L133.89,1709.18 L134.02,1708.81 L134.15,1708.45 L134.28,1708.08 L134.42,1707.71 L134.55,1707.34 L134.68,1706.97 L134.82,1706.60 L134.95,1706.23 L135.09,1705.86 L135.22,1705.50 L135.36,1705.13 L135.50,1704.76 L135.64,1704.39 L135.77,1704.02 L135.91,1703.65 L136.06,1703.29 L136.20,1702.92 L136.34,1702.55 L136.48,1702.18 L136.63,1701.81 L136.77,1701.44 L136.92,1701.07 L137.06,1700.70 L137.21,1700.33 L137.36,1699.96 L137.50,1699.59 L137.65,1699.22 L137.80,1698.85 L137.95,1698.48 L138.10,1698.11 L138.26,1697.74 L138.41,1697.37 L138.56,1697.00 L138.71,1696.63 L138.87,1696.25 L139.03,1695.88 L139.18,1695.51 L139.34,1695.14 L139.50,1694.77 L139.65,1694.39 L139.81,1694.02 L139.97,1693.65 L140.13,1693.28 L140.30,1692.90 L140.46,1692.53 L140.62,1692.16 L140.78,1691.78 L140.95,1691.41 L141.11,1691.04 L141.28,1690.67 L141.45,1690.29 L141.61,1689.92 L141.78,1689.55 L141.95,1689.17 L142.12,1688.80 L142.29,1688.43 L142.46,1688.06 L142.63,1687.69 L142.81,1687.31 L142.98,1686.94 L143.15,1686.57 L143.33,1686.20 L143.50,1685.83 L143.68,1685.46 L143.86,1685.09 L144.03,1684.72 L144.21,1684.35 L144.39,1683.98 L144.57,1683.61 L144.75,1683.25 L144.93,1682.88 L145.12,1682.51 L145.30,1682.15 L145.48,1681.78" fill="none" stroke="#00BFC4" stroke-width="3.75" stroke-linejoin="round"/>
<path d="M145.48,1681.78 L147.33,1678.37 L149.17,1675.08 L151.02,1671.92 L152.86,1668.87 L154.71,1665.93 L156.56,1663.09 L158.40,1660.36 L160.25,1657.73 L162.09,1655.19 L163.94,1652.75 L165.79,1650.39 L167.63,1648.12 L169.48,1645.93 L171.32,1643.82 L173.17,1641.79 L175.01,1639.83 L176.86,1637.94 L178.71,1636.13 L180.55,1634.37 L182.40,1632.68 L184.24,1631.05 L186.09,1629.49 L187.93,1627.97 L189.78,1626.52 L191.63,1625.11 L193.47,1623.76 L195.32,1622.45 L197.16,1621.20 L199.01,1619.99 L200.85,1618.82 L202.70,1617.69 L204.55,1616.61 L206.39,1615.56 L208.24,1614.56 L210.08,1613.59 L211.93,1612.65 L213.77,1611.75 L215.62,1610.88 L217.47,1610.04 L219.31,1609.24 L221.16,1608.46 L223.00,1607.71 L224.85,1606.99 L226.69,1606.29 L228.54,1605.62 L230.39,1604.98 L232.23,1604.35 L234.08,1603.75 L235.92,1603.17 L237.77,1602.62 L239.61,1602.08 L241.46,1601.56 L243.31,1601.06 L245.15,1600.58 L247.00,1600.12 L248.84,1599.67 L250.69,1599.24 L252.53,1598.83 L254.38,1598.43 L256.23,1598.04 L258.07,1597.67 L259.92,1597.31 L261.76,1596.97 L263.61,1596.63 L265.45,1596.31 L267.30,1596.01 L269.15,1595.71 L270.99,1595.42 L272.84,1595.14 L274.68,1594.88 L276.53,1594.62 L278.37,1594.37 L280.22,1594.14 L282.07,1593.91 L283.91,1593.69 L285.76,1593.47 L287.60,1593.27 L289.45,1593.07 L291.30,1592.88 L293.14,1592.69 L294.99,1592.52 L296.83,1592.35 L298.68,1592.18 L300.52,1592.02 L302.37,1591.87 L304.22,1591.72 L306.06,1591.58 L307.91,1591.44 L309.75,1591.31 L311.60,1591.18 L313.44,1591.06 L315.29,1590.94 L317.14,1590.83 L318.98,1590.72 L320.83,1590.61 L322.67,1590.51 L324.52,1590.41 L326.36,1590.32 L328.21,1590.23 L330.06,1590.14 L331.90,1590.06 L333.75,1589.97 L335.59,1589.90 L337.44,1589.82 L339.28,1589.75 L341.13,1589.68 L342.98,1589.61 L344.82,1589.54 L346.67,1589.48 L348.51,1589.42 L350.36,1589.36 L352.20,1589.30 L354.05,1589.25 L355.90,1589.20 L357.74,1589.15 L359.59,1589.10 L361.43,1589.05 L363.28,1589.01 L365.12,1588.96 L366.97,1588.92 L368.82,1588.88 L370.66,1588.84 L372.51,1588.80 L374.35,1588.77 L376.20,1588.73 L378.04,1588.70 L379.89,1588.67 L381.74,1588.64 L383.58,1588.61 L385.43,1588.58 L387.27,1588.55 L389.12,1588.52 L390.96,1588.50 L392.81,1588.47 L394.66,1588.45 L396.50,1588.42 L398.35,1588.40 L400.19,1588.38 L402.04,1588.36 L403.88,1588.34 L405.73,1588.32 L407.58,1588.30 L409.42,1588.28 L411.27,1588.27 L413.11,1588.25 L414.96,1588.23 L416.80,1588.22 L418.65,1588.20 L420.50,1588.19 L422.34,1588.17 L424.19,1588.16 L426.03,1588.15 L427.88,1588.14 L429.73,1588.12 L431.57,1588.11 L433.42,1588.10 L435.26,1588.09 L437.11,1588.08 L438.95,1588.07 L440.80,1588.06 L442.65,1588.05 L444.49,1588.04 L446.34,1588.03 L448.18,1588.03 L450.03,1588.02 L451.87,1588.01 L453.72,1588.00 L455.57,1588.00 L457.41,1587.99 L459.26,1587.98 L461.10,1587.98 L462.95,1587.97 L464.79,1587.96 L466.64,1587.96 L468.49,1587.95 L470.33,1587.95 L472.18,1587.94 L474.02,1587.94 L475.87,1587.93 L477.71,1587.93 L479.56,1587.92 L481.41,1587.92 L483.25,1587.91 L485.10,1587.91 L486.94,1587.91 L488.79,1587.90 L490.63,1587.90 L492.48,1587.90 L494.33,1587.89 L496.17,1587.89 L498.02,1587.89 L499.86,1587.88 L501.71,1587.88 L503.55,1587.88 L505.40,1587.88 L507.25,1587.87 L509.09,1587.87 L510.94,1587.87 L512.78,1587.87 L514.63,1587.86 L516.47,1587.86 L518.32,1587.86 L520.17,1587.86 L522.01,1587.86 L523.86,1587.85 L525.70,1587.85 L527.55,1587.85 L529.39,1587.85 L531.24,1587.85 L533.09,1587.85 L534.93,1587.84 L536.78,1587.84 L538.62,1587.84 L540.47,1587.84 L542.31,1587.84 L544.16,1587.84 L546.01,1587.84 L547.85,1587.84 L549.70,1587.83 L551.54,1587.83 L553.39,1587.83 L555.24,1587.83 L557.08,1587.83 L558.93,1587.83 L560.77,1587.83 L562.62,1587.83 L564.46,1587.83 L566.31,1587.83 L568.16,1587.83 L570.00,1587.83 L571.85,1587.82 L573.69,1587.82 L575.54,1587.82 L577.38,1587.82 L579.23,1587.82 L581.08,1587.82 L582.92,1587.82 L584.77,1587.82 L586.61,1587.82 L588.46,1587.82 L590.30,1587.82 L592.15,1587.82 L594.00,1587.82 L595.84,1587.82 L597.69,1587.82 L599.53,1587.82 L601.38,1587.82 L603.22,1587.82 L605.07,1587.82 L606.92,1587.82 L608.76,1587.81 L610.61,1587.81 L612.45,1587.81 L614.30,1587.81 L616.14,1587.81 L617.99,1587.81 L619.84,1587.81 L621.68,1587.81 L623.53,1587.81 L625.37,1587.81 L627.22,1587.81 L629.06,1587.81 L630.91,1587.81 L632.76,1587.81 L634.60,1587.81 L636.45,1587.81 L638.29,1587.81 L640.14,1587.81 L641.98,1587.81 L643.83,1587.81 L645.68,1587.81 L647.52,1587.81 L649.37,1587.81 L651.21,1587.81 L653.06,1587.81 L654.90,1587.81 L656.75,1587.81 L658.60,1587.81 L660.44,1587.81 L662.29,1587.81 L664.13,1587.81 L665.98,1587.81 L667.82,1587.81 L669.67,1587.81 L671.52,1587.81 L673.36,1587.81 L675.21,1587.81 L677.05,1587.81 L678.90,1587.81 L680.74,1587.81 L682.59,1587.81 L684.44,1587.81 L686.28,1587.81 L688.13,1587.81 L689.97,1587.81 L691.82,1587.81 L693.67,1587.81 L695.51,1587.81 L697.36,1587.81 L699.20,1587.81 L701.05,1587.81 L702.89,1587.81 L704.74,1587.81 L706.59,1587.81 L708.43,1587.81 L710.28,1587.81 L712.12,1587.81 L713.97,1587.81 L715.81,1587.81 L717.66,1587.81 L719.51,1587.81 L721.35,1587.81 L723.20,1587.81 L725.04,1587.81 L726.89,1587.81 L728.73,1587.81 L730.58,1587.81 L732.43,1587.81 L734.27,1587.81 L736.12,1587.81 L737.96,1587.81 L739.81,1587.81 L741.65,1587.81 L743.50,1587.81 L745.35,1587.81 L747.19,1587.81 L749.04,1587.81 L750.88,1587.81 L752.73,1587.81 L754.57,1587.81 L756.42,1587.81 L758.27,1587.81 L760.11,1587.81 L761.96,1587.81 L763.80,1587.81 L765.65,1587.81 L767.49,1587.81 L769.34,1587.81 L771.19,1587.81 L773.03,1587.81 L774.88,1587.81 L776.72,1587.81 L778.57,1587.81 L780.41,1587.81 L782.26,1587.81 L784.11,1587.81 L785.95,1587.81 L787.80,1587.81 L789.64,1587.81 L791.49,1587.81 L793.33,1587.81 L795.18,1587.81 L797.03,1587.81 L798.87,1587.81 L800.72,1587.81 L802.56,1587.81 L804.41,1587.81 L806.25,1587.81 L808.10,1587.81 L809.95,1587.81 L811.79,1587.81 L813.64,1587.81 L815.48,1587.81 L817.33,1587.81 L819.18,1587.81 L821.02,1587.81 L822.87,1587.81 L824.71,1587.81 L826.56,1587.81 L828.40,1587.81 L830.25,1587.81 L832.10,1587.81 L833.94,1587.81 L835.79,1587.81 L837.63,1587.81 L839.48,1587.81 L841.32,1587.81 L843.17,1587.81 L845.02,1587.81 L846.86,1587.81 L848.71,1587.81 L850.55,1587.81 L852.40,1587.81 L854.24,1587.81 L856.09,1587.81 L857.94,1587.81 L859.78,1587.81 L861.63,1587.81 L863.47,1587.81 L865.32,1587.81 L867.16,1587.81 L869.01,1587.81 L870.86,1587.81 L872.70,1587.81 L874.55,1587.81 L876.39,1587.81 L878.24,1587.81 L880.08,1587.81 L881.93,1587.81" fill="none" stroke="#00BFC4" stroke-width="3.75" stroke-dasharray="7.655 7.655" stroke-linejoin="round"/>
<path d="M122.58,1775.50 L122.58,1775.48 L122.59,1775.42 L122.59,1775.32 L122.60,1775.17 L122.62,1774.99 L122.64,1774.76 L122.66,1774.50 L122.68,1774.20 L122.71,1773.86 L122.74,1773.48 L122.77,1773.06 L122.80,1772.60 L122.84,1772.11 L122.88,1771.59 L122.93,1771.03 L122.98,1770.43 L123.03,1769.81 L123.08,1769.15 L123.14,1768.46 L123.20,1767.74 L123.27,1766.99 L123.33,1766.22 L123.40,1765.42 L123.48,1764.59 L123.55,1763.74 L123.63,1762.87 L123.71,1761.97 L123.80,1761.05 L123.89,1760.12 L123.98,1759.16 L124.07,1758.19 L124.17,1757.20 L124.27,1756.20 L124.38,1755.18 L124.48,1754.15 L124.59,1753.11 L124.71,1752.05 L124.82,1750.99 L124.94,1749.91 L125.07,1748.83 L125.19,1747.74 L125.32,1746.64 L125.45,1745.54 L125.59,1744.43 L125.73,1743.31 L125.87,1742.19 L126.01,1741.07 L126.16,1739.94 L126.31,1738.81 L126.47,1737.68 L126.62,1736.55 L126.78,1735.41 L126.95,1734.27 L127.11,1733.14 L127.28,1732.00 L127.45,1730.86 L127.63,1729.71 L127.81,1728.57 L127.99,1727.43 L128.17,1726.28 L128.36,1725.14 L128.55,1723.99 L128.75,1722.85 L128.95,1721.70 L129.15,1720.55 L129.35,1719.40 L129.56,1718.25 L129.77,1717.09 L129.98,1715.94 L130.20,1714.78 L130.41,1713.62 L130.64,1712.45 L130.86,1711.29 L131.09,1710.12 L131.32,1708.94 L131.56,1707.77 L131.79,1706.58 L132.04,1705.40 L132.28,1704.21 L132.53,1703.01 L132.78,1701.81 L133.03,1700.61 L133.29,1699.39 L133.55,1698.18 L133.81,1696.95 L134.07,1695.72 L134.34,1694.49 L134.62,1693.24 L134.89,1691.99 L135.17,1690.74 L135.45,1689.47 L135.73,1688.20 L136.02,1686.92 L136.31,1685.64 L136.61,1684.34 L136.90,1683.04 L137.20,1681.73 L137.51,1680.41 L137.81,1679.08 L138.12,1677.75 L138.43,1676.41 L138.75,1675.06 L139.07,1673.71 L139.39,1672.34 L139.71,1670.97 L140.04,1669.59 L140.37,1668.20 L140.71,1666.81 L141.04,1665.40 L141.38,1663.99 L141.73,1662.56 L142.08,1661.13 L142.42,1659.69 L142.78,1658.23 L143.13,1656.77 L143.49,1655.30 L143.85,1653.81 L144.22,1652.31 L144.59,1650.81 L144.96,1649.28 L145.33,1647.75 L145.71,1646.21 L146.09,1644.64 L146.48,1643.06 L146.86,1641.47 L147.25,1639.86 L147.65,1638.24 L148.04,1636.61 L148.44,1634.96 L148.84,1633.30 L149.25,1631.63 L149.66,1629.95 L150.07,1628.26 L150.49,1626.56 L150.90,1624.85 L151.33,1623.13 L151.75,1621.41 L152.18,1619.69 L152.61,1617.96 L153.04,1616.22 L153.48,1614.47 L153.92,1612.70 L154.36,1610.91 L154.81,1609.10 L155.26,1607.29 L155.71,1605.46 L156.16,1603.62 L156.62,1601.79 L157.08,1599.95 L157.55,1598.12 L158.02,1596.30 L158.49,1594.49 L158.96,1592.69 L159.44,1590.92 L159.92,1589.17 L160.40,1587.45 L160.89,1585.76 L161.38,1584.08 L161.87,1582.41 L162.37,1580.76 L162.86,1579.11 L163.37,1577.47 L163.87,1575.85 L164.38,1574.22 L164.89,1572.61 L165.41,1571.00 L165.92,1569.40 L166.44,1567.80 L166.97,1566.20 L167.49,1564.60 L168.02,1563.01 L168.56,1561.41 L169.09,1559.81 L169.63,1558.21 L170.18,1556.62 L170.72,1555.04 L171.27,1553.46 L171.82,1551.89 L172.38,1550.34 L172.93,1548.80 L173.49,1547.28 L174.06,1545.77 L174.63,1544.31 L175.20,1542.89 L175.77,1541.48 L176.35,1540.07 L176.93,1538.67 L177.51,1537.28 L178.10,1535.89 L178.68,1534.49 L179.28,1533.10 L179.87,1531.70 L180.47,1530.30 L181.07,1528.89 L181.68,1527.48 L182.28,1526.06 L182.89,1524.65 L183.51,1523.23 L184.13,1521.81 L184.75,1520.39 L185.37,1518.96 L185.99,1517.53 L186.62,1516.10 L187.26,1514.66 L187.89,1513.21 L188.53,1511.76 L189.17,1510.30 L189.82,1508.83 L190.47,1507.36 L191.12,1505.88 L191.77,1504.40 L192.43,1502.92 L193.09,1501.43 L193.75,1499.94 L194.42,1498.44 L195.09,1496.93 L195.76,1495.41 L196.44,1493.89 L197.12,1492.37 L197.80,1490.84 L198.49,1489.32 L199.17,1487.80 L199.87,1486.28 L200.56,1484.76 L201.26,1483.23 L201.96,1481.69 L202.66,1480.16 L203.37,1478.63 L204.08,1477.11 L204.79,1475.60 L205.51,1474.09 L206.23,1472.60 L206.95,1471.13 L207.68,1469.67 L208.41,1468.22 L209.14,1466.78 L209.87,1465.35 L210.61,1463.93 L211.35,1462.52 L212.10,1461.11 L212.85,1459.71 L213.60,1458.32 L214.35,1456.94 L215.11,1455.56 L215.87,1454.18 L216.63,1452.81 L217.40,1451.45 L218.17,1450.08 L218.94,1448.72 L219.71,1447.36 L220.49,1445.99 L221.27,1444.63 L222.06,1443.27 L222.85,1441.90 L223.64,1440.53 L224.43,1439.16 L225.23,1437.78 L226.03,1436.40 L226.83,1435.00 L227.64,1433.59 L228.45,1432.18 L229.26,1430.77 L230.08,1429.36 L230.90,1427.95 L231.72,1426.55 L232.54,1425.16 L233.37,1423.78 L234.20,1422.39 L235.04,1421.01 L235.88,1419.63 L236.72,1418.26 L237.56,1416.90 L238.41,1415.55 L239.26,1414.21 L240.11,1412.89 L240.97,1411.58 L241.83,1410.28 L242.69,1408.97 L243.56,1407.66 L244.42,1406.34 L245.30,1405.00 L246.17,1403.64 L247.05,1402.25 L247.93,1400.85 L248.81,1399.44 L249.70,1398.03 L250.59,1396.63 L251.49,1395.25 L252.38,1393.88 L253.28,1392.52 L254.19,1391.16 L255.09,1389.80 L256.00,1388.45 L256.91,1387.11 L257.83,1385.77 L258.75,1384.45 L259.67,1383.15 L260.59,1381.85 L261.52,1380.58 L262.45,1379.32 L263.39,1378.08 L264.32,1376.85 L265.26,1375.64 L266.21,1374.43 L267.15,1373.24 L268.10,1372.06 L269.06,1370.89 L270.01,1369.72 L270.97,1368.57 L271.93,1367.42 L272.90,1366.27 L273.87,1365.13 L274.84,1363.99 L275.81,1362.86 L276.79,1361.73 L277.77,1360.60 L278.75,1359.48 L279.74,1358.36 L280.73,1357.24 L281.72,1356.13 L282.72,1355.02 L283.72,1353.91 L284.72,1352.80 L285.73,1351.71 L286.74,1350.61 L287.75,1349.52 L288.76,1348.43 L289.78,1347.34 L290.80,1346.26 L291.82,1345.19 L292.85,1344.12 L293.88,1343.05 L294.92,1341.99 L295.95,1340.93 L296.99,1339.87 L298.04,1338.82 L299.08,1337.78 L300.13,1336.74 L301.18,1335.70 L302.24,1334.67 L303.30,1333.64 L304.36,1332.62 L305.42,1331.61 L306.49,1330.60 L307.56,1329.59 L308.63,1328.59 L309.71,1327.60 L310.79,1326.61 L311.87,1325.63 L312.96,1324.65 L314.05,1323.68 L315.14,1322.72 L316.24,1321.76 L317.34,1320.81 L318.44,1319.86 L319.54,1318.92 L320.65,1317.99 L321.76,1317.06 L322.88,1316.14 L324.00,1315.23 L325.12,1314.32 L326.24,1313.43 L327.37,1312.54 L328.50,1311.65 L329.63,1310.78 L330.77,1309.91 L331.90,1309.05 L333.05,1308.20 L334.19,1307.35 L335.34,1306.52 L336.49,1305.69 L337.65,1304.87 L338.80,1304.06 L339.97,1303.26 L341.13,1302.46 L342.30,1301.68 L343.47,1300.91 L344.64,1300.14 L345.82,1299.39 L347.00,1298.64 L348.18,1297.90 L349.37,1297.18 L350.55,1296.46 L351.75,1295.75 L352.94,1295.05 L354.14,1294.36 L355.34,1293.67 L356.55,1292.98 L357.75,1292.30 L358.96,1291.63 L360.18,1290.96 L361.39,1290.30 L362.61,1289.65 L363.84,1289.00 L365.06,1288.36 L366.29,1287.72 L367.53,1287.09 L368.76,1286.46 L370.00,1285.84 L371.24,1285.23 L372.49,1284.62 L373.73,1284.01 L374.98,1283.41 L376.24,1282.82 L377.50,1282.23 L378.76,1281.65 L380.02,1281.07 L381.29,1280.50 L382.56,1279.93 L383.83,1279.37 L385.11,1278.81 L386.38,1278.26 L387.67,1277.72 L388.95,1277.17 L390.24,1276.64 L391.53,1276.11 L392.83,1275.58 L394.12,1275.06 L395.42,1274.54 L396.73,1274.03 L398.04,1273.52 L399.35,1273.02 L400.66,1272.52 L401.98,1272.03 L403.29,1271.54 L404.62,1271.05 L405.94,1270.57 L407.27,1270.10 L408.60,1269.62 L409.94,1269.16 L411.28,1268.69 L412.62,1268.23 L413.96,1267.78 L415.31,1267.33 L416.66,1266.88 L418.01,1266.44 L419.37,1266.00 L420.73,1265.57 L422.09,1265.14 L423.46,1264.71 L424.83,1264.29 L426.20,1263.87 L427.58,1263.45 L428.96,1263.04 L430.34,1262.63 L431.72,1262.22 L433.11,1261.82 L434.50,1261.42 L435.89,1261.02 L437.29,1260.63 L438.69,1260.24 L440.10,1259.85 L441.50,1259.47 L442.91,1259.09 L444.32,1258.71 L445.74,1258.34 L447.16,1257.97 L448.58,1257.60 L450.01,1257.23 L451.43,1256.87 L452.87,1256.52 L454.30,1256.16 L455.74,1255.81 L457.18,1255.46 L458.62,1255.12 L460.07,1254.78 L461.52,1254.44 L462.97,1254.10 L464.43,1253.77 L465.89,1253.45 L467.35,1253.12 L468.82,1252.80 L470.28,1252.48 L471.76,1252.17 L473.23,1251.86 L474.71,1251.55 L476.19,1251.24 L477.67,1250.94 L479.16,1250.64 L480.65,1250.35 L482.15,1250.06 L483.64,1249.77 L485.14,1249.49 L486.64,1249.21 L488.15,1248.93 L489.66,1248.66 L491.17,1248.39 L492.69,1248.12 L494.21,1247.86 L495.73,1247.60 L497.25,1247.34 L498.78,1247.09 L500.31,1246.84 L501.84,1246.59 L503.38,1246.35 L504.92,1246.11 L506.46,1245.87 L508.01,1245.64 L509.56,1245.40 L511.11,1245.17 L512.67,1244.94 L514.23,1244.71 L515.79,1244.48 L517.35,1244.25 L518.92,1244.03 L520.49,1243.81 L522.07,1243.59 L523.65,1243.37 L525.23,1243.16 L526.81,1242.94 L528.40,1242.73 L529.99,1242.52 L531.58,1242.32 L533.18,1242.11 L534.77,1241.91 L536.38,1241.71 L537.98,1241.51 L539.59,1241.32 L541.20,1241.13 L542.82,1240.94 L544.43,1240.75 L546.06,1240.57 L547.68,1240.39 L549.31,1240.21 L550.94,1240.04 L552.57,1239.86 L554.21,1239.69 L555.85,1239.53 L557.49,1239.36 L559.14,1239.20 L560.78,1239.05 L562.44,1238.89 L564.09,1238.74 L565.75,1238.60 L567.41,1238.45 L569.08,1238.31 L570.74,1238.18 L572.41,1238.05 L574.09,1237.92 L575.76,1237.79 L577.44,1237.67 L579.13,1237.55 L580.81,1237.44 L582.50,1237.32 L584.20,1237.21 L585.89,1237.09 L587.59,1236.98 L589.29,1236.87 L591.00,1236.76 L592.70,1236.65 L594.42,1236.55 L596.13,1236.44 L597.85,1236.34 L599.57,1236.23 L601.29,1236.13 L603.02,1236.03 L604.75,1235.93 L606.48,1235.83 L608.22,1235.73 L609.96,1235.63 L611.70,1235.54 L613.44,1235.44 L615.19,1235.35 L616.94,1235.26 L618.70,1235.16 L620.46,1235.07 L622.22,1234.98 L623.98,1234.89 L625.75,1234.81 L627.52,1234.72 L629.29,1234.64 L631.07,1234.55 L632.85,1234.47 L634.63,1234.38 L636.41,1234.30 L638.20,1234.22 L640.00,1234.14 L641.79,1234.06 L643.59,1233.99 L645.39,1233.91 L647.19,1233.84 L649.00,1233.76 L650.81,1233.69 L652.63,1233.61 L654.44,1233.54 L656.26,1233.47 L658.09,1233.40 L659.91,1233.33 L661.74,1233.27 L663.57,1233.20 L665.41,1233.13 L667.25,1233.07 L669.09,1233.00 L670.93,1232.94 L672.78,1232.88 L674.63,1232.82 L676.49,1232.76 L678.34,1232.70 L680.20,1232.64 L682.07,1232.58 L683.93,1232.52 L685.80,1232.47 L687.68,1232.41 L689.55,1232.36 L691.43,1232.31 L693.31,1232.26 L695.20,1232.20 L697.09,1232.15 L698.98,1232.11 L700.87,1232.06 L702.77,1232.01 L704.67,1231.96 L706.57,1231.92 L708.48,1231.87 L710.39,1231.83 L712.30,1231.79 L714.22,1231.74 L716.14,1231.70 L718.06,1231.66 L719.99,1231.62 L721.92,1231.58 L723.85,1231.55 L725.78,1231.51 L727.72,1231.47 L729.66,1231.44 L731.61,1231.41 L733.55,1231.37 L735.50,1231.34 L737.46,1231.30 L739.41,1231.27 L741.37,1231.24 L743.34,1231.21 L745.30,1231.17 L747.27,1231.14 L749.24,1231.11 L751.22,1231.08 L753.20,1231.04 L755.18,1231.01 L757.16,1230.98 L759.15,1230.95 L761.14,1230.92 L763.14,1230.89 L765.13,1230.86 L767.13,1230.83 L769.14,1230.80 L771.14,1230.77 L773.15,1230.74 L775.17,1230.72 L777.18,1230.69 L779.20,1230.66 L781.22,1230.63 L783.25,1230.61 L785.28,1230.58 L787.31,1230.55 L789.34,1230.53 L791.38,1230.50 L793.42,1230.47 L795.46,1230.45 L797.51,1230.42 L799.56,1230.40 L801.61,1230.38 L803.67,1230.35 L805.73,1230.33 L807.79,1230.31 L809.86,1230.28 L811.92,1230.26 L814.00,1230.24 L816.07,1230.22 L818.15,1230.20 L820.23,1230.18 L822.31,1230.16 L824.40,1230.14 L826.49,1230.12 L828.58,1230.10 L830.68,1230.09 L832.78,1230.07 L834.88,1230.05 L836.99,1230.04 L839.10,1230.02 L841.21,1230.01 L843.33,1229.99 L845.44,1229.98 L847.57,1229.97 L849.69,1229.95 L851.82,1229.94 L853.95,1229.93 L856.08,1229.92 L858.22,1229.91 L860.36,1229.90 L862.50,1229.89 L864.65,1229.88 L866.80,1229.87 L868.95,1229.87 L871.11,1229.86 L873.26,1229.85 L875.43,1229.85 L877.59,1229.84 L879.76,1229.84 L881.93,1229.84 L881.93,1480.93 L879.76,1480.93 L877.59,1480.93 L875.43,1480.93 L873.26,1480.93 L871.11,1480.93 L868.95,1480.93 L866.80,1480.93 L864.65,1480.93 L862.50,1480.93 L860.36,1480.92 L858.22,1480.92 L856.08,1480.92 L853.95,1480.91 L851.82,1480.91 L849.69,1480.90 L847.57,1480.89 L845.44,1480.89 L843.33,1480.88 L841.21,1480.87 L839.10,1480.87 L836.99,1480.86 L834.88,1480.85 L832.78,1480.84 L830.68,1480.83 L828.58,1480.82 L826.49,1480.81 L824.40,1480.80 L822.31,1480.79 L820.23,1480.78 L818.15,1480.77 L816.07,1480.76 L814.00,1480.75 L811.92,1480.74 L809.86,1480.72 L807.79,1480.71 L805.73,1480.70 L803.67,1480.69 L801.61,1480.67 L799.56,1480.66 L797.51,1480.65 L795.46,1480.63 L793.42,1480.62 L791.38,1480.61 L789.34,1480.59 L787.31,1480.58 L785.28,1480.56 L783.25,1480.55 L781.22,1480.54 L779.20,1480.52 L777.18,1480.51 L775.17,1480.49 L773.15,1480.48 L771.14,1480.46 L769.14,1480.45 L767.13,1480.44 L765.13,1480.42 L763.14,1480.41 L761.14,1480.39 L759.15,1480.38 L757.16,1480.36 L755.18,1480.35 L753.20,1480.34 L751.22,1480.32 L749.24,1480.31 L747.27,1480.30 L745.30,1480.28 L743.34,1480.27 L741.37,1480.25 L739.41,1480.24 L737.46,1480.23 L735.50,1480.22 L733.55,1480.20 L731.61,1480.19 L729.66,1480.18 L727.72,1480.17 L725.78,1480.15 L723.85,1480.14 L721.92,1480.13 L719.99,1480.11 L718.06,1480.10 L716.14,1480.08 L714.22,1480.07 L712.30,1480.05 L710.39,1480.03 L708.48,1480.02 L706.57,1480.00 L704.67,1479.98 L702.77,1479.96 L700.87,1479.95 L698.98,1479.93 L697.09,1479.91 L695.20,1479.89 L693.31,1479.87 L691.43,1479.85 L689.55,1479.83 L687.68,1479.81 L685.80,1479.79 L683.93,1479.77 L682.07,1479.75 L680.20,1479.72 L678.34,1479.70 L676.49,1479.68 L674.63,1479.66 L672.78,1479.63 L670.93,1479.61 L669.09,1479.59 L667.25,1479.56 L665.41,1479.54 L663.57,1479.52 L661.74,1479.49 L659.91,1479.47 L658.09,1479.45 L656.26,1479.42 L654.44,1479.40 L652.63,1479.37 L650.81,1479.35 L649.00,1479.32 L647.19,1479.30 L645.39,1479.27 L643.59,1479.25 L641.79,1479.22 L640.00,1479.20 L638.20,1479.17 L636.41,1479.15 L634.63,1479.12 L632.85,1479.10 L631.07,1479.07 L629.29,1479.05 L627.52,1479.02 L625.75,1479.00 L623.98,1478.97 L622.22,1478.95 L620.46,1478.92 L618.70,1478.90 L616.94,1478.87 L615.19,1478.85 L613.44,1478.82 L611.70,1478.80 L609.96,1478.77 L608.22,1478.75 L606.48,1478.72 L604.75,1478.70 L603.02,1478.68 L601.29,1478.65 L599.57,1478.63 L597.85,1478.61 L596.13,1478.58 L594.42,1478.56 L592.70,1478.54 L591.00,1478.52 L589.29,1478.49 L587.59,1478.47 L585.89,1478.45 L584.20,1478.43 L582.50,1478.41 L580.81,1478.39 L579.13,1478.37 L577.44,1478.35 L575.76,1478.33 L574.09,1478.31 L572.41,1478.28 L570.74,1478.25 L569.08,1478.22 L567.41,1478.19 L565.75,1478.16 L564.09,1478.13 L562.44,1478.09 L560.78,1478.05 L559.14,1478.01 L557.49,1477.97 L555.85,1477.93 L554.21,1477.89 L552.57,1477.84 L550.94,1477.80 L549.31,1477.75 L547.68,1477.71 L546.06,1477.66 L544.43,1477.61 L542.82,1477.56 L541.20,1477.51 L539.59,1477.46 L537.98,1477.41 L536.38,1477.36 L534.77,1477.31 L533.18,1477.26 L531.58,1477.21 L529.99,1477.16 L528.40,1477.11 L526.81,1477.06 L525.23,1477.01 L523.65,1476.96 L522.07,1476.91 L520.49,1476.86 L518.92,1476.81 L517.35,1476.76 L515.79,1476.71 L514.23,1476.67 L512.67,1476.62 L511.11,1476.58 L509.56,1476.53 L508.01,1476.49 L506.46,1476.45 L504.92,1476.41 L503.38,1476.37 L501.84,1476.33 L500.31,1476.29 L498.78,1476.25 L497.25,1476.21 L495.73,1476.17 L494.21,1476.13 L492.69,1476.09 L491.17,1476.05 L489.66,1476.01 L488.15,1475.97 L486.64,1475.92 L485.14,1475.88 L483.64,1475.84 L482.15,1475.80 L480.65,1475.76 L479.16,1475.71 L477.67,1475.67 L476.19,1475.63 L474.71,1475.59 L473.23,1475.55 L471.76,1475.51 L470.28,1475.47 L468.82,1475.43 L467.35,1475.39 L465.89,1475.35 L464.43,1475.31 L462.97,1475.28 L461.52,1475.24 L460.07,1475.20 L458.62,1475.17 L457.18,1475.13 L455.74,1475.10 L454.30,1475.07 L452.87,1475.04 L451.43,1475.01 L450.01,1474.98 L448.58,1474.95 L447.16,1474.92 L445.74,1474.90 L444.32,1474.87 L442.91,1474.85 L441.50,1474.83 L440.10,1474.81 L438.69,1474.79 L437.29,1474.77 L435.89,1474.76 L434.50,1474.74 L433.11,1474.73 L431.72,1474.72 L430.34,1474.71 L428.96,1474.71 L427.58,1474.70 L426.20,1474.70 L424.83,1474.70 L423.46,1474.70 L422.09,1474.70 L420.73,1474.70 L419.37,1474.71 L418.01,1474.72 L416.66,1474.72 L415.31,1474.73 L413.96,1474.74 L412.62,1474.76 L411.28,1474.77 L409.94,1474.79 L408.60,1474.80 L407.27,1474.82 L405.94,1474.84 L404.62,1474.87 L403.29,1474.89 L401.98,1474.91 L400.66,1474.94 L399.35,1474.97 L398.04,1475.00 L396.73,1475.03 L395.42,1475.07 L394.12,1475.10 L392.83,1475.14 L391.53,1475.18 L390.24,1475.22 L388.95,1475.26 L387.67,1475.30 L386.38,1475.35 L385.11,1475.40 L383.83,1475.45 L382.56,1475.50 L381.29,1475.55 L380.02,1475.61 L378.76,1475.66 L377.50,1475.72 L376.24,1475.78 L374.98,1475.85 L373.73,1475.91 L372.49,1475.98 L371.24,1476.05 L370.00,1476.12 L368.76,1476.19 L367.53,1476.26 L366.29,1476.34 L365.06,1476.42 L363.84,1476.50 L362.61,1476.59 L361.39,1476.67 L360.18,1476.76 L358.96,1476.85 L357.75,1476.94 L356.55,1477.04 L355.34,1477.13 L354.14,1477.23 L352.94,1477.33 L351.75,1477.44 L350.55,1477.54 L349.37,1477.65 L348.18,1477.76 L347.00,1477.86 L345.82,1477.96 L344.64,1478.05 L343.47,1478.15 L342.30,1478.24 L341.13,1478.34 L339.97,1478.43 L338.80,1478.52 L337.65,1478.61 L336.49,1478.71 L335.34,1478.80 L334.19,1478.89 L333.05,1478.99 L331.90,1479.08 L330.77,1479.18 L329.63,1479.28 L328.50,1479.38 L327.37,1479.48 L326.24,1479.58 L325.12,1479.69 L324.00,1479.80 L322.88,1479.92 L321.76,1480.03 L320.65,1480.15 L319.54,1480.28 L318.44,1480.41 L317.34,1480.54 L316.24,1480.68 L315.14,1480.82 L314.05,1480.97 L312.96,1481.12 L311.87,1481.28 L310.79,1481.44 L309.71,1481.61 L308.63,1481.78 L307.56,1481.96 L306.49,1482.15 L305.42,1482.34 L304.36,1482.54 L303.30,1482.75 L302.24,1482.96 L301.18,1483.18 L300.13,1483.41 L299.08,1483.65 L298.04,1483.89 L296.99,1484.14 L295.95,1484.40 L294.92,1484.66 L293.88,1484.94 L292.85,1485.22 L291.82,1485.52 L290.80,1485.82 L289.78,1486.13 L288.76,1486.44 L287.75,1486.77 L286.74,1487.10 L285.73,1487.43 L284.72,1487.78 L283.72,1488.13 L282.72,1488.48 L281.72,1488.84 L280.73,1489.21 L279.74,1489.58 L278.75,1489.95 L277.77,1490.33 L276.79,1490.72 L275.81,1491.11 L274.84,1491.50 L273.87,1491.90 L272.90,1492.30 L271.93,1492.71 L270.97,1493.12 L270.01,1493.54 L269.06,1493.96 L268.10,1494.38 L267.15,1494.81 L266.21,1495.24 L265.26,1495.68 L264.32,1496.12 L263.39,1496.57 L262.45,1497.02 L261.52,1497.48 L260.59,1497.94 L259.67,1498.40 L258.75,1498.87 L257.83,1499.35 L256.91,1499.83 L256.00,1500.31 L255.09,1500.80 L254.19,1501.29 L253.28,1501.79 L252.38,1502.29 L251.49,1502.79 L250.59,1503.30 L249.70,1503.81 L248.81,1504.33 L247.93,1504.85 L247.05,1505.38 L246.17,1505.92 L245.30,1506.46 L244.42,1507.01 L243.56,1507.57 L242.69,1508.14 L241.83,1508.71 L240.97,1509.30 L240.11,1509.89 L239.26,1510.48 L238.41,1511.08 L237.56,1511.69 L236.72,1512.31 L235.88,1512.93 L235.04,1513.55 L234.20,1514.19 L233.37,1514.83 L232.54,1515.48 L231.72,1516.14 L230.90,1516.80 L230.08,1517.47 L229.26,1518.15 L228.45,1518.84 L227.64,1519.54 L226.83,1520.24 L226.03,1520.95 L225.23,1521.67 L224.43,1522.40 L223.64,1523.14 L222.85,1523.89 L222.06,1524.64 L221.27,1525.40 L220.49,1526.17 L219.71,1526.95 L218.94,1527.73 L218.17,1528.52 L217.40,1529.31 L216.63,1530.11 L215.87,1530.92 L215.11,1531.73 L214.35,1532.55 L213.60,1533.38 L212.85,1534.21 L212.10,1535.04 L211.35,1535.88 L210.61,1536.73 L209.87,1537.58 L209.14,1538.43 L208.41,1539.29 L207.68,1540.15 L206.95,1541.02 L206.23,1541.89 L205.51,1542.77 L204.79,1543.66 L204.08,1544.55 L203.37,1545.44 L202.66,1546.35 L201.96,1547.26 L201.26,1548.17 L200.56,1549.09 L199.87,1550.02 L199.17,1550.96 L198.49,1551.90 L197.80,1552.85 L197.12,1553.81 L196.44,1554.77 L195.76,1555.74 L195.09,1556.71 L194.42,1557.69 L193.75,1558.68 L193.09,1559.67 L192.43,1560.67 L191.77,1561.67 L191.12,1562.68 L190.47,1563.69 L189.82,1564.71 L189.17,1565.74 L188.53,1566.78 L187.89,1567.82 L187.26,1568.86 L186.62,1569.91 L185.99,1570.96 L185.37,1572.02 L184.75,1573.07 L184.13,1574.13 L183.51,1575.19 L182.89,1576.25 L182.28,1577.30 L181.68,1578.36 L181.07,1579.42 L180.47,1580.48 L179.87,1581.54 L179.28,1582.60 L178.68,1583.67 L178.10,1584.75 L177.51,1585.83 L176.93,1586.91 L176.35,1588.01 L175.77,1589.11 L175.20,1590.22 L174.63,1591.33 L174.06,1592.48 L173.49,1593.66 L172.93,1594.86 L172.38,1596.06 L171.82,1597.28 L171.27,1598.50 L170.72,1599.73 L170.18,1600.97 L169.63,1602.21 L169.09,1603.46 L168.56,1604.72 L168.02,1605.97 L167.49,1607.24 L166.97,1608.50 L166.44,1609.77 L165.92,1611.04 L165.41,1612.31 L164.89,1613.58 L164.38,1614.86 L163.87,1616.13 L163.37,1617.40 L162.86,1618.67 L162.37,1619.94 L161.87,1621.21 L161.38,1622.48 L160.89,1623.74 L160.40,1625.00 L159.92,1626.26 L159.44,1627.51 L158.96,1628.75 L158.49,1630.00 L158.02,1631.24 L157.55,1632.47 L157.08,1633.70 L156.62,1634.93 L156.16,1636.16 L155.71,1637.38 L155.26,1638.61 L154.81,1639.82 L154.36,1641.04 L153.92,1642.25 L153.48,1643.46 L153.04,1644.67 L152.61,1645.88 L152.18,1647.08 L151.75,1648.28 L151.33,1649.48 L150.90,1650.68 L150.49,1651.88 L150.07,1653.07 L149.66,1654.26 L149.25,1655.45 L148.84,1656.64 L148.44,1657.83 L148.04,1659.01 L147.65,1660.20 L147.25,1661.38 L146.86,1662.55 L146.48,1663.73 L146.09,1664.91 L145.71,1666.08 L145.33,1667.25 L144.96,1668.42 L144.59,1669.58 L144.22,1670.74 L143.85,1671.90 L143.49,1673.05 L143.13,1674.20 L142.78,1675.34 L142.42,1676.48 L142.08,1677.61 L141.73,1678.74 L141.38,1679.86 L141.04,1680.98 L140.71,1682.10 L140.37,1683.21 L140.04,1684.31 L139.71,1685.41 L139.39,1686.50 L139.07,1687.59 L138.75,1688.67 L138.43,1689.75 L138.12,1690.82 L137.81,1691.89 L137.51,1692.95 L137.20,1694.01 L136.90,1695.06 L136.61,1696.11 L136.31,1697.15 L136.02,1698.18 L135.73,1699.22 L135.45,1700.24 L135.17,1701.27 L134.89,1702.28 L134.62,1703.30 L134.34,1704.31 L134.07,1705.31 L133.81,1706.32 L133.55,1707.32 L133.29,1708.31 L133.03,1709.31 L132.78,1710.30 L132.53,1711.28 L132.28,1712.27 L132.04,1713.25 L131.79,1714.23 L131.56,1715.21 L131.32,1716.19 L131.09,1717.17 L130.86,1718.14 L130.64,1719.12 L130.41,1720.10 L130.20,1721.07 L129.98,1722.05 L129.77,1723.03 L129.56,1724.00 L129.35,1724.98 L129.15,1725.96 L128.95,1726.94 L128.75,1727.93 L128.55,1728.91 L128.36,1729.90 L128.17,1730.88 L127.99,1731.87 L127.81,1732.87 L127.63,1733.86 L127.45,1734.85 L127.28,1735.85 L127.11,1736.85 L126.95,1737.85 L126.78,1738.85 L126.62,1739.86 L126.47,1740.86 L126.31,1741.87 L126.16,1742.87 L126.01,1743.87 L125.87,1744.88 L125.73,1745.88 L125.59,1746.88 L125.45,1747.88 L125.32,1748.88 L125.19,1749.87 L125.07,1750.85 L124.94,1751.84 L124.82,1752.81 L124.71,1753.78 L124.59,1754.74 L124.48,1755.70 L124.38,1756.64 L124.27,1757.57 L124.17,1758.49 L124.07,1759.40 L123.98,1760.30 L123.89,1761.18 L123.80,1762.04 L123.71,1762.89 L123.63,1763.72 L123.55,1764.53 L123.48,1765.32 L123.40,1766.08 L123.33,1766.83 L123.27,1767.55 L123.20,1768.24 L123.14,1768.91 L123.08,1769.56 L123.03,1770.17 L122.98,1770.76 L122.93,1771.31 L122.88,1771.83 L122.84,1772.33 L122.80,1772.79 L122.77,1773.21 L122.74,1773.60 L122.71,1773.96 L122.68,1774.28 L122.66,1774.56 L122.64,1774.81 L122.62,1775.02 L122.60,1775.19 L122.59,1775.33 L122.59,1775.42 L122.58,1775.48 L122.58,1775.50 Z" fill="#F8766D" fill-opacity="0.2" stroke="none"/>
<path d="M122.58,1775.50 L122.58,1775.48 L122.59,1775.41 L122.59,1775.31 L122.60,1775.15 L122.62,1774.96 L122.64,1774.72 L122.66,1774.45 L122.68,1774.13 L122.71,1773.77 L122.74,1773.37 L122.77,1772.93 L122.80,1772.45 L122.84,1771.93 L122.88,1771.38 L122.93,1770.79 L122.98,1770.17 L123.03,1769.51 L123.08,1768.82 L123.14,1768.10 L123.20,1767.35 L123.27,1766.56 L123.33,1765.76 L123.40,1764.92 L123.48,1764.06 L123.55,1763.17 L123.63,1762.27 L123.71,1761.34 L123.80,1760.39 L123.89,1759.42 L123.98,1758.44 L124.07,1757.44 L124.17,1756.42 L124.27,1755.40 L124.38,1754.36 L124.48,1753.31 L124.59,1752.25 L124.71,1751.18 L124.82,1750.11 L124.94,1749.03 L125.07,1747.94 L125.19,1746.86 L125.32,1745.77 L125.45,1744.68 L125.59,1743.59 L125.73,1742.50 L125.87,1741.41 L126.01,1740.32 L126.16,1739.23 L126.31,1738.15 L126.47,1737.08 L126.62,1736.00 L126.78,1734.94 L126.95,1733.88 L127.11,1732.82 L127.28,1731.77 L127.45,1730.73 L127.63,1729.69 L127.81,1728.66 L127.99,1727.64 L128.17,1726.63 L128.36,1725.62 L128.55,1724.62 L128.75,1723.63 L128.95,1722.64 L129.15,1721.67 L129.35,1720.69 L129.56,1719.73 L129.77,1718.77 L129.98,1717.82 L130.20,1716.87 L130.41,1715.93 L130.64,1714.99 L130.86,1714.06 L131.09,1713.13 L131.32,1712.21 L131.56,1711.29 L131.79,1710.37 L132.04,1709.46 L132.28,1708.54 L132.53,1707.63 L132.78,1706.73 L133.03,1705.82 L133.29,1704.91 L133.55,1704.01 L133.81,1703.10 L134.07,1702.19 L134.34,1701.29 L134.62,1700.38 L134.89,1699.47 L135.17,1698.56 L135.45,1697.65 L135.73,1696.73 L136.02,1695.82 L136.31,1694.90 L136.61,1693.97 L136.90,1693.05 L137.20,1692.12 L137.51,1691.18 L137.81,1690.25 L138.12,1689.31 L138.43,1688.37 L138.75,1687.43 L139.07,1686.49 L139.39,1685.54 L139.71,1684.59 L140.04,1683.64 L140.37,1682.69 L140.71,1681.74 L141.04,1680.79 L141.38,1679.84 L141.73,1678.88 L142.08,1677.93 L142.42,1676.98 L142.78,1676.03 L143.13,1675.09 L143.49,1674.14 L143.85,1673.20 L144.22,1672.26 L144.59,1671.32 L144.96,1670.39 L145.33,1669.47 L145.71,1668.57 L146.09,1667.69 L146.48,1666.81 L146.86,1665.94 L147.25,1665.06 L147.65,1664.19 L148.04,1663.32 L148.44,1662.46 L148.84,1661.59 L149.25,1660.72 L149.66,1659.86 L150.07,1659.00 L150.49,1658.13 L150.90,1657.27 L151.33,1656.41 L151.75,1655.54 L152.18,1654.67 L152.61,1653.81 L153.04,1652.94 L153.48,1652.06 L153.92,1651.19 L154.36,1650.31 L154.81,1649.43 L155.26,1648.54 L155.71,1647.64 L156.16,1646.75 L156.62,1645.85 L157.08,1644.94 L157.55,1644.04 L158.02,1643.13 L158.49,1642.22 L158.96,1641.31 L159.44,1640.40 L159.92,1639.48 L160.40,1638.57 L160.89,1637.66 L161.38,1636.75 L161.87,1635.84 L162.37,1634.93 L162.86,1634.02 L163.37,1633.12 L163.87,1632.22 L164.38,1631.32 L164.89,1630.43 L165.41,1629.54 L165.92,1628.65 L166.44,1627.76 L166.97,1626.88 L167.49,1625.99 L168.02,1625.11 L168.56,1624.23 L169.09,1623.35 L169.63,1622.48 L170.18,1621.60 L170.72,1620.73 L171.27,1619.85 L171.82,1618.98 L172.38,1618.11 L172.93,1617.23 L173.49,1616.36 L174.06,1615.49 L174.63,1614.62 L175.20,1613.75 L175.77,1612.88 L176.35,1612.01 L176.93,1611.14 L177.51,1610.28 L178.10,1609.41 L178.68,1608.55 L179.28,1607.69 L179.87,1606.84 L180.47,1605.98 L181.07,1605.13 L181.68,1604.28 L182.28,1603.44 L182.89,1602.59 L183.51,1601.76 L184.13,1600.92 L184.75,1600.08 L185.37,1599.25 L185.99,1598.42 L186.62,1597.59 L187.26,1596.77 L187.89,1595.94 L188.53,1595.12 L189.17,1594.29 L189.82,1593.47 L190.47,1592.64 L191.12,1591.82 L191.77,1591.00 L192.43,1590.17 L193.09,1589.35 L193.75,1588.53 L194.42,1587.71 L195.09,1586.89 L195.76,1586.07 L196.44,1585.26 L197.12,1584.44 L197.80,1583.63 L198.49,1582.82 L199.17,1582.01 L199.87,1581.19 L200.56,1580.38 L201.26,1579.56 L201.96,1578.75 L202.66,1577.93 L203.37,1577.12 L204.08,1576.31 L204.79,1575.51 L205.51,1574.71 L206.23,1573.93 L206.95,1573.15 L207.68,1572.39 L208.41,1571.63 L209.14,1570.87 L209.87,1570.11 L210.61,1569.36 L211.35,1568.61 L212.10,1567.86 L212.85,1567.12 L213.60,1566.38 L214.35,1565.65 L215.11,1564.92 L215.87,1564.20 L216.63,1563.48 L217.40,1562.76 L218.17,1562.05 L218.94,1561.35 L219.71,1560.65 L220.49,1559.96 L221.27,1559.28 L222.06,1558.60 L222.85,1557.93 L223.64,1557.27 L224.43,1556.62 L225.23,1555.98 L226.03,1555.34 L226.83,1554.72 L227.64,1554.10 L228.45,1553.49 L229.26,1552.90 L230.08,1552.31 L230.90,1551.72 L231.72,1551.15 L232.54,1550.57 L233.37,1550.01 L234.20,1549.45 L235.04,1548.89 L235.88,1548.34 L236.72,1547.80 L237.56,1547.26 L238.41,1546.73 L239.26,1546.20 L240.11,1545.69 L240.97,1545.17 L241.83,1544.67 L242.69,1544.17 L243.56,1543.68 L244.42,1543.19 L245.30,1542.71 L246.17,1542.24 L247.05,1541.77 L247.93,1541.32 L248.81,1540.87 L249.70,1540.42 L250.59,1539.98 L251.49,1539.55 L252.38,1539.13 L253.28,1538.71 L254.19,1538.30 L255.09,1537.89 L256.00,1537.48 L256.91,1537.08 L257.83,1536.69 L258.75,1536.30 L259.67,1535.91 L260.59,1535.54 L261.52,1535.16 L262.45,1534.79 L263.39,1534.43 L264.32,1534.07 L265.26,1533.72 L266.21,1533.38 L267.15,1533.04 L268.10,1532.71 L269.06,1532.38 L270.01,1532.06 L270.97,1531.75 L271.93,1531.44 L272.90,1531.14 L273.87,1530.85 L274.84,1530.56 L275.81,1530.28 L276.79,1530.00 L277.77,1529.72 L278.75,1529.44 L279.74,1529.17 L280.73,1528.90 L281.72,1528.63 L282.72,1528.36 L283.72,1528.10 L284.72,1527.84 L285.73,1527.58 L286.74,1527.32 L287.75,1527.07 L288.76,1526.82 L289.78,1526.57 L290.80,1526.32 L291.82,1526.07 L292.85,1525.83 L293.88,1525.59 L294.92,1525.35 L295.95,1525.12 L296.99,1524.88 L298.04,1524.65 L299.08,1524.43 L300.13,1524.20 L301.18,1523.98 L302.24,1523.76 L303.30,1523.54 L304.36,1523.32 L305.42,1523.11 L306.49,1522.90 L307.56,1522.69 L308.63,1522.48 L309.71,1522.28 L310.79,1522.08 L311.87,1521.88 L312.96,1521.68 L314.05,1521.49 L315.14,1521.30 L316.24,1521.11 L317.34,1520.93 L318.44,1520.74 L319.54,1520.56 L320.65,1520.39 L321.76,1520.21 L322.88,1520.04 L324.00,1519.87 L325.12,1519.70 L326.24,1519.54 L327.37,1519.38 L328.50,1519.22 L329.63,1519.07 L330.77,1518.92 L331.90,1518.77 L333.05,1518.62 L334.19,1518.48 L335.34,1518.34 L336.49,1518.20 L337.65,1518.07 L338.80,1517.94 L339.97,1517.81 L341.13,1517.69 L342.30,1517.56 L343.47,1517.45 L344.64,1517.33 L345.82,1517.22 L347.00,1517.11 L348.18,1517.01 L349.37,1516.91 L350.55,1516.81 L351.75,1516.72 L352.94,1516.62 L354.14,1516.53 L355.34,1516.44 L356.55,1516.34 L357.75,1516.25 L358.96,1516.17 L360.18,1516.08 L361.39,1515.99 L362.61,1515.90 L363.84,1515.82 L365.06,1515.74 L366.29,1515.65 L367.53,1515.57 L368.76,1515.49 L370.00,1515.41 L371.24,1515.33 L372.49,1515.26 L373.73,1515.18 L374.98,1515.11 L376.24,1515.03 L377.50,1514.96 L378.76,1514.89 L380.02,1514.82 L381.29,1514.75 L382.56,1514.68 L383.83,1514.62 L385.11,1514.55 L386.38,1514.49 L387.67,1514.42 L388.95,1514.36 L390.24,1514.30 L391.53,1514.24 L392.83,1514.18 L394.12,1514.13 L395.42,1514.07 L396.73,1514.02 L398.04,1513.96 L399.35,1513.91 L400.66,1513.86 L401.98,1513.81 L403.29,1513.76 L404.62,1513.72 L405.94,1513.67 L407.27,1513.63 L408.60,1513.59 L409.94,1513.55 L411.28,1513.51 L412.62,1513.47 L413.96,1513.43 L415.31,1513.40 L416.66,1513.36 L418.01,1513.33 L419.37,1513.30 L420.73,1513.27 L422.09,1513.24 L423.46,1513.22 L424.83,1513.19 L426.20,1513.17 L427.58,1513.15 L428.96,1513.13 L430.34,1513.11 L431.72,1513.09 L433.11,1513.07 L434.50,1513.05 L435.89,1513.03 L437.29,1513.02 L438.69,1513.00 L440.10,1512.98 L441.50,1512.96 L442.91,1512.95 L444.32,1512.93 L445.74,1512.92 L447.16,1512.90 L448.58,1512.89 L450.01,1512.87 L451.43,1512.86 L452.87,1512.85 L454.30,1512.83 L455.74,1512.82 L457.18,1512.81 L458.62,1512.80 L460.07,1512.78 L461.52,1512.77 L462.97,1512.76 L464.43,1512.75 L465.89,1512.74 L467.35,1512.73 L468.82,1512.72 L470.28,1512.71 L471.76,1512.70 L473.23,1512.69 L474.71,1512.68 L476.19,1512.67 L477.67,1512.66 L479.16,1512.65 L480.65,1512.64 L482.15,1512.63 L483.64,1512.62 L485.14,1512.61 L486.64,1512.60 L488.15,1512.60 L489.66,1512.59 L491.17,1512.58 L492.69,1512.57 L494.21,1512.56 L495.73,1512.55 L497.25,1512.54 L498.78,1512.53 L500.31,1512.53 L501.84,1512.52 L503.38,1512.51 L504.92,1512.50 L506.46,1512.49 L508.01,1512.48 L509.56,1512.47 L511.11,1512.46 L512.67,1512.45 L514.23,1512.45 L515.79,1512.44 L517.35,1512.43 L518.92,1512.42 L520.49,1512.41 L522.07,1512.40 L523.65,1512.39 L525.23,1512.39 L526.81,1512.38 L528.40,1512.37 L529.99,1512.36 L531.58,1512.35 L533.18,1512.35 L534.77,1512.34 L536.38,1512.33 L537.98,1512.32 L539.59,1512.32 L541.20,1512.31 L542.82,1512.30 L544.43,1512.29 L546.06,1512.29 L547.68,1512.28 L549.31,1512.27 L550.94,1512.26 L552.57,1512.26 L554.21,1512.25 L555.85,1512.24 L557.49,1512.24 L559.14,1512.23 L560.78,1512.22 L562.44,1512.22 L564.09,1512.21 L565.75,1512.21 L567.41,1512.20 L569.08,1512.19 L570.74,1512.19 L572.41,1512.18 L574.09,1512.18 L575.76,1512.17 L577.44,1512.17 L579.13,1512.16 L580.81,1512.15 L582.50,1512.15 L584.20,1512.14 L585.89,1512.14 L587.59,1512.13 L589.29,1512.13 L591.00,1512.12 L592.70,1512.12 L594.42,1512.11 L596.13,1512.11 L597.85,1512.10 L599.57,1512.10 L601.29,1512.09 L603.02,1512.09 L604.75,1512.08 L606.48,1512.08 L608.22,1512.07 L609.96,1512.07 L611.70,1512.06 L613.44,1512.06 L615.19,1512.05 L616.94,1512.05 L618.70,1512.04 L620.46,1512.04 L622.22,1512.03 L623.98,1512.03 L625.75,1512.02 L627.52,1512.02 L629.29,1512.01 L631.07,1512.01 L632.85,1512.00 L634.63,1512.00 L636.41,1511.99 L638.20,1511.99 L640.00,1511.98 L641.79,1511.98 L643.59,1511.97 L645.39,1511.97 L647.19,1511.97 L649.00,1511.96 L650.81,1511.96 L652.63,1511.95 L654.44,1511.95 L656.26,1511.94 L658.09,1511.94 L659.91,1511.93 L661.74,1511.93 L663.57,1511.92 L665.41,1511.92 L667.25,1511.91 L669.09,1511.91 L670.93,1511.90 L672.78,1511.90 L674.63,1511.89 L676.49,1511.89 L678.34,1511.88 L680.20,1511.88 L682.07,1511.88 L683.93,1511.87 L685.80,1511.87 L687.68,1511.86 L689.55,1511.86 L691.43,1511.85 L693.31,1511.85 L695.20,1511.84 L697.09,1511.84 L698.98,1511.83 L700.87,1511.83 L702.77,1511.83 L704.67,1511.82 L706.57,1511.82 L708.48,1511.81 L710.39,1511.81 L712.30,1511.80 L714.22,1511.80 L716.14,1511.80 L718.06,1511.79 L719.99,1511.79 L721.92,1511.78 L723.85,1511.78 L725.78,1511.77 L727.72,1511.77 L729.66,1511.77 L731.61,1511.76 L733.55,1511.76 L735.50,1511.75 L737.46,1511.75 L739.41,1511.75 L741.37,1511.74 L743.34,1511.74 L745.30,1511.73 L747.27,1511.73 L749.24,1511.73 L751.22,1511.72 L753.20,1511.72 L755.18,1511.71 L757.16,1511.71 L759.15,1511.71 L761.14,1511.70 L763.14,1511.70 L765.13,1511.70 L767.13,1511.69 L769.14,1511.69 L771.14,1511.68 L773.15,1511.68 L775.17,1511.68 L777.18,1511.67 L779.20,1511.67 L781.22,1511.67 L783.25,1511.66 L785.28,1511.66 L787.31,1511.66 L789.34,1511.65 L791.38,1511.65 L793.42,1511.65 L795.46,1511.65 L797.51,1511.64 L799.56,1511.64 L801.61,1511.64 L803.67,1511.63 L805.73,1511.63 L807.79,1511.63 L809.86,1511.62 L811.92,1511.62 L814.00,1511.62 L816.07,1511.62 L818.15,1511.61 L820.23,1511.61 L822.31,1511.61 L824.40,1511.61 L826.49,1511.60 L828.58,1511.60 L830.68,1511.60 L832.78,1511.60 L834.88,1511.59 L836.99,1511.59 L839.10,1511.59 L841.21,1511.59 L843.33,1511.59 L845.44,1511.58 L847.57,1511.58 L849.69,1511.58 L851.82,1511.58 L853.95,1511.58 L856.08,1511.58 L858.22,1511.57 L860.36,1511.57 L862.50,1511.57 L864.65,1511.57 L866.80,1511.57 L868.95,1511.57 L871.11,1511.57 L873.26,1511.56 L875.43,1511.56 L877.59,1511.56 L879.76,1511.56 L881.93,1511.56 L881.93,1664.05 L879.76,1664.05 L877.59,1664.05 L875.43,1664.05 L873.26,1664.05 L871.11,1664.05 L868.95,1664.05 L866.80,1664.04 L864.65,1664.04 L862.50,1664.04 L860.36,1664.04 L858.22,1664.04 L856.08,1664.04 L853.95,1664.03 L851.82,1664.03 L849.69,1664.03 L847.57,1664.03 L845.44,1664.03 L843.33,1664.03 L841.21,1664.02 L839.10,1664.02 L836.99,1664.02 L834.88,1664.02 L832.78,1664.02 L830.68,1664.01 L828.58,1664.01 L826.49,1664.01 L824.40,1664.01 L822.31,1664.00 L820.23,1664.00 L818.15,1664.00 L816.07,1664.00 L814.00,1663.99 L811.92,1663.99 L809.86,1663.99 L807.79,1663.99 L805.73,1663.98 L803.67,1663.98 L801.61,1663.98 L799.56,1663.97 L797.51,1663.97 L795.46,1663.97 L793.42,1663.96 L791.38,1663.96 L789.34,1663.96 L787.31,1663.96 L785.28,1663.95 L783.25,1663.95 L781.22,1663.95 L779.20,1663.94 L777.18,1663.94 L775.17,1663.94 L773.15,1663.93 L771.14,1663.93 L769.14,1663.92 L767.13,1663.92 L765.13,1663.92 L763.14,1663.91 L761.14,1663.91 L759.15,1663.91 L757.16,1663.90 L755.18,1663.90 L753.20,1663.90 L751.22,1663.89 L749.24,1663.89 L747.27,1663.88 L745.30,1663.88 L743.34,1663.88 L741.37,1663.87 L739.41,1663.87 L737.46,1663.86 L735.50,1663.86 L733.55,1663.86 L731.61,1663.85 L729.66,1663.85 L727.72,1663.84 L725.78,1663.84 L723.85,1663.84 L721.92,1663.83 L719.99,1663.83 L718.06,1663.82 L716.14,1663.82 L714.22,1663.82 L712.30,1663.81 L710.39,1663.81 L708.48,1663.80 L706.57,1663.80 L704.67,1663.79 L702.77,1663.79 L700.87,1663.79 L698.98,1663.78 L697.09,1663.78 L695.20,1663.77 L693.31,1663.77 L691.43,1663.76 L689.55,1663.76 L687.68,1663.75 L685.80,1663.75 L683.93,1663.75 L682.07,1663.74 L680.20,1663.74 L678.34,1663.73 L676.49,1663.73 L674.63,1663.72 L672.78,1663.72 L670.93,1663.71 L669.09,1663.71 L667.25,1663.71 L665.41,1663.70 L663.57,1663.70 L661.74,1663.69 L659.91,1663.69 L658.09,1663.68 L656.26,1663.68 L654.44,1663.67 L652.63,1663.67 L650.81,1663.66 L649.00,1663.66 L647.19,1663.66 L645.39,1663.65 L643.59,1663.65 L641.79,1663.64 L640.00,1663.64 L638.20,1663.63 L636.41,1663.63 L634.63,1663.62 L632.85,1663.62 L631.07,1663.61 L629.29,1663.61 L627.52,1663.61 L625.75,1663.60 L623.98,1663.60 L622.22,1663.59 L620.46,1663.59 L618.70,1663.58 L616.94,1663.58 L615.19,1663.57 L613.44,1663.57 L611.70,1663.57 L609.96,1663.56 L608.22,1663.56 L606.48,1663.55 L604.75,1663.55 L603.02,1663.54 L601.29,1663.54 L599.57,1663.53 L597.85,1663.53 L596.13,1663.53 L594.42,1663.52 L592.70,1663.52 L591.00,1663.51 L589.29,1663.51 L587.59,1663.50 L585.89,1663.50 L584.20,1663.50 L582.50,1663.49 L580.81,1663.49 L579.13,1663.48 L577.44,1663.48 L575.76,1663.48 L574.09,1663.47 L572.41,1663.47 L570.74,1663.46 L569.08,1663.46 L567.41,1663.45 L565.75,1663.45 L564.09,1663.44 L562.44,1663.44 L560.78,1663.43 L559.14,1663.43 L557.49,1663.42 L555.85,1663.42 L554.21,1663.41 L552.57,1663.41 L550.94,1663.40 L549.31,1663.40 L547.68,1663.39 L546.06,1663.39 L544.43,1663.38 L542.82,1663.38 L541.20,1663.37 L539.59,1663.37 L537.98,1663.36 L536.38,1663.36 L534.77,1663.35 L533.18,1663.35 L531.58,1663.34 L529.99,1663.34 L528.40,1663.33 L526.81,1663.32 L525.23,1663.32 L523.65,1663.31 L522.07,1663.31 L520.49,1663.30 L518.92,1663.30 L517.35,1663.29 L515.79,1663.29 L514.23,1663.28 L512.67,1663.28 L511.11,1663.27 L509.56,1663.27 L508.01,1663.26 L506.46,1663.26 L504.92,1663.25 L503.38,1663.25 L501.84,1663.25 L500.31,1663.24 L498.78,1663.24 L497.25,1663.23 L495.73,1663.23 L494.21,1663.23 L492.69,1663.22 L491.17,1663.22 L489.66,1663.22 L488.15,1663.21 L486.64,1663.21 L485.14,1663.21 L483.64,1663.21 L482.15,1663.20 L480.65,1663.20 L479.16,1663.20 L477.67,1663.20 L476.19,1663.19 L474.71,1663.19 L473.23,1663.19 L471.76,1663.19 L470.28,1663.19 L468.82,1663.18 L467.35,1663.18 L465.89,1663.18 L464.43,1663.18 L462.97,1663.18 L461.52,1663.18 L460.07,1663.17 L458.62,1663.17 L457.18,1663.17 L455.74,1663.17 L454.30,1663.17 L452.87,1663.16 L451.43,1663.16 L450.01,1663.16 L448.58,1663.16 L447.16,1663.16 L445.74,1663.16 L444.32,1663.15 L442.91,1663.15 L441.50,1663.15 L440.10,1663.15 L438.69,1663.14 L437.29,1663.14 L435.89,1663.14 L434.50,1663.14 L433.11,1663.13 L431.72,1663.13 L430.34,1663.13 L428.96,1663.13 L427.58,1663.12 L426.20,1663.12 L424.83,1663.12 L423.46,1663.11 L422.09,1663.11 L420.73,1663.10 L419.37,1663.09 L418.01,1663.08 L416.66,1663.07 L415.31,1663.06 L413.96,1663.05 L412.62,1663.04 L411.28,1663.02 L409.94,1663.01 L408.60,1662.99 L407.27,1662.98 L405.94,1662.96 L404.62,1662.94 L403.29,1662.92 L401.98,1662.90 L400.66,1662.88 L399.35,1662.86 L398.04,1662.84 L396.73,1662.82 L395.42,1662.80 L394.12,1662.77 L392.83,1662.75 L391.53,1662.73 L390.24,1662.70 L388.95,1662.68 L387.67,1662.65 L386.38,1662.63 L385.11,1662.60 L383.83,1662.58 L382.56,1662.55 L381.29,1662.53 L380.02,1662.50 L378.76,1662.47 L377.50,1662.45 L376.24,1662.42 L374.98,1662.39 L373.73,1662.37 L372.49,1662.34 L371.24,1662.31 L370.00,1662.29 L368.76,1662.26 L367.53,1662.24 L366.29,1662.21 L365.06,1662.18 L363.84,1662.16 L362.61,1662.13 L361.39,1662.11 L360.18,1662.08 L358.96,1662.06 L357.75,1662.03 L356.55,1662.01 L355.34,1661.99 L354.14,1661.96 L352.94,1661.94 L351.75,1661.92 L350.55,1661.90 L349.37,1661.88 L348.18,1661.85 L347.00,1661.83 L345.82,1661.80 L344.64,1661.78 L343.47,1661.75 L342.30,1661.72 L341.13,1661.69 L339.97,1661.65 L338.80,1661.62 L337.65,1661.59 L336.49,1661.55 L335.34,1661.51 L334.19,1661.48 L333.05,1661.44 L331.90,1661.40 L330.77,1661.36 L329.63,1661.32 L328.50,1661.28 L327.37,1661.24 L326.24,1661.20 L325.12,1661.16 L324.00,1661.12 L322.88,1661.07 L321.76,1661.03 L320.65,1660.99 L319.54,1660.95 L318.44,1660.90 L317.34,1660.86 L316.24,1660.82 L315.14,1660.77 L314.05,1660.73 L312.96,1660.69 L311.87,1660.65 L310.79,1660.61 L309.71,1660.56 L308.63,1660.52 L307.56,1660.48 L306.49,1660.44 L305.42,1660.40 L304.36,1660.36 L303.30,1660.33 L302.24,1660.29 L301.18,1660.25 L300.13,1660.22 L299.08,1660.18 L298.04,1660.15 L296.99,1660.11 L295.95,1660.08 L294.92,1660.05 L293.88,1660.02 L292.85,1659.99 L291.82,1659.97 L290.80,1659.94 L289.78,1659.91 L288.76,1659.89 L287.75,1659.87 L286.74,1659.85 L285.73,1659.83 L284.72,1659.81 L283.72,1659.80 L282.72,1659.78 L281.72,1659.77 L280.73,1659.76 L279.74,1659.75 L278.75,1659.74 L277.77,1659.74 L276.79,1659.73 L275.81,1659.73 L274.84,1659.73 L273.87,1659.74 L272.90,1659.74 L271.93,1659.74 L270.97,1659.73 L270.01,1659.73 L269.06,1659.72 L268.10,1659.72 L267.15,1659.71 L266.21,1659.70 L265.26,1659.69 L264.32,1659.68 L263.39,1659.67 L262.45,1659.66 L261.52,1659.65 L260.59,1659.64 L259.67,1659.63 L258.75,1659.62 L257.83,1659.61 L256.91,1659.60 L256.00,1659.59 L255.09,1659.58 L254.19,1659.57 L253.28,1659.56 L252.38,1659.55 L251.49,1659.54 L250.59,1659.53 L249.70,1659.52 L248.81,1659.51 L247.93,1659.49 L247.05,1659.47 L246.17,1659.44 L245.30,1659.42 L244.42,1659.40 L243.56,1659.37 L242.69,1659.34 L241.83,1659.32 L240.97,1659.29 L240.11,1659.27 L239.26,1659.24 L238.41,1659.22 L237.56,1659.20 L236.72,1659.18 L235.88,1659.17 L235.04,1659.16 L234.20,1659.15 L233.37,1659.14 L232.54,1659.14 L231.72,1659.14 L230.90,1659.15 L230.08,1659.16 L229.26,1659.18 L228.45,1659.20 L227.64,1659.23 L226.83,1659.26 L226.03,1659.29 L225.23,1659.33 L224.43,1659.36 L223.64,1659.41 L222.85,1659.45 L222.06,1659.50 L221.27,1659.54 L220.49,1659.60 L219.71,1659.65 L218.94,1659.71 L218.17,1659.76 L217.40,1659.82 L216.63,1659.89 L215.87,1659.95 L215.11,1660.02 L214.35,1660.08 L213.60,1660.15 L212.85,1660.22 L212.10,1660.29 L211.35,1660.37 L210.61,1660.43 L209.87,1660.49 L209.14,1660.54 L208.41,1660.60 L207.68,1660.66 L206.95,1660.72 L206.23,1660.78 L205.51,1660.86 L204.79,1660.95 L204.08,1661.04 L203.37,1661.16 L202.66,1661.28 L201.96,1661.42 L201.26,1661.57 L200.56,1661.73 L199.87,1661.90 L199.17,1662.08 L198.49,1662.26 L197.80,1662.45 L197.12,1662.64 L196.44,1662.84 L195.76,1663.04 L195.09,1663.24 L194.42,1663.44 L193.75,1663.64 L193.09,1663.85 L192.43,1664.05 L191.77,1664.27 L191.12,1664.48 L190.47,1664.70 L189.82,1664.92 L189.17,1665.15 L188.53,1665.39 L187.89,1665.62 L187.26,1665.87 L186.62,1666.12 L185.99,1666.37 L185.37,1666.63 L184.75,1666.90 L184.13,1667.17 L183.51,1667.44 L182.89,1667.72 L182.28,1668.01 L181.68,1668.30 L181.07,1668.59 L180.47,1668.89 L179.87,1669.20 L179.28,1669.51 L178.68,1669.82 L178.10,1670.14 L177.51,1670.47 L176.93,1670.80 L176.35,1671.14 L175.77,1671.49 L175.20,1671.84 L174.63,1672.20 L174.06,1672.57 L173.49,1672.94 L172.93,1673.31 L172.38,1673.69 L171.82,1674.07 L171.27,1674.45 L170.72,1674.83 L170.18,1675.21 L169.63,1675.59 L169.09,1675.97 L168.56,1676.35 L168.02,1676.73 L167.49,1677.11 L166.97,1677.48 L166.44,1677.86 L165.92,1678.24 L165.41,1678.62 L164.89,1679.00 L164.38,1679.38 L163.87,1679.76 L163.37,1680.13 L162.86,1680.51 L162.37,1680.89 L161.87,1681.27 L161.38,1681.65 L160.89,1682.02 L160.40,1682.40 L159.92,1682.78 L159.44,1683.15 L158.96,1683.51 L158.49,1683.85 L158.02,1684.19 L157.55,1684.51 L157.08,1684.83 L156.62,1685.15 L156.16,1685.47 L155.71,1685.79 L155.26,1686.11 L154.81,1686.44 L154.36,1686.78 L153.92,1687.13 L153.48,1687.49 L153.04,1687.87 L152.61,1688.26 L152.18,1688.67 L151.75,1689.11 L151.33,1689.56 L150.90,1690.04 L150.49,1690.53 L150.07,1691.05 L149.66,1691.58 L149.25,1692.11 L148.84,1692.66 L148.44,1693.22 L148.04,1693.77 L147.65,1694.33 L147.25,1694.89 L146.86,1695.44 L146.48,1695.99 L146.09,1696.53 L145.71,1697.07 L145.33,1697.60 L144.96,1698.16 L144.59,1698.72 L144.22,1699.28 L143.85,1699.83 L143.49,1700.38 L143.13,1700.93 L142.78,1701.49 L142.42,1702.04 L142.08,1702.59 L141.73,1703.13 L141.38,1703.68 L141.04,1704.23 L140.71,1704.78 L140.37,1705.33 L140.04,1705.87 L139.71,1706.42 L139.39,1706.97 L139.07,1707.52 L138.75,1708.07 L138.43,1708.62 L138.12,1709.16 L137.81,1709.71 L137.51,1710.27 L137.20,1710.82 L136.90,1711.37 L136.61,1711.92 L136.31,1712.48 L136.02,1713.04 L135.73,1713.60 L135.45,1714.16 L135.17,1714.72 L134.89,1715.29 L134.62,1715.86 L134.34,1716.43 L134.07,1717.01 L133.81,1717.59 L133.55,1718.17 L133.29,1718.75 L133.03,1719.34 L132.78,1719.93 L132.53,1720.53 L132.28,1721.13 L132.04,1721.73 L131.79,1722.35 L131.56,1722.96 L131.32,1723.59 L131.09,1724.22 L130.86,1724.86 L130.64,1725.51 L130.41,1726.16 L130.20,1726.83 L129.98,1727.50 L129.77,1728.18 L129.56,1728.87 L129.35,1729.57 L129.15,1730.28 L128.95,1731.00 L128.75,1731.74 L128.55,1732.48 L128.36,1733.23 L128.17,1734.00 L127.99,1734.77 L127.81,1735.56 L127.63,1736.36 L127.45,1737.16 L127.28,1737.98 L127.11,1738.81 L126.95,1739.65 L126.78,1740.50 L126.62,1741.36 L126.47,1742.22 L126.31,1743.10 L126.16,1743.98 L126.01,1744.87 L125.87,1745.77 L125.73,1746.68 L125.59,1747.59 L125.45,1748.50 L125.32,1749.42 L125.19,1750.34 L125.07,1751.26 L124.94,1752.18 L124.82,1753.10 L124.71,1754.02 L124.59,1754.93 L124.48,1755.85 L124.38,1756.75 L124.27,1757.66 L124.17,1758.55 L124.07,1759.43 L123.98,1760.31 L123.89,1761.17 L123.80,1762.02 L123.71,1762.85 L123.63,1763.67 L123.55,1764.47 L123.48,1765.26 L123.40,1766.02 L123.33,1766.76 L123.27,1767.48 L123.20,1768.18 L123.14,1768.85 L123.08,1769.50 L123.03,1770.11 L122.98,1770.70 L122.93,1771.26 L122.88,1771.79 L122.84,1772.29 L122.80,1772.75 L122.77,1773.18 L122.74,1773.58 L122.71,1773.94 L122.68,1774.26 L122.66,1774.55 L122.64,1774.80 L122.62,1775.01 L122.60,1775.19 L122.59,1775.32 L122.59,1775.42 L122.58,1775.48 L122.58,1775.50 Z" fill="#00BFC4" fill-opacity="0.2" stroke="none"/>
<line x1="357" x2="386" y1="1712.4" y2="1712.4" stroke="#F8766D" stroke-width="3.0"/>
<text x="400" y="1719.2" fill="#F8766D" font-family="Liberation Sans, sans-serif" font-weight="bold" font-size="28.7">Corallinophycidae</text>
<line x1="357" x2="386" y1="1747.7" y2="1747.7" stroke="#00BFC4" stroke-width="3.0"/>
<text x="400" y="1755.2" fill="#00BFC4" font-family="Liberation Sans, sans-serif" font-weight="bold" font-size="28.7">Peyssonneliales</text>
<text x="95.0" y="1243.95" fill="#000" font-family="Liberation Sans, sans-serif" font-weight="bold" font-size="29.6">C</text>
<rect x="84.6" y="1202.5" width="835.1" height="600.2" fill="none" stroke="#333333" stroke-width="2.8" stroke-linejoin="round"/>
<line x1="77" x2="84.6" y1="1775.50" y2="1775.50" stroke="#333333" stroke-width="2.7"/>
<text transform="translate(72.2,1783.30) scale(1,1.05)" text-anchor="end" fill="#4D4D4D" font-family="Liberation Sans, sans-serif" font-size="22.9">0</text>
<line x1="77" x2="84.6" y1="1580.25" y2="1580.25" stroke="#333333" stroke-width="2.7"/>
<text transform="translate(72.2,1588.05) scale(1,1.05)" text-anchor="end" fill="#4D4D4D" font-family="Liberation Sans, sans-serif" font-size="22.9">100</text>
<line x1="77" x2="84.6" y1="1385.00" y2="1385.00" stroke="#333333" stroke-width="2.7"/>
<text transform="translate(72.2,1392.80) scale(1,1.05)" text-anchor="end" fill="#4D4D4D" font-family="Liberation Sans, sans-serif" font-size="22.9">200</text>
<text transform="translate(21.9,1482.8) rotate(-90)" text-anchor="middle" fill="#000" font-family="Liberation Sans, sans-serif" font-size="29.4" letter-spacing="-0.34">Number of Species</text>
</g>
<line x1="122.58" x2="122.58" y1="1802.7" y2="1810" stroke="#333333" stroke-width="2.7"/>
<text transform="translate(122.58,1832.6) scale(1,1.05)" text-anchor="middle" fill="#4D4D4D" font-family="Liberation Sans, sans-serif" font-size="22.9">0</text>
<line x1="274.45" x2="274.45" y1="1802.7" y2="1810" stroke="#333333" stroke-width="2.7"/>
<text transform="translate(274.45,1832.6) scale(1,1.05)" text-anchor="middle" fill="#4D4D4D" font-family="Liberation Sans, sans-serif" font-size="22.9">1000</text>
<line x1="426.32" x2="426.32" y1="1802.7" y2="1810" stroke="#333333" stroke-width="2.7"/>
<text transform="translate(426.32,1832.6) scale(1,1.05)" text-anchor="middle" fill="#4D4D4D" font-family="Liberation Sans, sans-serif" font-size="22.9">2000</text>
<line x1="578.19" x2="578.19" y1="1802.7" y2="1810" stroke="#333333" stroke-width="2.7"/>
<text transform="translate(578.19,1832.6) scale(1,1.05)" text-anchor="middle" fill="#4D4D4D" font-family="Liberation Sans, sans-serif" font-size="22.9">3000</text>
<line x1="730.06" x2="730.06" y1="1802.7" y2="1810" stroke="#333333" stroke-width="2.7"/>
<text transform="translate(730.06,1832.6) scale(1,1.05)" text-anchor="middle" fill="#4D4D4D" font-family="Liberation Sans, sans-serif" font-size="22.9">4000</text>
<line x1="881.93" x2="881.93" y1="1802.7" y2="1810" stroke="#333333" stroke-width="2.7"/>
<text transform="translate(881.93,1832.6) scale(1,1.05)" text-anchor="middle" fill="#4D4D4D" font-family="Liberation Sans, sans-serif" font-size="22.9">5000</text>
<text x="502.55" y="1868.8" text-anchor="middle" fill="#000" font-family="Liberation Sans, sans-serif" font-size="29.4" letter-spacing="-0.34">Number of Sequences</text>
</svg>
</body></html>
